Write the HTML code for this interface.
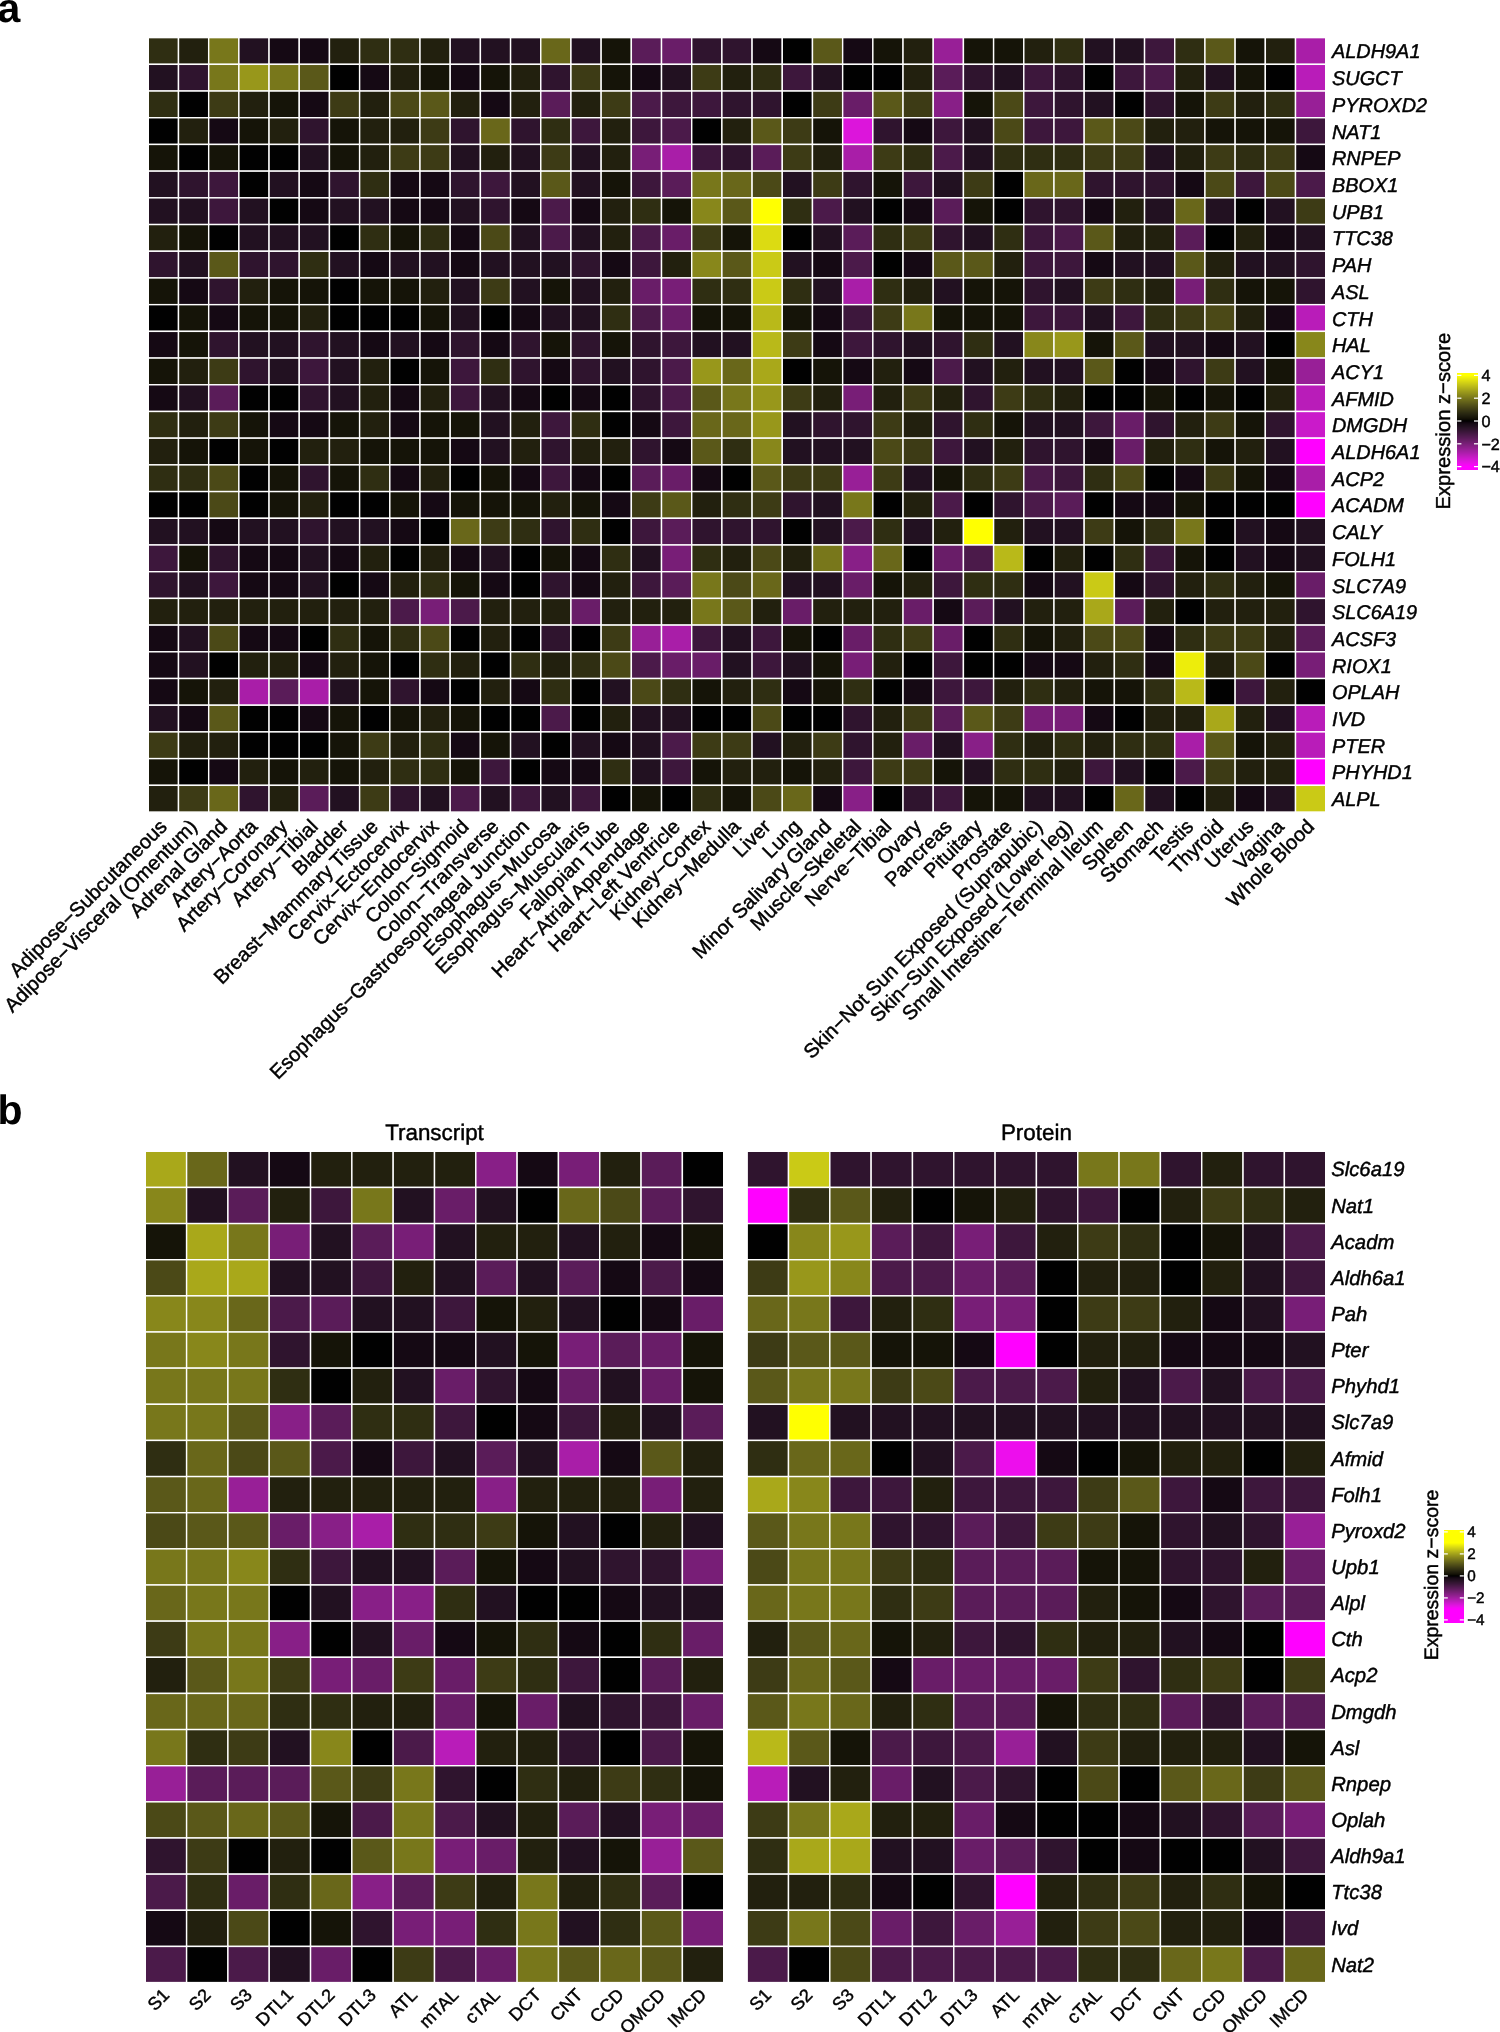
<!DOCTYPE html>
<html><head><meta charset="utf-8"><title>Heatmap</title>
<style>html,body{margin:0;padding:0;background:#fff}body{width:1500px;height:2032px;overflow:hidden;font-family:"Liberation Sans",sans-serif}</style>
</head><body>
<svg width="1500" height="2032" viewBox="0 0 1500 2032" style="display:block">
<rect width="1500" height="2032" fill="#fff"/>
<style>text{text-rendering:geometricPrecision}</style>
<g id="all" opacity="0.999">
<g stroke="#fff" stroke-width="1.4">
<rect x="148.30" y="37.63" width="30.19" height="26.70" fill="#2f2e12"/>
<rect x="178.49" y="37.63" width="30.19" height="26.70" fill="#22200e"/>
<rect x="208.68" y="37.63" width="30.19" height="26.70" fill="#78771b"/>
<rect x="238.87" y="37.63" width="30.19" height="26.70" fill="#221121"/>
<rect x="269.06" y="37.63" width="30.19" height="26.70" fill="#150914"/>
<rect x="299.25" y="37.63" width="30.19" height="26.70" fill="#150914"/>
<rect x="329.44" y="37.63" width="30.19" height="26.70" fill="#22200e"/>
<rect x="359.63" y="37.63" width="30.19" height="26.70" fill="#2f2e12"/>
<rect x="389.82" y="37.63" width="30.19" height="26.70" fill="#2f2e12"/>
<rect x="420.01" y="37.63" width="30.19" height="26.70" fill="#22200e"/>
<rect x="450.20" y="37.63" width="30.19" height="26.70" fill="#221121"/>
<rect x="480.39" y="37.63" width="30.19" height="26.70" fill="#221121"/>
<rect x="510.58" y="37.63" width="30.19" height="26.70" fill="#221121"/>
<rect x="540.77" y="37.63" width="30.19" height="26.70" fill="#69671a"/>
<rect x="570.96" y="37.63" width="30.19" height="26.70" fill="#221121"/>
<rect x="601.15" y="37.63" width="30.19" height="26.70" fill="#151408"/>
<rect x="631.34" y="37.63" width="30.19" height="26.70" fill="#5a1c59"/>
<rect x="661.53" y="37.63" width="30.19" height="26.70" fill="#691d68"/>
<rect x="691.72" y="37.63" width="30.19" height="26.70" fill="#2f142e"/>
<rect x="721.91" y="37.63" width="30.19" height="26.70" fill="#2f142e"/>
<rect x="752.09" y="37.63" width="30.19" height="26.70" fill="#150914"/>
<rect x="782.28" y="37.63" width="30.19" height="26.70" fill="#000000"/>
<rect x="812.47" y="37.63" width="30.19" height="26.70" fill="#5a5819"/>
<rect x="842.66" y="37.63" width="30.19" height="26.70" fill="#150914"/>
<rect x="872.85" y="37.63" width="30.19" height="26.70" fill="#151408"/>
<rect x="903.04" y="37.63" width="30.19" height="26.70" fill="#22200e"/>
<rect x="933.23" y="37.63" width="30.19" height="26.70" fill="#981f97"/>
<rect x="963.42" y="37.63" width="30.19" height="26.70" fill="#151408"/>
<rect x="993.61" y="37.63" width="30.19" height="26.70" fill="#151408"/>
<rect x="1023.80" y="37.63" width="30.19" height="26.70" fill="#22200e"/>
<rect x="1053.99" y="37.63" width="30.19" height="26.70" fill="#2f2e12"/>
<rect x="1084.18" y="37.63" width="30.19" height="26.70" fill="#221121"/>
<rect x="1114.37" y="37.63" width="30.19" height="26.70" fill="#221121"/>
<rect x="1144.56" y="37.63" width="30.19" height="26.70" fill="#3d173c"/>
<rect x="1174.75" y="37.63" width="30.19" height="26.70" fill="#2f2e12"/>
<rect x="1204.94" y="37.63" width="30.19" height="26.70" fill="#5a5819"/>
<rect x="1235.13" y="37.63" width="30.19" height="26.70" fill="#151408"/>
<rect x="1265.32" y="37.63" width="30.19" height="26.70" fill="#22200e"/>
<rect x="1295.51" y="37.63" width="30.19" height="26.70" fill="#a91ea8"/>
<rect x="148.30" y="64.33" width="30.19" height="26.70" fill="#221121"/>
<rect x="178.49" y="64.33" width="30.19" height="26.70" fill="#2f142e"/>
<rect x="208.68" y="64.33" width="30.19" height="26.70" fill="#78771b"/>
<rect x="238.87" y="64.33" width="30.19" height="26.70" fill="#98971b"/>
<rect x="269.06" y="64.33" width="30.19" height="26.70" fill="#78771b"/>
<rect x="299.25" y="64.33" width="30.19" height="26.70" fill="#5a5819"/>
<rect x="329.44" y="64.33" width="30.19" height="26.70" fill="#000000"/>
<rect x="359.63" y="64.33" width="30.19" height="26.70" fill="#150914"/>
<rect x="389.82" y="64.33" width="30.19" height="26.70" fill="#22200e"/>
<rect x="420.01" y="64.33" width="30.19" height="26.70" fill="#151408"/>
<rect x="450.20" y="64.33" width="30.19" height="26.70" fill="#150914"/>
<rect x="480.39" y="64.33" width="30.19" height="26.70" fill="#151408"/>
<rect x="510.58" y="64.33" width="30.19" height="26.70" fill="#22200e"/>
<rect x="540.77" y="64.33" width="30.19" height="26.70" fill="#2f142e"/>
<rect x="570.96" y="64.33" width="30.19" height="26.70" fill="#3d3b15"/>
<rect x="601.15" y="64.33" width="30.19" height="26.70" fill="#151408"/>
<rect x="631.34" y="64.33" width="30.19" height="26.70" fill="#150914"/>
<rect x="661.53" y="64.33" width="30.19" height="26.70" fill="#221121"/>
<rect x="691.72" y="64.33" width="30.19" height="26.70" fill="#3d3b15"/>
<rect x="721.91" y="64.33" width="30.19" height="26.70" fill="#22200e"/>
<rect x="752.09" y="64.33" width="30.19" height="26.70" fill="#2f2e12"/>
<rect x="782.28" y="64.33" width="30.19" height="26.70" fill="#3d173c"/>
<rect x="812.47" y="64.33" width="30.19" height="26.70" fill="#221121"/>
<rect x="842.66" y="64.33" width="30.19" height="26.70" fill="#000000"/>
<rect x="872.85" y="64.33" width="30.19" height="26.70" fill="#000000"/>
<rect x="903.04" y="64.33" width="30.19" height="26.70" fill="#22200e"/>
<rect x="933.23" y="64.33" width="30.19" height="26.70" fill="#5a1c59"/>
<rect x="963.42" y="64.33" width="30.19" height="26.70" fill="#2f142e"/>
<rect x="993.61" y="64.33" width="30.19" height="26.70" fill="#221121"/>
<rect x="1023.80" y="64.33" width="30.19" height="26.70" fill="#3d173c"/>
<rect x="1053.99" y="64.33" width="30.19" height="26.70" fill="#2f142e"/>
<rect x="1084.18" y="64.33" width="30.19" height="26.70" fill="#000000"/>
<rect x="1114.37" y="64.33" width="30.19" height="26.70" fill="#3d173c"/>
<rect x="1144.56" y="64.33" width="30.19" height="26.70" fill="#4b1a4a"/>
<rect x="1174.75" y="64.33" width="30.19" height="26.70" fill="#22200e"/>
<rect x="1204.94" y="64.33" width="30.19" height="26.70" fill="#221121"/>
<rect x="1235.13" y="64.33" width="30.19" height="26.70" fill="#151408"/>
<rect x="1265.32" y="64.33" width="30.19" height="26.70" fill="#000000"/>
<rect x="1295.51" y="64.33" width="30.19" height="26.70" fill="#b91cb9"/>
<rect x="148.30" y="91.04" width="30.19" height="26.70" fill="#2f2e12"/>
<rect x="178.49" y="91.04" width="30.19" height="26.70" fill="#000000"/>
<rect x="208.68" y="91.04" width="30.19" height="26.70" fill="#3d3b15"/>
<rect x="238.87" y="91.04" width="30.19" height="26.70" fill="#22200e"/>
<rect x="269.06" y="91.04" width="30.19" height="26.70" fill="#151408"/>
<rect x="299.25" y="91.04" width="30.19" height="26.70" fill="#150914"/>
<rect x="329.44" y="91.04" width="30.19" height="26.70" fill="#3d3b15"/>
<rect x="359.63" y="91.04" width="30.19" height="26.70" fill="#22200e"/>
<rect x="389.82" y="91.04" width="30.19" height="26.70" fill="#4b4917"/>
<rect x="420.01" y="91.04" width="30.19" height="26.70" fill="#5a5819"/>
<rect x="450.20" y="91.04" width="30.19" height="26.70" fill="#22200e"/>
<rect x="480.39" y="91.04" width="30.19" height="26.70" fill="#150914"/>
<rect x="510.58" y="91.04" width="30.19" height="26.70" fill="#22200e"/>
<rect x="540.77" y="91.04" width="30.19" height="26.70" fill="#5a1c59"/>
<rect x="570.96" y="91.04" width="30.19" height="26.70" fill="#22200e"/>
<rect x="601.15" y="91.04" width="30.19" height="26.70" fill="#3d3b15"/>
<rect x="631.34" y="91.04" width="30.19" height="26.70" fill="#4b1a4a"/>
<rect x="661.53" y="91.04" width="30.19" height="26.70" fill="#3d173c"/>
<rect x="691.72" y="91.04" width="30.19" height="26.70" fill="#3d173c"/>
<rect x="721.91" y="91.04" width="30.19" height="26.70" fill="#2f142e"/>
<rect x="752.09" y="91.04" width="30.19" height="26.70" fill="#2f142e"/>
<rect x="782.28" y="91.04" width="30.19" height="26.70" fill="#000000"/>
<rect x="812.47" y="91.04" width="30.19" height="26.70" fill="#3d3b15"/>
<rect x="842.66" y="91.04" width="30.19" height="26.70" fill="#691d68"/>
<rect x="872.85" y="91.04" width="30.19" height="26.70" fill="#5a5819"/>
<rect x="903.04" y="91.04" width="30.19" height="26.70" fill="#3d3b15"/>
<rect x="933.23" y="91.04" width="30.19" height="26.70" fill="#881f87"/>
<rect x="963.42" y="91.04" width="30.19" height="26.70" fill="#151408"/>
<rect x="993.61" y="91.04" width="30.19" height="26.70" fill="#4b4917"/>
<rect x="1023.80" y="91.04" width="30.19" height="26.70" fill="#3d173c"/>
<rect x="1053.99" y="91.04" width="30.19" height="26.70" fill="#2f142e"/>
<rect x="1084.18" y="91.04" width="30.19" height="26.70" fill="#221121"/>
<rect x="1114.37" y="91.04" width="30.19" height="26.70" fill="#000000"/>
<rect x="1144.56" y="91.04" width="30.19" height="26.70" fill="#2f142e"/>
<rect x="1174.75" y="91.04" width="30.19" height="26.70" fill="#151408"/>
<rect x="1204.94" y="91.04" width="30.19" height="26.70" fill="#3d3b15"/>
<rect x="1235.13" y="91.04" width="30.19" height="26.70" fill="#22200e"/>
<rect x="1265.32" y="91.04" width="30.19" height="26.70" fill="#2f2e12"/>
<rect x="1295.51" y="91.04" width="30.19" height="26.70" fill="#981f97"/>
<rect x="148.30" y="117.74" width="30.19" height="26.70" fill="#000000"/>
<rect x="178.49" y="117.74" width="30.19" height="26.70" fill="#22200e"/>
<rect x="208.68" y="117.74" width="30.19" height="26.70" fill="#150914"/>
<rect x="238.87" y="117.74" width="30.19" height="26.70" fill="#151408"/>
<rect x="269.06" y="117.74" width="30.19" height="26.70" fill="#22200e"/>
<rect x="299.25" y="117.74" width="30.19" height="26.70" fill="#2f142e"/>
<rect x="329.44" y="117.74" width="30.19" height="26.70" fill="#151408"/>
<rect x="359.63" y="117.74" width="30.19" height="26.70" fill="#22200e"/>
<rect x="389.82" y="117.74" width="30.19" height="26.70" fill="#22200e"/>
<rect x="420.01" y="117.74" width="30.19" height="26.70" fill="#3d3b15"/>
<rect x="450.20" y="117.74" width="30.19" height="26.70" fill="#2f142e"/>
<rect x="480.39" y="117.74" width="30.19" height="26.70" fill="#69671a"/>
<rect x="510.58" y="117.74" width="30.19" height="26.70" fill="#2f142e"/>
<rect x="540.77" y="117.74" width="30.19" height="26.70" fill="#2f2e12"/>
<rect x="570.96" y="117.74" width="30.19" height="26.70" fill="#3d173c"/>
<rect x="601.15" y="117.74" width="30.19" height="26.70" fill="#22200e"/>
<rect x="631.34" y="117.74" width="30.19" height="26.70" fill="#3d173c"/>
<rect x="661.53" y="117.74" width="30.19" height="26.70" fill="#4b1a4a"/>
<rect x="691.72" y="117.74" width="30.19" height="26.70" fill="#000000"/>
<rect x="721.91" y="117.74" width="30.19" height="26.70" fill="#22200e"/>
<rect x="752.09" y="117.74" width="30.19" height="26.70" fill="#5a5819"/>
<rect x="782.28" y="117.74" width="30.19" height="26.70" fill="#3d3b15"/>
<rect x="812.47" y="117.74" width="30.19" height="26.70" fill="#151408"/>
<rect x="842.66" y="117.74" width="30.19" height="26.70" fill="#dc15db"/>
<rect x="872.85" y="117.74" width="30.19" height="26.70" fill="#2f142e"/>
<rect x="903.04" y="117.74" width="30.19" height="26.70" fill="#150914"/>
<rect x="933.23" y="117.74" width="30.19" height="26.70" fill="#3d173c"/>
<rect x="963.42" y="117.74" width="30.19" height="26.70" fill="#221121"/>
<rect x="993.61" y="117.74" width="30.19" height="26.70" fill="#4b4917"/>
<rect x="1023.80" y="117.74" width="30.19" height="26.70" fill="#3d173c"/>
<rect x="1053.99" y="117.74" width="30.19" height="26.70" fill="#3d173c"/>
<rect x="1084.18" y="117.74" width="30.19" height="26.70" fill="#5a5819"/>
<rect x="1114.37" y="117.74" width="30.19" height="26.70" fill="#4b4917"/>
<rect x="1144.56" y="117.74" width="30.19" height="26.70" fill="#22200e"/>
<rect x="1174.75" y="117.74" width="30.19" height="26.70" fill="#22200e"/>
<rect x="1204.94" y="117.74" width="30.19" height="26.70" fill="#151408"/>
<rect x="1235.13" y="117.74" width="30.19" height="26.70" fill="#151408"/>
<rect x="1265.32" y="117.74" width="30.19" height="26.70" fill="#151408"/>
<rect x="1295.51" y="117.74" width="30.19" height="26.70" fill="#3d173c"/>
<rect x="148.30" y="144.44" width="30.19" height="26.70" fill="#151408"/>
<rect x="178.49" y="144.44" width="30.19" height="26.70" fill="#000000"/>
<rect x="208.68" y="144.44" width="30.19" height="26.70" fill="#151408"/>
<rect x="238.87" y="144.44" width="30.19" height="26.70" fill="#000000"/>
<rect x="269.06" y="144.44" width="30.19" height="26.70" fill="#000000"/>
<rect x="299.25" y="144.44" width="30.19" height="26.70" fill="#221121"/>
<rect x="329.44" y="144.44" width="30.19" height="26.70" fill="#151408"/>
<rect x="359.63" y="144.44" width="30.19" height="26.70" fill="#22200e"/>
<rect x="389.82" y="144.44" width="30.19" height="26.70" fill="#3d3b15"/>
<rect x="420.01" y="144.44" width="30.19" height="26.70" fill="#3d3b15"/>
<rect x="450.20" y="144.44" width="30.19" height="26.70" fill="#221121"/>
<rect x="480.39" y="144.44" width="30.19" height="26.70" fill="#22200e"/>
<rect x="510.58" y="144.44" width="30.19" height="26.70" fill="#221121"/>
<rect x="540.77" y="144.44" width="30.19" height="26.70" fill="#3d3b15"/>
<rect x="570.96" y="144.44" width="30.19" height="26.70" fill="#221121"/>
<rect x="601.15" y="144.44" width="30.19" height="26.70" fill="#22200e"/>
<rect x="631.34" y="144.44" width="30.19" height="26.70" fill="#781e77"/>
<rect x="661.53" y="144.44" width="30.19" height="26.70" fill="#a91ea8"/>
<rect x="691.72" y="144.44" width="30.19" height="26.70" fill="#3d173c"/>
<rect x="721.91" y="144.44" width="30.19" height="26.70" fill="#2f142e"/>
<rect x="752.09" y="144.44" width="30.19" height="26.70" fill="#5a1c59"/>
<rect x="782.28" y="144.44" width="30.19" height="26.70" fill="#3d3b15"/>
<rect x="812.47" y="144.44" width="30.19" height="26.70" fill="#22200e"/>
<rect x="842.66" y="144.44" width="30.19" height="26.70" fill="#a91ea8"/>
<rect x="872.85" y="144.44" width="30.19" height="26.70" fill="#3d3b15"/>
<rect x="903.04" y="144.44" width="30.19" height="26.70" fill="#2f2e12"/>
<rect x="933.23" y="144.44" width="30.19" height="26.70" fill="#4b1a4a"/>
<rect x="963.42" y="144.44" width="30.19" height="26.70" fill="#221121"/>
<rect x="993.61" y="144.44" width="30.19" height="26.70" fill="#2f2e12"/>
<rect x="1023.80" y="144.44" width="30.19" height="26.70" fill="#2f2e12"/>
<rect x="1053.99" y="144.44" width="30.19" height="26.70" fill="#2f2e12"/>
<rect x="1084.18" y="144.44" width="30.19" height="26.70" fill="#3d3b15"/>
<rect x="1114.37" y="144.44" width="30.19" height="26.70" fill="#3d3b15"/>
<rect x="1144.56" y="144.44" width="30.19" height="26.70" fill="#221121"/>
<rect x="1174.75" y="144.44" width="30.19" height="26.70" fill="#22200e"/>
<rect x="1204.94" y="144.44" width="30.19" height="26.70" fill="#3d3b15"/>
<rect x="1235.13" y="144.44" width="30.19" height="26.70" fill="#2f2e12"/>
<rect x="1265.32" y="144.44" width="30.19" height="26.70" fill="#3d3b15"/>
<rect x="1295.51" y="144.44" width="30.19" height="26.70" fill="#150914"/>
<rect x="148.30" y="171.15" width="30.19" height="26.70" fill="#221121"/>
<rect x="178.49" y="171.15" width="30.19" height="26.70" fill="#2f142e"/>
<rect x="208.68" y="171.15" width="30.19" height="26.70" fill="#3d173c"/>
<rect x="238.87" y="171.15" width="30.19" height="26.70" fill="#000000"/>
<rect x="269.06" y="171.15" width="30.19" height="26.70" fill="#221121"/>
<rect x="299.25" y="171.15" width="30.19" height="26.70" fill="#150914"/>
<rect x="329.44" y="171.15" width="30.19" height="26.70" fill="#2f142e"/>
<rect x="359.63" y="171.15" width="30.19" height="26.70" fill="#2f2e12"/>
<rect x="389.82" y="171.15" width="30.19" height="26.70" fill="#150914"/>
<rect x="420.01" y="171.15" width="30.19" height="26.70" fill="#150914"/>
<rect x="450.20" y="171.15" width="30.19" height="26.70" fill="#2f142e"/>
<rect x="480.39" y="171.15" width="30.19" height="26.70" fill="#3d173c"/>
<rect x="510.58" y="171.15" width="30.19" height="26.70" fill="#221121"/>
<rect x="540.77" y="171.15" width="30.19" height="26.70" fill="#5a5819"/>
<rect x="570.96" y="171.15" width="30.19" height="26.70" fill="#221121"/>
<rect x="601.15" y="171.15" width="30.19" height="26.70" fill="#151408"/>
<rect x="631.34" y="171.15" width="30.19" height="26.70" fill="#3d173c"/>
<rect x="661.53" y="171.15" width="30.19" height="26.70" fill="#5a1c59"/>
<rect x="691.72" y="171.15" width="30.19" height="26.70" fill="#78771b"/>
<rect x="721.91" y="171.15" width="30.19" height="26.70" fill="#69671a"/>
<rect x="752.09" y="171.15" width="30.19" height="26.70" fill="#4b4917"/>
<rect x="782.28" y="171.15" width="30.19" height="26.70" fill="#221121"/>
<rect x="812.47" y="171.15" width="30.19" height="26.70" fill="#3d3b15"/>
<rect x="842.66" y="171.15" width="30.19" height="26.70" fill="#2f142e"/>
<rect x="872.85" y="171.15" width="30.19" height="26.70" fill="#151408"/>
<rect x="903.04" y="171.15" width="30.19" height="26.70" fill="#3d173c"/>
<rect x="933.23" y="171.15" width="30.19" height="26.70" fill="#221121"/>
<rect x="963.42" y="171.15" width="30.19" height="26.70" fill="#3d3b15"/>
<rect x="993.61" y="171.15" width="30.19" height="26.70" fill="#000000"/>
<rect x="1023.80" y="171.15" width="30.19" height="26.70" fill="#69671a"/>
<rect x="1053.99" y="171.15" width="30.19" height="26.70" fill="#69671a"/>
<rect x="1084.18" y="171.15" width="30.19" height="26.70" fill="#2f142e"/>
<rect x="1114.37" y="171.15" width="30.19" height="26.70" fill="#2f142e"/>
<rect x="1144.56" y="171.15" width="30.19" height="26.70" fill="#2f142e"/>
<rect x="1174.75" y="171.15" width="30.19" height="26.70" fill="#150914"/>
<rect x="1204.94" y="171.15" width="30.19" height="26.70" fill="#4b4917"/>
<rect x="1235.13" y="171.15" width="30.19" height="26.70" fill="#3d173c"/>
<rect x="1265.32" y="171.15" width="30.19" height="26.70" fill="#4b4917"/>
<rect x="1295.51" y="171.15" width="30.19" height="26.70" fill="#4b1a4a"/>
<rect x="148.30" y="197.85" width="30.19" height="26.70" fill="#221121"/>
<rect x="178.49" y="197.85" width="30.19" height="26.70" fill="#221121"/>
<rect x="208.68" y="197.85" width="30.19" height="26.70" fill="#3d173c"/>
<rect x="238.87" y="197.85" width="30.19" height="26.70" fill="#221121"/>
<rect x="269.06" y="197.85" width="30.19" height="26.70" fill="#000000"/>
<rect x="299.25" y="197.85" width="30.19" height="26.70" fill="#150914"/>
<rect x="329.44" y="197.85" width="30.19" height="26.70" fill="#221121"/>
<rect x="359.63" y="197.85" width="30.19" height="26.70" fill="#221121"/>
<rect x="389.82" y="197.85" width="30.19" height="26.70" fill="#150914"/>
<rect x="420.01" y="197.85" width="30.19" height="26.70" fill="#150914"/>
<rect x="450.20" y="197.85" width="30.19" height="26.70" fill="#221121"/>
<rect x="480.39" y="197.85" width="30.19" height="26.70" fill="#2f142e"/>
<rect x="510.58" y="197.85" width="30.19" height="26.70" fill="#150914"/>
<rect x="540.77" y="197.85" width="30.19" height="26.70" fill="#4b1a4a"/>
<rect x="570.96" y="197.85" width="30.19" height="26.70" fill="#150914"/>
<rect x="601.15" y="197.85" width="30.19" height="26.70" fill="#22200e"/>
<rect x="631.34" y="197.85" width="30.19" height="26.70" fill="#2f2e12"/>
<rect x="661.53" y="197.85" width="30.19" height="26.70" fill="#151408"/>
<rect x="691.72" y="197.85" width="30.19" height="26.70" fill="#88871b"/>
<rect x="721.91" y="197.85" width="30.19" height="26.70" fill="#5a5819"/>
<rect x="752.09" y="197.85" width="30.19" height="26.70" fill="#ffff00"/>
<rect x="782.28" y="197.85" width="30.19" height="26.70" fill="#2f2e12"/>
<rect x="812.47" y="197.85" width="30.19" height="26.70" fill="#4b1a4a"/>
<rect x="842.66" y="197.85" width="30.19" height="26.70" fill="#221121"/>
<rect x="872.85" y="197.85" width="30.19" height="26.70" fill="#000000"/>
<rect x="903.04" y="197.85" width="30.19" height="26.70" fill="#150914"/>
<rect x="933.23" y="197.85" width="30.19" height="26.70" fill="#5a1c59"/>
<rect x="963.42" y="197.85" width="30.19" height="26.70" fill="#151408"/>
<rect x="993.61" y="197.85" width="30.19" height="26.70" fill="#000000"/>
<rect x="1023.80" y="197.85" width="30.19" height="26.70" fill="#2f142e"/>
<rect x="1053.99" y="197.85" width="30.19" height="26.70" fill="#2f142e"/>
<rect x="1084.18" y="197.85" width="30.19" height="26.70" fill="#150914"/>
<rect x="1114.37" y="197.85" width="30.19" height="26.70" fill="#22200e"/>
<rect x="1144.56" y="197.85" width="30.19" height="26.70" fill="#221121"/>
<rect x="1174.75" y="197.85" width="30.19" height="26.70" fill="#69671a"/>
<rect x="1204.94" y="197.85" width="30.19" height="26.70" fill="#221121"/>
<rect x="1235.13" y="197.85" width="30.19" height="26.70" fill="#000000"/>
<rect x="1265.32" y="197.85" width="30.19" height="26.70" fill="#221121"/>
<rect x="1295.51" y="197.85" width="30.19" height="26.70" fill="#3d3b15"/>
<rect x="148.30" y="224.55" width="30.19" height="26.70" fill="#22200e"/>
<rect x="178.49" y="224.55" width="30.19" height="26.70" fill="#151408"/>
<rect x="208.68" y="224.55" width="30.19" height="26.70" fill="#000000"/>
<rect x="238.87" y="224.55" width="30.19" height="26.70" fill="#221121"/>
<rect x="269.06" y="224.55" width="30.19" height="26.70" fill="#221121"/>
<rect x="299.25" y="224.55" width="30.19" height="26.70" fill="#221121"/>
<rect x="329.44" y="224.55" width="30.19" height="26.70" fill="#000000"/>
<rect x="359.63" y="224.55" width="30.19" height="26.70" fill="#2f2e12"/>
<rect x="389.82" y="224.55" width="30.19" height="26.70" fill="#151408"/>
<rect x="420.01" y="224.55" width="30.19" height="26.70" fill="#2f2e12"/>
<rect x="450.20" y="224.55" width="30.19" height="26.70" fill="#150914"/>
<rect x="480.39" y="224.55" width="30.19" height="26.70" fill="#4b4917"/>
<rect x="510.58" y="224.55" width="30.19" height="26.70" fill="#221121"/>
<rect x="540.77" y="224.55" width="30.19" height="26.70" fill="#4b1a4a"/>
<rect x="570.96" y="224.55" width="30.19" height="26.70" fill="#221121"/>
<rect x="601.15" y="224.55" width="30.19" height="26.70" fill="#22200e"/>
<rect x="631.34" y="224.55" width="30.19" height="26.70" fill="#4b1a4a"/>
<rect x="661.53" y="224.55" width="30.19" height="26.70" fill="#691d68"/>
<rect x="691.72" y="224.55" width="30.19" height="26.70" fill="#3d3b15"/>
<rect x="721.91" y="224.55" width="30.19" height="26.70" fill="#151408"/>
<rect x="752.09" y="224.55" width="30.19" height="26.70" fill="#dcdb12"/>
<rect x="782.28" y="224.55" width="30.19" height="26.70" fill="#000000"/>
<rect x="812.47" y="224.55" width="30.19" height="26.70" fill="#221121"/>
<rect x="842.66" y="224.55" width="30.19" height="26.70" fill="#5a1c59"/>
<rect x="872.85" y="224.55" width="30.19" height="26.70" fill="#2f2e12"/>
<rect x="903.04" y="224.55" width="30.19" height="26.70" fill="#3d3b15"/>
<rect x="933.23" y="224.55" width="30.19" height="26.70" fill="#2f142e"/>
<rect x="963.42" y="224.55" width="30.19" height="26.70" fill="#221121"/>
<rect x="993.61" y="224.55" width="30.19" height="26.70" fill="#2f2e12"/>
<rect x="1023.80" y="224.55" width="30.19" height="26.70" fill="#3d173c"/>
<rect x="1053.99" y="224.55" width="30.19" height="26.70" fill="#4b1a4a"/>
<rect x="1084.18" y="224.55" width="30.19" height="26.70" fill="#5a5819"/>
<rect x="1114.37" y="224.55" width="30.19" height="26.70" fill="#22200e"/>
<rect x="1144.56" y="224.55" width="30.19" height="26.70" fill="#22200e"/>
<rect x="1174.75" y="224.55" width="30.19" height="26.70" fill="#5a1c59"/>
<rect x="1204.94" y="224.55" width="30.19" height="26.70" fill="#000000"/>
<rect x="1235.13" y="224.55" width="30.19" height="26.70" fill="#22200e"/>
<rect x="1265.32" y="224.55" width="30.19" height="26.70" fill="#150914"/>
<rect x="1295.51" y="224.55" width="30.19" height="26.70" fill="#221121"/>
<rect x="148.30" y="251.26" width="30.19" height="26.70" fill="#2f142e"/>
<rect x="178.49" y="251.26" width="30.19" height="26.70" fill="#221121"/>
<rect x="208.68" y="251.26" width="30.19" height="26.70" fill="#5a5819"/>
<rect x="238.87" y="251.26" width="30.19" height="26.70" fill="#2f142e"/>
<rect x="269.06" y="251.26" width="30.19" height="26.70" fill="#2f142e"/>
<rect x="299.25" y="251.26" width="30.19" height="26.70" fill="#2f2e12"/>
<rect x="329.44" y="251.26" width="30.19" height="26.70" fill="#221121"/>
<rect x="359.63" y="251.26" width="30.19" height="26.70" fill="#150914"/>
<rect x="389.82" y="251.26" width="30.19" height="26.70" fill="#221121"/>
<rect x="420.01" y="251.26" width="30.19" height="26.70" fill="#221121"/>
<rect x="450.20" y="251.26" width="30.19" height="26.70" fill="#150914"/>
<rect x="480.39" y="251.26" width="30.19" height="26.70" fill="#221121"/>
<rect x="510.58" y="251.26" width="30.19" height="26.70" fill="#221121"/>
<rect x="540.77" y="251.26" width="30.19" height="26.70" fill="#221121"/>
<rect x="570.96" y="251.26" width="30.19" height="26.70" fill="#2f142e"/>
<rect x="601.15" y="251.26" width="30.19" height="26.70" fill="#150914"/>
<rect x="631.34" y="251.26" width="30.19" height="26.70" fill="#3d173c"/>
<rect x="661.53" y="251.26" width="30.19" height="26.70" fill="#22200e"/>
<rect x="691.72" y="251.26" width="30.19" height="26.70" fill="#88871b"/>
<rect x="721.91" y="251.26" width="30.19" height="26.70" fill="#5a5819"/>
<rect x="752.09" y="251.26" width="30.19" height="26.70" fill="#caca16"/>
<rect x="782.28" y="251.26" width="30.19" height="26.70" fill="#221121"/>
<rect x="812.47" y="251.26" width="30.19" height="26.70" fill="#150914"/>
<rect x="842.66" y="251.26" width="30.19" height="26.70" fill="#4b1a4a"/>
<rect x="872.85" y="251.26" width="30.19" height="26.70" fill="#000000"/>
<rect x="903.04" y="251.26" width="30.19" height="26.70" fill="#150914"/>
<rect x="933.23" y="251.26" width="30.19" height="26.70" fill="#5a5819"/>
<rect x="963.42" y="251.26" width="30.19" height="26.70" fill="#5a5819"/>
<rect x="993.61" y="251.26" width="30.19" height="26.70" fill="#22200e"/>
<rect x="1023.80" y="251.26" width="30.19" height="26.70" fill="#3d173c"/>
<rect x="1053.99" y="251.26" width="30.19" height="26.70" fill="#3d173c"/>
<rect x="1084.18" y="251.26" width="30.19" height="26.70" fill="#150914"/>
<rect x="1114.37" y="251.26" width="30.19" height="26.70" fill="#221121"/>
<rect x="1144.56" y="251.26" width="30.19" height="26.70" fill="#221121"/>
<rect x="1174.75" y="251.26" width="30.19" height="26.70" fill="#5a5819"/>
<rect x="1204.94" y="251.26" width="30.19" height="26.70" fill="#22200e"/>
<rect x="1235.13" y="251.26" width="30.19" height="26.70" fill="#221121"/>
<rect x="1265.32" y="251.26" width="30.19" height="26.70" fill="#221121"/>
<rect x="1295.51" y="251.26" width="30.19" height="26.70" fill="#2f142e"/>
<rect x="148.30" y="277.96" width="30.19" height="26.70" fill="#151408"/>
<rect x="178.49" y="277.96" width="30.19" height="26.70" fill="#150914"/>
<rect x="208.68" y="277.96" width="30.19" height="26.70" fill="#2f142e"/>
<rect x="238.87" y="277.96" width="30.19" height="26.70" fill="#22200e"/>
<rect x="269.06" y="277.96" width="30.19" height="26.70" fill="#151408"/>
<rect x="299.25" y="277.96" width="30.19" height="26.70" fill="#151408"/>
<rect x="329.44" y="277.96" width="30.19" height="26.70" fill="#000000"/>
<rect x="359.63" y="277.96" width="30.19" height="26.70" fill="#151408"/>
<rect x="389.82" y="277.96" width="30.19" height="26.70" fill="#151408"/>
<rect x="420.01" y="277.96" width="30.19" height="26.70" fill="#22200e"/>
<rect x="450.20" y="277.96" width="30.19" height="26.70" fill="#221121"/>
<rect x="480.39" y="277.96" width="30.19" height="26.70" fill="#3d3b15"/>
<rect x="510.58" y="277.96" width="30.19" height="26.70" fill="#221121"/>
<rect x="540.77" y="277.96" width="30.19" height="26.70" fill="#151408"/>
<rect x="570.96" y="277.96" width="30.19" height="26.70" fill="#221121"/>
<rect x="601.15" y="277.96" width="30.19" height="26.70" fill="#22200e"/>
<rect x="631.34" y="277.96" width="30.19" height="26.70" fill="#691d68"/>
<rect x="661.53" y="277.96" width="30.19" height="26.70" fill="#781e77"/>
<rect x="691.72" y="277.96" width="30.19" height="26.70" fill="#2f2e12"/>
<rect x="721.91" y="277.96" width="30.19" height="26.70" fill="#2f2e12"/>
<rect x="752.09" y="277.96" width="30.19" height="26.70" fill="#caca16"/>
<rect x="782.28" y="277.96" width="30.19" height="26.70" fill="#2f2e12"/>
<rect x="812.47" y="277.96" width="30.19" height="26.70" fill="#221121"/>
<rect x="842.66" y="277.96" width="30.19" height="26.70" fill="#a91ea8"/>
<rect x="872.85" y="277.96" width="30.19" height="26.70" fill="#2f2e12"/>
<rect x="903.04" y="277.96" width="30.19" height="26.70" fill="#22200e"/>
<rect x="933.23" y="277.96" width="30.19" height="26.70" fill="#221121"/>
<rect x="963.42" y="277.96" width="30.19" height="26.70" fill="#151408"/>
<rect x="993.61" y="277.96" width="30.19" height="26.70" fill="#151408"/>
<rect x="1023.80" y="277.96" width="30.19" height="26.70" fill="#2f142e"/>
<rect x="1053.99" y="277.96" width="30.19" height="26.70" fill="#221121"/>
<rect x="1084.18" y="277.96" width="30.19" height="26.70" fill="#3d3b15"/>
<rect x="1114.37" y="277.96" width="30.19" height="26.70" fill="#2f2e12"/>
<rect x="1144.56" y="277.96" width="30.19" height="26.70" fill="#22200e"/>
<rect x="1174.75" y="277.96" width="30.19" height="26.70" fill="#781e77"/>
<rect x="1204.94" y="277.96" width="30.19" height="26.70" fill="#2f2e12"/>
<rect x="1235.13" y="277.96" width="30.19" height="26.70" fill="#151408"/>
<rect x="1265.32" y="277.96" width="30.19" height="26.70" fill="#151408"/>
<rect x="1295.51" y="277.96" width="30.19" height="26.70" fill="#2f142e"/>
<rect x="148.30" y="304.66" width="30.19" height="26.70" fill="#000000"/>
<rect x="178.49" y="304.66" width="30.19" height="26.70" fill="#151408"/>
<rect x="208.68" y="304.66" width="30.19" height="26.70" fill="#150914"/>
<rect x="238.87" y="304.66" width="30.19" height="26.70" fill="#151408"/>
<rect x="269.06" y="304.66" width="30.19" height="26.70" fill="#151408"/>
<rect x="299.25" y="304.66" width="30.19" height="26.70" fill="#22200e"/>
<rect x="329.44" y="304.66" width="30.19" height="26.70" fill="#000000"/>
<rect x="359.63" y="304.66" width="30.19" height="26.70" fill="#000000"/>
<rect x="389.82" y="304.66" width="30.19" height="26.70" fill="#000000"/>
<rect x="420.01" y="304.66" width="30.19" height="26.70" fill="#151408"/>
<rect x="450.20" y="304.66" width="30.19" height="26.70" fill="#221121"/>
<rect x="480.39" y="304.66" width="30.19" height="26.70" fill="#000000"/>
<rect x="510.58" y="304.66" width="30.19" height="26.70" fill="#150914"/>
<rect x="540.77" y="304.66" width="30.19" height="26.70" fill="#221121"/>
<rect x="570.96" y="304.66" width="30.19" height="26.70" fill="#221121"/>
<rect x="601.15" y="304.66" width="30.19" height="26.70" fill="#2f2e12"/>
<rect x="631.34" y="304.66" width="30.19" height="26.70" fill="#4b1a4a"/>
<rect x="661.53" y="304.66" width="30.19" height="26.70" fill="#691d68"/>
<rect x="691.72" y="304.66" width="30.19" height="26.70" fill="#151408"/>
<rect x="721.91" y="304.66" width="30.19" height="26.70" fill="#151408"/>
<rect x="752.09" y="304.66" width="30.19" height="26.70" fill="#b9b919"/>
<rect x="782.28" y="304.66" width="30.19" height="26.70" fill="#151408"/>
<rect x="812.47" y="304.66" width="30.19" height="26.70" fill="#150914"/>
<rect x="842.66" y="304.66" width="30.19" height="26.70" fill="#3d173c"/>
<rect x="872.85" y="304.66" width="30.19" height="26.70" fill="#3d3b15"/>
<rect x="903.04" y="304.66" width="30.19" height="26.70" fill="#78771b"/>
<rect x="933.23" y="304.66" width="30.19" height="26.70" fill="#151408"/>
<rect x="963.42" y="304.66" width="30.19" height="26.70" fill="#151408"/>
<rect x="993.61" y="304.66" width="30.19" height="26.70" fill="#151408"/>
<rect x="1023.80" y="304.66" width="30.19" height="26.70" fill="#3d173c"/>
<rect x="1053.99" y="304.66" width="30.19" height="26.70" fill="#3d173c"/>
<rect x="1084.18" y="304.66" width="30.19" height="26.70" fill="#221121"/>
<rect x="1114.37" y="304.66" width="30.19" height="26.70" fill="#3d173c"/>
<rect x="1144.56" y="304.66" width="30.19" height="26.70" fill="#2f2e12"/>
<rect x="1174.75" y="304.66" width="30.19" height="26.70" fill="#3d3b15"/>
<rect x="1204.94" y="304.66" width="30.19" height="26.70" fill="#4b4917"/>
<rect x="1235.13" y="304.66" width="30.19" height="26.70" fill="#22200e"/>
<rect x="1265.32" y="304.66" width="30.19" height="26.70" fill="#150914"/>
<rect x="1295.51" y="304.66" width="30.19" height="26.70" fill="#b91cb9"/>
<rect x="148.30" y="331.37" width="30.19" height="26.70" fill="#150914"/>
<rect x="178.49" y="331.37" width="30.19" height="26.70" fill="#151408"/>
<rect x="208.68" y="331.37" width="30.19" height="26.70" fill="#2f142e"/>
<rect x="238.87" y="331.37" width="30.19" height="26.70" fill="#221121"/>
<rect x="269.06" y="331.37" width="30.19" height="26.70" fill="#221121"/>
<rect x="299.25" y="331.37" width="30.19" height="26.70" fill="#2f142e"/>
<rect x="329.44" y="331.37" width="30.19" height="26.70" fill="#221121"/>
<rect x="359.63" y="331.37" width="30.19" height="26.70" fill="#150914"/>
<rect x="389.82" y="331.37" width="30.19" height="26.70" fill="#221121"/>
<rect x="420.01" y="331.37" width="30.19" height="26.70" fill="#150914"/>
<rect x="450.20" y="331.37" width="30.19" height="26.70" fill="#2f142e"/>
<rect x="480.39" y="331.37" width="30.19" height="26.70" fill="#150914"/>
<rect x="510.58" y="331.37" width="30.19" height="26.70" fill="#2f142e"/>
<rect x="540.77" y="331.37" width="30.19" height="26.70" fill="#151408"/>
<rect x="570.96" y="331.37" width="30.19" height="26.70" fill="#2f142e"/>
<rect x="601.15" y="331.37" width="30.19" height="26.70" fill="#151408"/>
<rect x="631.34" y="331.37" width="30.19" height="26.70" fill="#2f142e"/>
<rect x="661.53" y="331.37" width="30.19" height="26.70" fill="#3d173c"/>
<rect x="691.72" y="331.37" width="30.19" height="26.70" fill="#221121"/>
<rect x="721.91" y="331.37" width="30.19" height="26.70" fill="#221121"/>
<rect x="752.09" y="331.37" width="30.19" height="26.70" fill="#b9b919"/>
<rect x="782.28" y="331.37" width="30.19" height="26.70" fill="#3d3b15"/>
<rect x="812.47" y="331.37" width="30.19" height="26.70" fill="#150914"/>
<rect x="842.66" y="331.37" width="30.19" height="26.70" fill="#3d173c"/>
<rect x="872.85" y="331.37" width="30.19" height="26.70" fill="#2f142e"/>
<rect x="903.04" y="331.37" width="30.19" height="26.70" fill="#221121"/>
<rect x="933.23" y="331.37" width="30.19" height="26.70" fill="#2f142e"/>
<rect x="963.42" y="331.37" width="30.19" height="26.70" fill="#2f2e12"/>
<rect x="993.61" y="331.37" width="30.19" height="26.70" fill="#221121"/>
<rect x="1023.80" y="331.37" width="30.19" height="26.70" fill="#88871b"/>
<rect x="1053.99" y="331.37" width="30.19" height="26.70" fill="#98971b"/>
<rect x="1084.18" y="331.37" width="30.19" height="26.70" fill="#151408"/>
<rect x="1114.37" y="331.37" width="30.19" height="26.70" fill="#5a5819"/>
<rect x="1144.56" y="331.37" width="30.19" height="26.70" fill="#221121"/>
<rect x="1174.75" y="331.37" width="30.19" height="26.70" fill="#221121"/>
<rect x="1204.94" y="331.37" width="30.19" height="26.70" fill="#150914"/>
<rect x="1235.13" y="331.37" width="30.19" height="26.70" fill="#221121"/>
<rect x="1265.32" y="331.37" width="30.19" height="26.70" fill="#000000"/>
<rect x="1295.51" y="331.37" width="30.19" height="26.70" fill="#88871b"/>
<rect x="148.30" y="358.07" width="30.19" height="26.70" fill="#151408"/>
<rect x="178.49" y="358.07" width="30.19" height="26.70" fill="#22200e"/>
<rect x="208.68" y="358.07" width="30.19" height="26.70" fill="#3d3b15"/>
<rect x="238.87" y="358.07" width="30.19" height="26.70" fill="#2f142e"/>
<rect x="269.06" y="358.07" width="30.19" height="26.70" fill="#221121"/>
<rect x="299.25" y="358.07" width="30.19" height="26.70" fill="#3d173c"/>
<rect x="329.44" y="358.07" width="30.19" height="26.70" fill="#221121"/>
<rect x="359.63" y="358.07" width="30.19" height="26.70" fill="#22200e"/>
<rect x="389.82" y="358.07" width="30.19" height="26.70" fill="#000000"/>
<rect x="420.01" y="358.07" width="30.19" height="26.70" fill="#151408"/>
<rect x="450.20" y="358.07" width="30.19" height="26.70" fill="#3d173c"/>
<rect x="480.39" y="358.07" width="30.19" height="26.70" fill="#2f2e12"/>
<rect x="510.58" y="358.07" width="30.19" height="26.70" fill="#2f142e"/>
<rect x="540.77" y="358.07" width="30.19" height="26.70" fill="#150914"/>
<rect x="570.96" y="358.07" width="30.19" height="26.70" fill="#2f142e"/>
<rect x="601.15" y="358.07" width="30.19" height="26.70" fill="#221121"/>
<rect x="631.34" y="358.07" width="30.19" height="26.70" fill="#2f142e"/>
<rect x="661.53" y="358.07" width="30.19" height="26.70" fill="#4b1a4a"/>
<rect x="691.72" y="358.07" width="30.19" height="26.70" fill="#98971b"/>
<rect x="721.91" y="358.07" width="30.19" height="26.70" fill="#69671a"/>
<rect x="752.09" y="358.07" width="30.19" height="26.70" fill="#a9a81a"/>
<rect x="782.28" y="358.07" width="30.19" height="26.70" fill="#000000"/>
<rect x="812.47" y="358.07" width="30.19" height="26.70" fill="#151408"/>
<rect x="842.66" y="358.07" width="30.19" height="26.70" fill="#150914"/>
<rect x="872.85" y="358.07" width="30.19" height="26.70" fill="#22200e"/>
<rect x="903.04" y="358.07" width="30.19" height="26.70" fill="#150914"/>
<rect x="933.23" y="358.07" width="30.19" height="26.70" fill="#4b1a4a"/>
<rect x="963.42" y="358.07" width="30.19" height="26.70" fill="#221121"/>
<rect x="993.61" y="358.07" width="30.19" height="26.70" fill="#22200e"/>
<rect x="1023.80" y="358.07" width="30.19" height="26.70" fill="#221121"/>
<rect x="1053.99" y="358.07" width="30.19" height="26.70" fill="#221121"/>
<rect x="1084.18" y="358.07" width="30.19" height="26.70" fill="#5a5819"/>
<rect x="1114.37" y="358.07" width="30.19" height="26.70" fill="#000000"/>
<rect x="1144.56" y="358.07" width="30.19" height="26.70" fill="#150914"/>
<rect x="1174.75" y="358.07" width="30.19" height="26.70" fill="#2f142e"/>
<rect x="1204.94" y="358.07" width="30.19" height="26.70" fill="#3d3b15"/>
<rect x="1235.13" y="358.07" width="30.19" height="26.70" fill="#221121"/>
<rect x="1265.32" y="358.07" width="30.19" height="26.70" fill="#151408"/>
<rect x="1295.51" y="358.07" width="30.19" height="26.70" fill="#981f97"/>
<rect x="148.30" y="384.77" width="30.19" height="26.70" fill="#150914"/>
<rect x="178.49" y="384.77" width="30.19" height="26.70" fill="#221121"/>
<rect x="208.68" y="384.77" width="30.19" height="26.70" fill="#5a1c59"/>
<rect x="238.87" y="384.77" width="30.19" height="26.70" fill="#000000"/>
<rect x="269.06" y="384.77" width="30.19" height="26.70" fill="#000000"/>
<rect x="299.25" y="384.77" width="30.19" height="26.70" fill="#2f142e"/>
<rect x="329.44" y="384.77" width="30.19" height="26.70" fill="#221121"/>
<rect x="359.63" y="384.77" width="30.19" height="26.70" fill="#22200e"/>
<rect x="389.82" y="384.77" width="30.19" height="26.70" fill="#150914"/>
<rect x="420.01" y="384.77" width="30.19" height="26.70" fill="#22200e"/>
<rect x="450.20" y="384.77" width="30.19" height="26.70" fill="#3d173c"/>
<rect x="480.39" y="384.77" width="30.19" height="26.70" fill="#221121"/>
<rect x="510.58" y="384.77" width="30.19" height="26.70" fill="#150914"/>
<rect x="540.77" y="384.77" width="30.19" height="26.70" fill="#000000"/>
<rect x="570.96" y="384.77" width="30.19" height="26.70" fill="#150914"/>
<rect x="601.15" y="384.77" width="30.19" height="26.70" fill="#000000"/>
<rect x="631.34" y="384.77" width="30.19" height="26.70" fill="#2f142e"/>
<rect x="661.53" y="384.77" width="30.19" height="26.70" fill="#4b1a4a"/>
<rect x="691.72" y="384.77" width="30.19" height="26.70" fill="#5a5819"/>
<rect x="721.91" y="384.77" width="30.19" height="26.70" fill="#78771b"/>
<rect x="752.09" y="384.77" width="30.19" height="26.70" fill="#98971b"/>
<rect x="782.28" y="384.77" width="30.19" height="26.70" fill="#3d3b15"/>
<rect x="812.47" y="384.77" width="30.19" height="26.70" fill="#22200e"/>
<rect x="842.66" y="384.77" width="30.19" height="26.70" fill="#781e77"/>
<rect x="872.85" y="384.77" width="30.19" height="26.70" fill="#22200e"/>
<rect x="903.04" y="384.77" width="30.19" height="26.70" fill="#3d3b15"/>
<rect x="933.23" y="384.77" width="30.19" height="26.70" fill="#22200e"/>
<rect x="963.42" y="384.77" width="30.19" height="26.70" fill="#2f142e"/>
<rect x="993.61" y="384.77" width="30.19" height="26.70" fill="#3d3b15"/>
<rect x="1023.80" y="384.77" width="30.19" height="26.70" fill="#2f2e12"/>
<rect x="1053.99" y="384.77" width="30.19" height="26.70" fill="#22200e"/>
<rect x="1084.18" y="384.77" width="30.19" height="26.70" fill="#000000"/>
<rect x="1114.37" y="384.77" width="30.19" height="26.70" fill="#000000"/>
<rect x="1144.56" y="384.77" width="30.19" height="26.70" fill="#151408"/>
<rect x="1174.75" y="384.77" width="30.19" height="26.70" fill="#000000"/>
<rect x="1204.94" y="384.77" width="30.19" height="26.70" fill="#151408"/>
<rect x="1235.13" y="384.77" width="30.19" height="26.70" fill="#000000"/>
<rect x="1265.32" y="384.77" width="30.19" height="26.70" fill="#22200e"/>
<rect x="1295.51" y="384.77" width="30.19" height="26.70" fill="#b91cb9"/>
<rect x="148.30" y="411.48" width="30.19" height="26.70" fill="#2f2e12"/>
<rect x="178.49" y="411.48" width="30.19" height="26.70" fill="#22200e"/>
<rect x="208.68" y="411.48" width="30.19" height="26.70" fill="#3d3b15"/>
<rect x="238.87" y="411.48" width="30.19" height="26.70" fill="#151408"/>
<rect x="269.06" y="411.48" width="30.19" height="26.70" fill="#150914"/>
<rect x="299.25" y="411.48" width="30.19" height="26.70" fill="#150914"/>
<rect x="329.44" y="411.48" width="30.19" height="26.70" fill="#151408"/>
<rect x="359.63" y="411.48" width="30.19" height="26.70" fill="#22200e"/>
<rect x="389.82" y="411.48" width="30.19" height="26.70" fill="#150914"/>
<rect x="420.01" y="411.48" width="30.19" height="26.70" fill="#151408"/>
<rect x="450.20" y="411.48" width="30.19" height="26.70" fill="#151408"/>
<rect x="480.39" y="411.48" width="30.19" height="26.70" fill="#221121"/>
<rect x="510.58" y="411.48" width="30.19" height="26.70" fill="#22200e"/>
<rect x="540.77" y="411.48" width="30.19" height="26.70" fill="#3d173c"/>
<rect x="570.96" y="411.48" width="30.19" height="26.70" fill="#2f2e12"/>
<rect x="601.15" y="411.48" width="30.19" height="26.70" fill="#000000"/>
<rect x="631.34" y="411.48" width="30.19" height="26.70" fill="#150914"/>
<rect x="661.53" y="411.48" width="30.19" height="26.70" fill="#3d173c"/>
<rect x="691.72" y="411.48" width="30.19" height="26.70" fill="#69671a"/>
<rect x="721.91" y="411.48" width="30.19" height="26.70" fill="#69671a"/>
<rect x="752.09" y="411.48" width="30.19" height="26.70" fill="#98971b"/>
<rect x="782.28" y="411.48" width="30.19" height="26.70" fill="#221121"/>
<rect x="812.47" y="411.48" width="30.19" height="26.70" fill="#2f142e"/>
<rect x="842.66" y="411.48" width="30.19" height="26.70" fill="#2f142e"/>
<rect x="872.85" y="411.48" width="30.19" height="26.70" fill="#3d3b15"/>
<rect x="903.04" y="411.48" width="30.19" height="26.70" fill="#22200e"/>
<rect x="933.23" y="411.48" width="30.19" height="26.70" fill="#2f142e"/>
<rect x="963.42" y="411.48" width="30.19" height="26.70" fill="#2f2e12"/>
<rect x="993.61" y="411.48" width="30.19" height="26.70" fill="#151408"/>
<rect x="1023.80" y="411.48" width="30.19" height="26.70" fill="#221121"/>
<rect x="1053.99" y="411.48" width="30.19" height="26.70" fill="#221121"/>
<rect x="1084.18" y="411.48" width="30.19" height="26.70" fill="#3d173c"/>
<rect x="1114.37" y="411.48" width="30.19" height="26.70" fill="#691d68"/>
<rect x="1144.56" y="411.48" width="30.19" height="26.70" fill="#2f142e"/>
<rect x="1174.75" y="411.48" width="30.19" height="26.70" fill="#22200e"/>
<rect x="1204.94" y="411.48" width="30.19" height="26.70" fill="#3d3b15"/>
<rect x="1235.13" y="411.48" width="30.19" height="26.70" fill="#151408"/>
<rect x="1265.32" y="411.48" width="30.19" height="26.70" fill="#2f142e"/>
<rect x="1295.51" y="411.48" width="30.19" height="26.70" fill="#ca1aca"/>
<rect x="148.30" y="438.18" width="30.19" height="26.70" fill="#22200e"/>
<rect x="178.49" y="438.18" width="30.19" height="26.70" fill="#151408"/>
<rect x="208.68" y="438.18" width="30.19" height="26.70" fill="#000000"/>
<rect x="238.87" y="438.18" width="30.19" height="26.70" fill="#151408"/>
<rect x="269.06" y="438.18" width="30.19" height="26.70" fill="#000000"/>
<rect x="299.25" y="438.18" width="30.19" height="26.70" fill="#22200e"/>
<rect x="329.44" y="438.18" width="30.19" height="26.70" fill="#22200e"/>
<rect x="359.63" y="438.18" width="30.19" height="26.70" fill="#151408"/>
<rect x="389.82" y="438.18" width="30.19" height="26.70" fill="#151408"/>
<rect x="420.01" y="438.18" width="30.19" height="26.70" fill="#151408"/>
<rect x="450.20" y="438.18" width="30.19" height="26.70" fill="#150914"/>
<rect x="480.39" y="438.18" width="30.19" height="26.70" fill="#221121"/>
<rect x="510.58" y="438.18" width="30.19" height="26.70" fill="#22200e"/>
<rect x="540.77" y="438.18" width="30.19" height="26.70" fill="#2f142e"/>
<rect x="570.96" y="438.18" width="30.19" height="26.70" fill="#22200e"/>
<rect x="601.15" y="438.18" width="30.19" height="26.70" fill="#22200e"/>
<rect x="631.34" y="438.18" width="30.19" height="26.70" fill="#2f142e"/>
<rect x="661.53" y="438.18" width="30.19" height="26.70" fill="#150914"/>
<rect x="691.72" y="438.18" width="30.19" height="26.70" fill="#5a5819"/>
<rect x="721.91" y="438.18" width="30.19" height="26.70" fill="#2f2e12"/>
<rect x="752.09" y="438.18" width="30.19" height="26.70" fill="#88871b"/>
<rect x="782.28" y="438.18" width="30.19" height="26.70" fill="#221121"/>
<rect x="812.47" y="438.18" width="30.19" height="26.70" fill="#221121"/>
<rect x="842.66" y="438.18" width="30.19" height="26.70" fill="#221121"/>
<rect x="872.85" y="438.18" width="30.19" height="26.70" fill="#4b4917"/>
<rect x="903.04" y="438.18" width="30.19" height="26.70" fill="#3d3b15"/>
<rect x="933.23" y="438.18" width="30.19" height="26.70" fill="#3d173c"/>
<rect x="963.42" y="438.18" width="30.19" height="26.70" fill="#221121"/>
<rect x="993.61" y="438.18" width="30.19" height="26.70" fill="#22200e"/>
<rect x="1023.80" y="438.18" width="30.19" height="26.70" fill="#2f142e"/>
<rect x="1053.99" y="438.18" width="30.19" height="26.70" fill="#2f142e"/>
<rect x="1084.18" y="438.18" width="30.19" height="26.70" fill="#150914"/>
<rect x="1114.37" y="438.18" width="30.19" height="26.70" fill="#691d68"/>
<rect x="1144.56" y="438.18" width="30.19" height="26.70" fill="#22200e"/>
<rect x="1174.75" y="438.18" width="30.19" height="26.70" fill="#2f2e12"/>
<rect x="1204.94" y="438.18" width="30.19" height="26.70" fill="#151408"/>
<rect x="1235.13" y="438.18" width="30.19" height="26.70" fill="#22200e"/>
<rect x="1265.32" y="438.18" width="30.19" height="26.70" fill="#221121"/>
<rect x="1295.51" y="438.18" width="30.19" height="26.70" fill="#ff00ff"/>
<rect x="148.30" y="464.89" width="30.19" height="26.70" fill="#2f2e12"/>
<rect x="178.49" y="464.89" width="30.19" height="26.70" fill="#2f2e12"/>
<rect x="208.68" y="464.89" width="30.19" height="26.70" fill="#4b4917"/>
<rect x="238.87" y="464.89" width="30.19" height="26.70" fill="#000000"/>
<rect x="269.06" y="464.89" width="30.19" height="26.70" fill="#151408"/>
<rect x="299.25" y="464.89" width="30.19" height="26.70" fill="#2f142e"/>
<rect x="329.44" y="464.89" width="30.19" height="26.70" fill="#151408"/>
<rect x="359.63" y="464.89" width="30.19" height="26.70" fill="#2f2e12"/>
<rect x="389.82" y="464.89" width="30.19" height="26.70" fill="#150914"/>
<rect x="420.01" y="464.89" width="30.19" height="26.70" fill="#22200e"/>
<rect x="450.20" y="464.89" width="30.19" height="26.70" fill="#000000"/>
<rect x="480.39" y="464.89" width="30.19" height="26.70" fill="#151408"/>
<rect x="510.58" y="464.89" width="30.19" height="26.70" fill="#150914"/>
<rect x="540.77" y="464.89" width="30.19" height="26.70" fill="#3d173c"/>
<rect x="570.96" y="464.89" width="30.19" height="26.70" fill="#150914"/>
<rect x="601.15" y="464.89" width="30.19" height="26.70" fill="#000000"/>
<rect x="631.34" y="464.89" width="30.19" height="26.70" fill="#5a1c59"/>
<rect x="661.53" y="464.89" width="30.19" height="26.70" fill="#691d68"/>
<rect x="691.72" y="464.89" width="30.19" height="26.70" fill="#150914"/>
<rect x="721.91" y="464.89" width="30.19" height="26.70" fill="#000000"/>
<rect x="752.09" y="464.89" width="30.19" height="26.70" fill="#5a5819"/>
<rect x="782.28" y="464.89" width="30.19" height="26.70" fill="#3d3b15"/>
<rect x="812.47" y="464.89" width="30.19" height="26.70" fill="#3d3b15"/>
<rect x="842.66" y="464.89" width="30.19" height="26.70" fill="#981f97"/>
<rect x="872.85" y="464.89" width="30.19" height="26.70" fill="#3d3b15"/>
<rect x="903.04" y="464.89" width="30.19" height="26.70" fill="#221121"/>
<rect x="933.23" y="464.89" width="30.19" height="26.70" fill="#151408"/>
<rect x="963.42" y="464.89" width="30.19" height="26.70" fill="#2f2e12"/>
<rect x="993.61" y="464.89" width="30.19" height="26.70" fill="#3d3b15"/>
<rect x="1023.80" y="464.89" width="30.19" height="26.70" fill="#4b1a4a"/>
<rect x="1053.99" y="464.89" width="30.19" height="26.70" fill="#3d173c"/>
<rect x="1084.18" y="464.89" width="30.19" height="26.70" fill="#2f2e12"/>
<rect x="1114.37" y="464.89" width="30.19" height="26.70" fill="#4b4917"/>
<rect x="1144.56" y="464.89" width="30.19" height="26.70" fill="#000000"/>
<rect x="1174.75" y="464.89" width="30.19" height="26.70" fill="#150914"/>
<rect x="1204.94" y="464.89" width="30.19" height="26.70" fill="#3d3b15"/>
<rect x="1235.13" y="464.89" width="30.19" height="26.70" fill="#151408"/>
<rect x="1265.32" y="464.89" width="30.19" height="26.70" fill="#150914"/>
<rect x="1295.51" y="464.89" width="30.19" height="26.70" fill="#a91ea8"/>
<rect x="148.30" y="491.59" width="30.19" height="26.70" fill="#000000"/>
<rect x="178.49" y="491.59" width="30.19" height="26.70" fill="#000000"/>
<rect x="208.68" y="491.59" width="30.19" height="26.70" fill="#4b4917"/>
<rect x="238.87" y="491.59" width="30.19" height="26.70" fill="#000000"/>
<rect x="269.06" y="491.59" width="30.19" height="26.70" fill="#151408"/>
<rect x="299.25" y="491.59" width="30.19" height="26.70" fill="#22200e"/>
<rect x="329.44" y="491.59" width="30.19" height="26.70" fill="#000000"/>
<rect x="359.63" y="491.59" width="30.19" height="26.70" fill="#000000"/>
<rect x="389.82" y="491.59" width="30.19" height="26.70" fill="#151408"/>
<rect x="420.01" y="491.59" width="30.19" height="26.70" fill="#150914"/>
<rect x="450.20" y="491.59" width="30.19" height="26.70" fill="#151408"/>
<rect x="480.39" y="491.59" width="30.19" height="26.70" fill="#151408"/>
<rect x="510.58" y="491.59" width="30.19" height="26.70" fill="#151408"/>
<rect x="540.77" y="491.59" width="30.19" height="26.70" fill="#22200e"/>
<rect x="570.96" y="491.59" width="30.19" height="26.70" fill="#151408"/>
<rect x="601.15" y="491.59" width="30.19" height="26.70" fill="#150914"/>
<rect x="631.34" y="491.59" width="30.19" height="26.70" fill="#3d3b15"/>
<rect x="661.53" y="491.59" width="30.19" height="26.70" fill="#5a5819"/>
<rect x="691.72" y="491.59" width="30.19" height="26.70" fill="#22200e"/>
<rect x="721.91" y="491.59" width="30.19" height="26.70" fill="#2f2e12"/>
<rect x="752.09" y="491.59" width="30.19" height="26.70" fill="#3d3b15"/>
<rect x="782.28" y="491.59" width="30.19" height="26.70" fill="#2f142e"/>
<rect x="812.47" y="491.59" width="30.19" height="26.70" fill="#221121"/>
<rect x="842.66" y="491.59" width="30.19" height="26.70" fill="#78771b"/>
<rect x="872.85" y="491.59" width="30.19" height="26.70" fill="#000000"/>
<rect x="903.04" y="491.59" width="30.19" height="26.70" fill="#22200e"/>
<rect x="933.23" y="491.59" width="30.19" height="26.70" fill="#4b1a4a"/>
<rect x="963.42" y="491.59" width="30.19" height="26.70" fill="#000000"/>
<rect x="993.61" y="491.59" width="30.19" height="26.70" fill="#2f142e"/>
<rect x="1023.80" y="491.59" width="30.19" height="26.70" fill="#4b1a4a"/>
<rect x="1053.99" y="491.59" width="30.19" height="26.70" fill="#5a1c59"/>
<rect x="1084.18" y="491.59" width="30.19" height="26.70" fill="#000000"/>
<rect x="1114.37" y="491.59" width="30.19" height="26.70" fill="#150914"/>
<rect x="1144.56" y="491.59" width="30.19" height="26.70" fill="#150914"/>
<rect x="1174.75" y="491.59" width="30.19" height="26.70" fill="#151408"/>
<rect x="1204.94" y="491.59" width="30.19" height="26.70" fill="#000000"/>
<rect x="1235.13" y="491.59" width="30.19" height="26.70" fill="#000000"/>
<rect x="1265.32" y="491.59" width="30.19" height="26.70" fill="#000000"/>
<rect x="1295.51" y="491.59" width="30.19" height="26.70" fill="#ff00ff"/>
<rect x="148.30" y="518.29" width="30.19" height="26.70" fill="#221121"/>
<rect x="178.49" y="518.29" width="30.19" height="26.70" fill="#221121"/>
<rect x="208.68" y="518.29" width="30.19" height="26.70" fill="#150914"/>
<rect x="238.87" y="518.29" width="30.19" height="26.70" fill="#221121"/>
<rect x="269.06" y="518.29" width="30.19" height="26.70" fill="#221121"/>
<rect x="299.25" y="518.29" width="30.19" height="26.70" fill="#2f142e"/>
<rect x="329.44" y="518.29" width="30.19" height="26.70" fill="#221121"/>
<rect x="359.63" y="518.29" width="30.19" height="26.70" fill="#221121"/>
<rect x="389.82" y="518.29" width="30.19" height="26.70" fill="#150914"/>
<rect x="420.01" y="518.29" width="30.19" height="26.70" fill="#000000"/>
<rect x="450.20" y="518.29" width="30.19" height="26.70" fill="#69671a"/>
<rect x="480.39" y="518.29" width="30.19" height="26.70" fill="#3d3b15"/>
<rect x="510.58" y="518.29" width="30.19" height="26.70" fill="#2f2e12"/>
<rect x="540.77" y="518.29" width="30.19" height="26.70" fill="#2f142e"/>
<rect x="570.96" y="518.29" width="30.19" height="26.70" fill="#2f2e12"/>
<rect x="601.15" y="518.29" width="30.19" height="26.70" fill="#000000"/>
<rect x="631.34" y="518.29" width="30.19" height="26.70" fill="#3d173c"/>
<rect x="661.53" y="518.29" width="30.19" height="26.70" fill="#5a1c59"/>
<rect x="691.72" y="518.29" width="30.19" height="26.70" fill="#2f142e"/>
<rect x="721.91" y="518.29" width="30.19" height="26.70" fill="#2f142e"/>
<rect x="752.09" y="518.29" width="30.19" height="26.70" fill="#2f142e"/>
<rect x="782.28" y="518.29" width="30.19" height="26.70" fill="#000000"/>
<rect x="812.47" y="518.29" width="30.19" height="26.70" fill="#221121"/>
<rect x="842.66" y="518.29" width="30.19" height="26.70" fill="#4b1a4a"/>
<rect x="872.85" y="518.29" width="30.19" height="26.70" fill="#2f2e12"/>
<rect x="903.04" y="518.29" width="30.19" height="26.70" fill="#221121"/>
<rect x="933.23" y="518.29" width="30.19" height="26.70" fill="#22200e"/>
<rect x="963.42" y="518.29" width="30.19" height="26.70" fill="#ffff00"/>
<rect x="993.61" y="518.29" width="30.19" height="26.70" fill="#22200e"/>
<rect x="1023.80" y="518.29" width="30.19" height="26.70" fill="#221121"/>
<rect x="1053.99" y="518.29" width="30.19" height="26.70" fill="#221121"/>
<rect x="1084.18" y="518.29" width="30.19" height="26.70" fill="#3d3b15"/>
<rect x="1114.37" y="518.29" width="30.19" height="26.70" fill="#151408"/>
<rect x="1144.56" y="518.29" width="30.19" height="26.70" fill="#2f2e12"/>
<rect x="1174.75" y="518.29" width="30.19" height="26.70" fill="#78771b"/>
<rect x="1204.94" y="518.29" width="30.19" height="26.70" fill="#000000"/>
<rect x="1235.13" y="518.29" width="30.19" height="26.70" fill="#221121"/>
<rect x="1265.32" y="518.29" width="30.19" height="26.70" fill="#150914"/>
<rect x="1295.51" y="518.29" width="30.19" height="26.70" fill="#221121"/>
<rect x="148.30" y="545.00" width="30.19" height="26.70" fill="#3d173c"/>
<rect x="178.49" y="545.00" width="30.19" height="26.70" fill="#151408"/>
<rect x="208.68" y="545.00" width="30.19" height="26.70" fill="#2f142e"/>
<rect x="238.87" y="545.00" width="30.19" height="26.70" fill="#150914"/>
<rect x="269.06" y="545.00" width="30.19" height="26.70" fill="#150914"/>
<rect x="299.25" y="545.00" width="30.19" height="26.70" fill="#221121"/>
<rect x="329.44" y="545.00" width="30.19" height="26.70" fill="#150914"/>
<rect x="359.63" y="545.00" width="30.19" height="26.70" fill="#22200e"/>
<rect x="389.82" y="545.00" width="30.19" height="26.70" fill="#000000"/>
<rect x="420.01" y="545.00" width="30.19" height="26.70" fill="#22200e"/>
<rect x="450.20" y="545.00" width="30.19" height="26.70" fill="#150914"/>
<rect x="480.39" y="545.00" width="30.19" height="26.70" fill="#221121"/>
<rect x="510.58" y="545.00" width="30.19" height="26.70" fill="#000000"/>
<rect x="540.77" y="545.00" width="30.19" height="26.70" fill="#151408"/>
<rect x="570.96" y="545.00" width="30.19" height="26.70" fill="#150914"/>
<rect x="601.15" y="545.00" width="30.19" height="26.70" fill="#2f2e12"/>
<rect x="631.34" y="545.00" width="30.19" height="26.70" fill="#221121"/>
<rect x="661.53" y="545.00" width="30.19" height="26.70" fill="#781e77"/>
<rect x="691.72" y="545.00" width="30.19" height="26.70" fill="#2f2e12"/>
<rect x="721.91" y="545.00" width="30.19" height="26.70" fill="#22200e"/>
<rect x="752.09" y="545.00" width="30.19" height="26.70" fill="#4b4917"/>
<rect x="782.28" y="545.00" width="30.19" height="26.70" fill="#22200e"/>
<rect x="812.47" y="545.00" width="30.19" height="26.70" fill="#78771b"/>
<rect x="842.66" y="545.00" width="30.19" height="26.70" fill="#881f87"/>
<rect x="872.85" y="545.00" width="30.19" height="26.70" fill="#69671a"/>
<rect x="903.04" y="545.00" width="30.19" height="26.70" fill="#000000"/>
<rect x="933.23" y="545.00" width="30.19" height="26.70" fill="#691d68"/>
<rect x="963.42" y="545.00" width="30.19" height="26.70" fill="#4b1a4a"/>
<rect x="993.61" y="545.00" width="30.19" height="26.70" fill="#b9b919"/>
<rect x="1023.80" y="545.00" width="30.19" height="26.70" fill="#000000"/>
<rect x="1053.99" y="545.00" width="30.19" height="26.70" fill="#22200e"/>
<rect x="1084.18" y="545.00" width="30.19" height="26.70" fill="#000000"/>
<rect x="1114.37" y="545.00" width="30.19" height="26.70" fill="#2f2e12"/>
<rect x="1144.56" y="545.00" width="30.19" height="26.70" fill="#3d173c"/>
<rect x="1174.75" y="545.00" width="30.19" height="26.70" fill="#151408"/>
<rect x="1204.94" y="545.00" width="30.19" height="26.70" fill="#000000"/>
<rect x="1235.13" y="545.00" width="30.19" height="26.70" fill="#221121"/>
<rect x="1265.32" y="545.00" width="30.19" height="26.70" fill="#150914"/>
<rect x="1295.51" y="545.00" width="30.19" height="26.70" fill="#221121"/>
<rect x="148.30" y="571.70" width="30.19" height="26.70" fill="#2f142e"/>
<rect x="178.49" y="571.70" width="30.19" height="26.70" fill="#221121"/>
<rect x="208.68" y="571.70" width="30.19" height="26.70" fill="#3d173c"/>
<rect x="238.87" y="571.70" width="30.19" height="26.70" fill="#150914"/>
<rect x="269.06" y="571.70" width="30.19" height="26.70" fill="#150914"/>
<rect x="299.25" y="571.70" width="30.19" height="26.70" fill="#221121"/>
<rect x="329.44" y="571.70" width="30.19" height="26.70" fill="#000000"/>
<rect x="359.63" y="571.70" width="30.19" height="26.70" fill="#150914"/>
<rect x="389.82" y="571.70" width="30.19" height="26.70" fill="#22200e"/>
<rect x="420.01" y="571.70" width="30.19" height="26.70" fill="#2f2e12"/>
<rect x="450.20" y="571.70" width="30.19" height="26.70" fill="#151408"/>
<rect x="480.39" y="571.70" width="30.19" height="26.70" fill="#150914"/>
<rect x="510.58" y="571.70" width="30.19" height="26.70" fill="#000000"/>
<rect x="540.77" y="571.70" width="30.19" height="26.70" fill="#2f142e"/>
<rect x="570.96" y="571.70" width="30.19" height="26.70" fill="#150914"/>
<rect x="601.15" y="571.70" width="30.19" height="26.70" fill="#22200e"/>
<rect x="631.34" y="571.70" width="30.19" height="26.70" fill="#3d173c"/>
<rect x="661.53" y="571.70" width="30.19" height="26.70" fill="#5a1c59"/>
<rect x="691.72" y="571.70" width="30.19" height="26.70" fill="#78771b"/>
<rect x="721.91" y="571.70" width="30.19" height="26.70" fill="#4b4917"/>
<rect x="752.09" y="571.70" width="30.19" height="26.70" fill="#69671a"/>
<rect x="782.28" y="571.70" width="30.19" height="26.70" fill="#221121"/>
<rect x="812.47" y="571.70" width="30.19" height="26.70" fill="#221121"/>
<rect x="842.66" y="571.70" width="30.19" height="26.70" fill="#691d68"/>
<rect x="872.85" y="571.70" width="30.19" height="26.70" fill="#151408"/>
<rect x="903.04" y="571.70" width="30.19" height="26.70" fill="#22200e"/>
<rect x="933.23" y="571.70" width="30.19" height="26.70" fill="#3d173c"/>
<rect x="963.42" y="571.70" width="30.19" height="26.70" fill="#2f2e12"/>
<rect x="993.61" y="571.70" width="30.19" height="26.70" fill="#2f2e12"/>
<rect x="1023.80" y="571.70" width="30.19" height="26.70" fill="#150914"/>
<rect x="1053.99" y="571.70" width="30.19" height="26.70" fill="#221121"/>
<rect x="1084.18" y="571.70" width="30.19" height="26.70" fill="#caca16"/>
<rect x="1114.37" y="571.70" width="30.19" height="26.70" fill="#150914"/>
<rect x="1144.56" y="571.70" width="30.19" height="26.70" fill="#2f142e"/>
<rect x="1174.75" y="571.70" width="30.19" height="26.70" fill="#22200e"/>
<rect x="1204.94" y="571.70" width="30.19" height="26.70" fill="#2f2e12"/>
<rect x="1235.13" y="571.70" width="30.19" height="26.70" fill="#22200e"/>
<rect x="1265.32" y="571.70" width="30.19" height="26.70" fill="#151408"/>
<rect x="1295.51" y="571.70" width="30.19" height="26.70" fill="#691d68"/>
<rect x="148.30" y="598.40" width="30.19" height="26.70" fill="#22200e"/>
<rect x="178.49" y="598.40" width="30.19" height="26.70" fill="#22200e"/>
<rect x="208.68" y="598.40" width="30.19" height="26.70" fill="#22200e"/>
<rect x="238.87" y="598.40" width="30.19" height="26.70" fill="#22200e"/>
<rect x="269.06" y="598.40" width="30.19" height="26.70" fill="#22200e"/>
<rect x="299.25" y="598.40" width="30.19" height="26.70" fill="#22200e"/>
<rect x="329.44" y="598.40" width="30.19" height="26.70" fill="#22200e"/>
<rect x="359.63" y="598.40" width="30.19" height="26.70" fill="#22200e"/>
<rect x="389.82" y="598.40" width="30.19" height="26.70" fill="#4b1a4a"/>
<rect x="420.01" y="598.40" width="30.19" height="26.70" fill="#781e77"/>
<rect x="450.20" y="598.40" width="30.19" height="26.70" fill="#4b1a4a"/>
<rect x="480.39" y="598.40" width="30.19" height="26.70" fill="#22200e"/>
<rect x="510.58" y="598.40" width="30.19" height="26.70" fill="#22200e"/>
<rect x="540.77" y="598.40" width="30.19" height="26.70" fill="#22200e"/>
<rect x="570.96" y="598.40" width="30.19" height="26.70" fill="#691d68"/>
<rect x="601.15" y="598.40" width="30.19" height="26.70" fill="#22200e"/>
<rect x="631.34" y="598.40" width="30.19" height="26.70" fill="#22200e"/>
<rect x="661.53" y="598.40" width="30.19" height="26.70" fill="#22200e"/>
<rect x="691.72" y="598.40" width="30.19" height="26.70" fill="#78771b"/>
<rect x="721.91" y="598.40" width="30.19" height="26.70" fill="#5a5819"/>
<rect x="752.09" y="598.40" width="30.19" height="26.70" fill="#22200e"/>
<rect x="782.28" y="598.40" width="30.19" height="26.70" fill="#691d68"/>
<rect x="812.47" y="598.40" width="30.19" height="26.70" fill="#22200e"/>
<rect x="842.66" y="598.40" width="30.19" height="26.70" fill="#22200e"/>
<rect x="872.85" y="598.40" width="30.19" height="26.70" fill="#22200e"/>
<rect x="903.04" y="598.40" width="30.19" height="26.70" fill="#691d68"/>
<rect x="933.23" y="598.40" width="30.19" height="26.70" fill="#150914"/>
<rect x="963.42" y="598.40" width="30.19" height="26.70" fill="#5a1c59"/>
<rect x="993.61" y="598.40" width="30.19" height="26.70" fill="#221121"/>
<rect x="1023.80" y="598.40" width="30.19" height="26.70" fill="#22200e"/>
<rect x="1053.99" y="598.40" width="30.19" height="26.70" fill="#22200e"/>
<rect x="1084.18" y="598.40" width="30.19" height="26.70" fill="#a9a81a"/>
<rect x="1114.37" y="598.40" width="30.19" height="26.70" fill="#5a1c59"/>
<rect x="1144.56" y="598.40" width="30.19" height="26.70" fill="#22200e"/>
<rect x="1174.75" y="598.40" width="30.19" height="26.70" fill="#000000"/>
<rect x="1204.94" y="598.40" width="30.19" height="26.70" fill="#22200e"/>
<rect x="1235.13" y="598.40" width="30.19" height="26.70" fill="#22200e"/>
<rect x="1265.32" y="598.40" width="30.19" height="26.70" fill="#22200e"/>
<rect x="1295.51" y="598.40" width="30.19" height="26.70" fill="#2f142e"/>
<rect x="148.30" y="625.11" width="30.19" height="26.70" fill="#150914"/>
<rect x="178.49" y="625.11" width="30.19" height="26.70" fill="#221121"/>
<rect x="208.68" y="625.11" width="30.19" height="26.70" fill="#4b4917"/>
<rect x="238.87" y="625.11" width="30.19" height="26.70" fill="#150914"/>
<rect x="269.06" y="625.11" width="30.19" height="26.70" fill="#150914"/>
<rect x="299.25" y="625.11" width="30.19" height="26.70" fill="#000000"/>
<rect x="329.44" y="625.11" width="30.19" height="26.70" fill="#2f2e12"/>
<rect x="359.63" y="625.11" width="30.19" height="26.70" fill="#151408"/>
<rect x="389.82" y="625.11" width="30.19" height="26.70" fill="#2f2e12"/>
<rect x="420.01" y="625.11" width="30.19" height="26.70" fill="#4b4917"/>
<rect x="450.20" y="625.11" width="30.19" height="26.70" fill="#000000"/>
<rect x="480.39" y="625.11" width="30.19" height="26.70" fill="#22200e"/>
<rect x="510.58" y="625.11" width="30.19" height="26.70" fill="#000000"/>
<rect x="540.77" y="625.11" width="30.19" height="26.70" fill="#2f142e"/>
<rect x="570.96" y="625.11" width="30.19" height="26.70" fill="#000000"/>
<rect x="601.15" y="625.11" width="30.19" height="26.70" fill="#3d3b15"/>
<rect x="631.34" y="625.11" width="30.19" height="26.70" fill="#981f97"/>
<rect x="661.53" y="625.11" width="30.19" height="26.70" fill="#a91ea8"/>
<rect x="691.72" y="625.11" width="30.19" height="26.70" fill="#3d173c"/>
<rect x="721.91" y="625.11" width="30.19" height="26.70" fill="#221121"/>
<rect x="752.09" y="625.11" width="30.19" height="26.70" fill="#3d173c"/>
<rect x="782.28" y="625.11" width="30.19" height="26.70" fill="#151408"/>
<rect x="812.47" y="625.11" width="30.19" height="26.70" fill="#000000"/>
<rect x="842.66" y="625.11" width="30.19" height="26.70" fill="#691d68"/>
<rect x="872.85" y="625.11" width="30.19" height="26.70" fill="#2f2e12"/>
<rect x="903.04" y="625.11" width="30.19" height="26.70" fill="#3d3b15"/>
<rect x="933.23" y="625.11" width="30.19" height="26.70" fill="#691d68"/>
<rect x="963.42" y="625.11" width="30.19" height="26.70" fill="#000000"/>
<rect x="993.61" y="625.11" width="30.19" height="26.70" fill="#2f2e12"/>
<rect x="1023.80" y="625.11" width="30.19" height="26.70" fill="#151408"/>
<rect x="1053.99" y="625.11" width="30.19" height="26.70" fill="#22200e"/>
<rect x="1084.18" y="625.11" width="30.19" height="26.70" fill="#4b4917"/>
<rect x="1114.37" y="625.11" width="30.19" height="26.70" fill="#4b4917"/>
<rect x="1144.56" y="625.11" width="30.19" height="26.70" fill="#150914"/>
<rect x="1174.75" y="625.11" width="30.19" height="26.70" fill="#2f2e12"/>
<rect x="1204.94" y="625.11" width="30.19" height="26.70" fill="#3d3b15"/>
<rect x="1235.13" y="625.11" width="30.19" height="26.70" fill="#3d3b15"/>
<rect x="1265.32" y="625.11" width="30.19" height="26.70" fill="#22200e"/>
<rect x="1295.51" y="625.11" width="30.19" height="26.70" fill="#5a1c59"/>
<rect x="148.30" y="651.81" width="30.19" height="26.70" fill="#150914"/>
<rect x="178.49" y="651.81" width="30.19" height="26.70" fill="#221121"/>
<rect x="208.68" y="651.81" width="30.19" height="26.70" fill="#000000"/>
<rect x="238.87" y="651.81" width="30.19" height="26.70" fill="#22200e"/>
<rect x="269.06" y="651.81" width="30.19" height="26.70" fill="#22200e"/>
<rect x="299.25" y="651.81" width="30.19" height="26.70" fill="#150914"/>
<rect x="329.44" y="651.81" width="30.19" height="26.70" fill="#22200e"/>
<rect x="359.63" y="651.81" width="30.19" height="26.70" fill="#151408"/>
<rect x="389.82" y="651.81" width="30.19" height="26.70" fill="#000000"/>
<rect x="420.01" y="651.81" width="30.19" height="26.70" fill="#2f2e12"/>
<rect x="450.20" y="651.81" width="30.19" height="26.70" fill="#22200e"/>
<rect x="480.39" y="651.81" width="30.19" height="26.70" fill="#000000"/>
<rect x="510.58" y="651.81" width="30.19" height="26.70" fill="#2f2e12"/>
<rect x="540.77" y="651.81" width="30.19" height="26.70" fill="#22200e"/>
<rect x="570.96" y="651.81" width="30.19" height="26.70" fill="#2f2e12"/>
<rect x="601.15" y="651.81" width="30.19" height="26.70" fill="#4b4917"/>
<rect x="631.34" y="651.81" width="30.19" height="26.70" fill="#4b1a4a"/>
<rect x="661.53" y="651.81" width="30.19" height="26.70" fill="#691d68"/>
<rect x="691.72" y="651.81" width="30.19" height="26.70" fill="#691d68"/>
<rect x="721.91" y="651.81" width="30.19" height="26.70" fill="#221121"/>
<rect x="752.09" y="651.81" width="30.19" height="26.70" fill="#3d173c"/>
<rect x="782.28" y="651.81" width="30.19" height="26.70" fill="#221121"/>
<rect x="812.47" y="651.81" width="30.19" height="26.70" fill="#151408"/>
<rect x="842.66" y="651.81" width="30.19" height="26.70" fill="#781e77"/>
<rect x="872.85" y="651.81" width="30.19" height="26.70" fill="#22200e"/>
<rect x="903.04" y="651.81" width="30.19" height="26.70" fill="#000000"/>
<rect x="933.23" y="651.81" width="30.19" height="26.70" fill="#3d173c"/>
<rect x="963.42" y="651.81" width="30.19" height="26.70" fill="#000000"/>
<rect x="993.61" y="651.81" width="30.19" height="26.70" fill="#000000"/>
<rect x="1023.80" y="651.81" width="30.19" height="26.70" fill="#150914"/>
<rect x="1053.99" y="651.81" width="30.19" height="26.70" fill="#150914"/>
<rect x="1084.18" y="651.81" width="30.19" height="26.70" fill="#22200e"/>
<rect x="1114.37" y="651.81" width="30.19" height="26.70" fill="#2f2e12"/>
<rect x="1144.56" y="651.81" width="30.19" height="26.70" fill="#150914"/>
<rect x="1174.75" y="651.81" width="30.19" height="26.70" fill="#eded0b"/>
<rect x="1204.94" y="651.81" width="30.19" height="26.70" fill="#22200e"/>
<rect x="1235.13" y="651.81" width="30.19" height="26.70" fill="#4b4917"/>
<rect x="1265.32" y="651.81" width="30.19" height="26.70" fill="#000000"/>
<rect x="1295.51" y="651.81" width="30.19" height="26.70" fill="#781e77"/>
<rect x="148.30" y="678.51" width="30.19" height="26.70" fill="#150914"/>
<rect x="178.49" y="678.51" width="30.19" height="26.70" fill="#151408"/>
<rect x="208.68" y="678.51" width="30.19" height="26.70" fill="#22200e"/>
<rect x="238.87" y="678.51" width="30.19" height="26.70" fill="#a91ea8"/>
<rect x="269.06" y="678.51" width="30.19" height="26.70" fill="#5a1c59"/>
<rect x="299.25" y="678.51" width="30.19" height="26.70" fill="#a91ea8"/>
<rect x="329.44" y="678.51" width="30.19" height="26.70" fill="#221121"/>
<rect x="359.63" y="678.51" width="30.19" height="26.70" fill="#151408"/>
<rect x="389.82" y="678.51" width="30.19" height="26.70" fill="#2f142e"/>
<rect x="420.01" y="678.51" width="30.19" height="26.70" fill="#150914"/>
<rect x="450.20" y="678.51" width="30.19" height="26.70" fill="#000000"/>
<rect x="480.39" y="678.51" width="30.19" height="26.70" fill="#22200e"/>
<rect x="510.58" y="678.51" width="30.19" height="26.70" fill="#150914"/>
<rect x="540.77" y="678.51" width="30.19" height="26.70" fill="#2f2e12"/>
<rect x="570.96" y="678.51" width="30.19" height="26.70" fill="#000000"/>
<rect x="601.15" y="678.51" width="30.19" height="26.70" fill="#221121"/>
<rect x="631.34" y="678.51" width="30.19" height="26.70" fill="#4b4917"/>
<rect x="661.53" y="678.51" width="30.19" height="26.70" fill="#2f2e12"/>
<rect x="691.72" y="678.51" width="30.19" height="26.70" fill="#151408"/>
<rect x="721.91" y="678.51" width="30.19" height="26.70" fill="#22200e"/>
<rect x="752.09" y="678.51" width="30.19" height="26.70" fill="#2f2e12"/>
<rect x="782.28" y="678.51" width="30.19" height="26.70" fill="#150914"/>
<rect x="812.47" y="678.51" width="30.19" height="26.70" fill="#151408"/>
<rect x="842.66" y="678.51" width="30.19" height="26.70" fill="#2f2e12"/>
<rect x="872.85" y="678.51" width="30.19" height="26.70" fill="#000000"/>
<rect x="903.04" y="678.51" width="30.19" height="26.70" fill="#150914"/>
<rect x="933.23" y="678.51" width="30.19" height="26.70" fill="#3d173c"/>
<rect x="963.42" y="678.51" width="30.19" height="26.70" fill="#3d173c"/>
<rect x="993.61" y="678.51" width="30.19" height="26.70" fill="#22200e"/>
<rect x="1023.80" y="678.51" width="30.19" height="26.70" fill="#2f2e12"/>
<rect x="1053.99" y="678.51" width="30.19" height="26.70" fill="#22200e"/>
<rect x="1084.18" y="678.51" width="30.19" height="26.70" fill="#151408"/>
<rect x="1114.37" y="678.51" width="30.19" height="26.70" fill="#151408"/>
<rect x="1144.56" y="678.51" width="30.19" height="26.70" fill="#2f2e12"/>
<rect x="1174.75" y="678.51" width="30.19" height="26.70" fill="#b9b919"/>
<rect x="1204.94" y="678.51" width="30.19" height="26.70" fill="#000000"/>
<rect x="1235.13" y="678.51" width="30.19" height="26.70" fill="#3d173c"/>
<rect x="1265.32" y="678.51" width="30.19" height="26.70" fill="#22200e"/>
<rect x="1295.51" y="678.51" width="30.19" height="26.70" fill="#000000"/>
<rect x="148.30" y="705.22" width="30.19" height="26.70" fill="#221121"/>
<rect x="178.49" y="705.22" width="30.19" height="26.70" fill="#150914"/>
<rect x="208.68" y="705.22" width="30.19" height="26.70" fill="#5a5819"/>
<rect x="238.87" y="705.22" width="30.19" height="26.70" fill="#000000"/>
<rect x="269.06" y="705.22" width="30.19" height="26.70" fill="#000000"/>
<rect x="299.25" y="705.22" width="30.19" height="26.70" fill="#150914"/>
<rect x="329.44" y="705.22" width="30.19" height="26.70" fill="#151408"/>
<rect x="359.63" y="705.22" width="30.19" height="26.70" fill="#000000"/>
<rect x="389.82" y="705.22" width="30.19" height="26.70" fill="#151408"/>
<rect x="420.01" y="705.22" width="30.19" height="26.70" fill="#22200e"/>
<rect x="450.20" y="705.22" width="30.19" height="26.70" fill="#151408"/>
<rect x="480.39" y="705.22" width="30.19" height="26.70" fill="#000000"/>
<rect x="510.58" y="705.22" width="30.19" height="26.70" fill="#000000"/>
<rect x="540.77" y="705.22" width="30.19" height="26.70" fill="#4b1a4a"/>
<rect x="570.96" y="705.22" width="30.19" height="26.70" fill="#000000"/>
<rect x="601.15" y="705.22" width="30.19" height="26.70" fill="#22200e"/>
<rect x="631.34" y="705.22" width="30.19" height="26.70" fill="#221121"/>
<rect x="661.53" y="705.22" width="30.19" height="26.70" fill="#221121"/>
<rect x="691.72" y="705.22" width="30.19" height="26.70" fill="#000000"/>
<rect x="721.91" y="705.22" width="30.19" height="26.70" fill="#000000"/>
<rect x="752.09" y="705.22" width="30.19" height="26.70" fill="#4b4917"/>
<rect x="782.28" y="705.22" width="30.19" height="26.70" fill="#000000"/>
<rect x="812.47" y="705.22" width="30.19" height="26.70" fill="#000000"/>
<rect x="842.66" y="705.22" width="30.19" height="26.70" fill="#2f142e"/>
<rect x="872.85" y="705.22" width="30.19" height="26.70" fill="#22200e"/>
<rect x="903.04" y="705.22" width="30.19" height="26.70" fill="#3d3b15"/>
<rect x="933.23" y="705.22" width="30.19" height="26.70" fill="#5a1c59"/>
<rect x="963.42" y="705.22" width="30.19" height="26.70" fill="#5a5819"/>
<rect x="993.61" y="705.22" width="30.19" height="26.70" fill="#3d3b15"/>
<rect x="1023.80" y="705.22" width="30.19" height="26.70" fill="#781e77"/>
<rect x="1053.99" y="705.22" width="30.19" height="26.70" fill="#781e77"/>
<rect x="1084.18" y="705.22" width="30.19" height="26.70" fill="#150914"/>
<rect x="1114.37" y="705.22" width="30.19" height="26.70" fill="#000000"/>
<rect x="1144.56" y="705.22" width="30.19" height="26.70" fill="#22200e"/>
<rect x="1174.75" y="705.22" width="30.19" height="26.70" fill="#22200e"/>
<rect x="1204.94" y="705.22" width="30.19" height="26.70" fill="#a9a81a"/>
<rect x="1235.13" y="705.22" width="30.19" height="26.70" fill="#22200e"/>
<rect x="1265.32" y="705.22" width="30.19" height="26.70" fill="#221121"/>
<rect x="1295.51" y="705.22" width="30.19" height="26.70" fill="#b91cb9"/>
<rect x="148.30" y="731.92" width="30.19" height="26.70" fill="#3d3b15"/>
<rect x="178.49" y="731.92" width="30.19" height="26.70" fill="#22200e"/>
<rect x="208.68" y="731.92" width="30.19" height="26.70" fill="#22200e"/>
<rect x="238.87" y="731.92" width="30.19" height="26.70" fill="#000000"/>
<rect x="269.06" y="731.92" width="30.19" height="26.70" fill="#000000"/>
<rect x="299.25" y="731.92" width="30.19" height="26.70" fill="#000000"/>
<rect x="329.44" y="731.92" width="30.19" height="26.70" fill="#151408"/>
<rect x="359.63" y="731.92" width="30.19" height="26.70" fill="#3d3b15"/>
<rect x="389.82" y="731.92" width="30.19" height="26.70" fill="#22200e"/>
<rect x="420.01" y="731.92" width="30.19" height="26.70" fill="#2f2e12"/>
<rect x="450.20" y="731.92" width="30.19" height="26.70" fill="#150914"/>
<rect x="480.39" y="731.92" width="30.19" height="26.70" fill="#151408"/>
<rect x="510.58" y="731.92" width="30.19" height="26.70" fill="#221121"/>
<rect x="540.77" y="731.92" width="30.19" height="26.70" fill="#000000"/>
<rect x="570.96" y="731.92" width="30.19" height="26.70" fill="#221121"/>
<rect x="601.15" y="731.92" width="30.19" height="26.70" fill="#150914"/>
<rect x="631.34" y="731.92" width="30.19" height="26.70" fill="#221121"/>
<rect x="661.53" y="731.92" width="30.19" height="26.70" fill="#4b1a4a"/>
<rect x="691.72" y="731.92" width="30.19" height="26.70" fill="#3d3b15"/>
<rect x="721.91" y="731.92" width="30.19" height="26.70" fill="#3d3b15"/>
<rect x="752.09" y="731.92" width="30.19" height="26.70" fill="#221121"/>
<rect x="782.28" y="731.92" width="30.19" height="26.70" fill="#22200e"/>
<rect x="812.47" y="731.92" width="30.19" height="26.70" fill="#3d3b15"/>
<rect x="842.66" y="731.92" width="30.19" height="26.70" fill="#2f142e"/>
<rect x="872.85" y="731.92" width="30.19" height="26.70" fill="#22200e"/>
<rect x="903.04" y="731.92" width="30.19" height="26.70" fill="#691d68"/>
<rect x="933.23" y="731.92" width="30.19" height="26.70" fill="#221121"/>
<rect x="963.42" y="731.92" width="30.19" height="26.70" fill="#881f87"/>
<rect x="993.61" y="731.92" width="30.19" height="26.70" fill="#2f2e12"/>
<rect x="1023.80" y="731.92" width="30.19" height="26.70" fill="#22200e"/>
<rect x="1053.99" y="731.92" width="30.19" height="26.70" fill="#2f2e12"/>
<rect x="1084.18" y="731.92" width="30.19" height="26.70" fill="#22200e"/>
<rect x="1114.37" y="731.92" width="30.19" height="26.70" fill="#2f2e12"/>
<rect x="1144.56" y="731.92" width="30.19" height="26.70" fill="#2f2e12"/>
<rect x="1174.75" y="731.92" width="30.19" height="26.70" fill="#a91ea8"/>
<rect x="1204.94" y="731.92" width="30.19" height="26.70" fill="#5a5819"/>
<rect x="1235.13" y="731.92" width="30.19" height="26.70" fill="#151408"/>
<rect x="1265.32" y="731.92" width="30.19" height="26.70" fill="#22200e"/>
<rect x="1295.51" y="731.92" width="30.19" height="26.70" fill="#b91cb9"/>
<rect x="148.30" y="758.62" width="30.19" height="26.70" fill="#151408"/>
<rect x="178.49" y="758.62" width="30.19" height="26.70" fill="#000000"/>
<rect x="208.68" y="758.62" width="30.19" height="26.70" fill="#150914"/>
<rect x="238.87" y="758.62" width="30.19" height="26.70" fill="#22200e"/>
<rect x="269.06" y="758.62" width="30.19" height="26.70" fill="#151408"/>
<rect x="299.25" y="758.62" width="30.19" height="26.70" fill="#22200e"/>
<rect x="329.44" y="758.62" width="30.19" height="26.70" fill="#151408"/>
<rect x="359.63" y="758.62" width="30.19" height="26.70" fill="#22200e"/>
<rect x="389.82" y="758.62" width="30.19" height="26.70" fill="#2f2e12"/>
<rect x="420.01" y="758.62" width="30.19" height="26.70" fill="#2f2e12"/>
<rect x="450.20" y="758.62" width="30.19" height="26.70" fill="#151408"/>
<rect x="480.39" y="758.62" width="30.19" height="26.70" fill="#3d173c"/>
<rect x="510.58" y="758.62" width="30.19" height="26.70" fill="#000000"/>
<rect x="540.77" y="758.62" width="30.19" height="26.70" fill="#150914"/>
<rect x="570.96" y="758.62" width="30.19" height="26.70" fill="#150914"/>
<rect x="601.15" y="758.62" width="30.19" height="26.70" fill="#2f2e12"/>
<rect x="631.34" y="758.62" width="30.19" height="26.70" fill="#221121"/>
<rect x="661.53" y="758.62" width="30.19" height="26.70" fill="#3d173c"/>
<rect x="691.72" y="758.62" width="30.19" height="26.70" fill="#151408"/>
<rect x="721.91" y="758.62" width="30.19" height="26.70" fill="#22200e"/>
<rect x="752.09" y="758.62" width="30.19" height="26.70" fill="#22200e"/>
<rect x="782.28" y="758.62" width="30.19" height="26.70" fill="#151408"/>
<rect x="812.47" y="758.62" width="30.19" height="26.70" fill="#22200e"/>
<rect x="842.66" y="758.62" width="30.19" height="26.70" fill="#3d173c"/>
<rect x="872.85" y="758.62" width="30.19" height="26.70" fill="#3d3b15"/>
<rect x="903.04" y="758.62" width="30.19" height="26.70" fill="#3d3b15"/>
<rect x="933.23" y="758.62" width="30.19" height="26.70" fill="#151408"/>
<rect x="963.42" y="758.62" width="30.19" height="26.70" fill="#221121"/>
<rect x="993.61" y="758.62" width="30.19" height="26.70" fill="#2f2e12"/>
<rect x="1023.80" y="758.62" width="30.19" height="26.70" fill="#2f2e12"/>
<rect x="1053.99" y="758.62" width="30.19" height="26.70" fill="#22200e"/>
<rect x="1084.18" y="758.62" width="30.19" height="26.70" fill="#3d173c"/>
<rect x="1114.37" y="758.62" width="30.19" height="26.70" fill="#221121"/>
<rect x="1144.56" y="758.62" width="30.19" height="26.70" fill="#000000"/>
<rect x="1174.75" y="758.62" width="30.19" height="26.70" fill="#4b1a4a"/>
<rect x="1204.94" y="758.62" width="30.19" height="26.70" fill="#3d3b15"/>
<rect x="1235.13" y="758.62" width="30.19" height="26.70" fill="#22200e"/>
<rect x="1265.32" y="758.62" width="30.19" height="26.70" fill="#22200e"/>
<rect x="1295.51" y="758.62" width="30.19" height="26.70" fill="#ff00ff"/>
<rect x="148.30" y="785.33" width="30.19" height="26.70" fill="#22200e"/>
<rect x="178.49" y="785.33" width="30.19" height="26.70" fill="#3d3b15"/>
<rect x="208.68" y="785.33" width="30.19" height="26.70" fill="#69671a"/>
<rect x="238.87" y="785.33" width="30.19" height="26.70" fill="#2f142e"/>
<rect x="269.06" y="785.33" width="30.19" height="26.70" fill="#22200e"/>
<rect x="299.25" y="785.33" width="30.19" height="26.70" fill="#5a1c59"/>
<rect x="329.44" y="785.33" width="30.19" height="26.70" fill="#221121"/>
<rect x="359.63" y="785.33" width="30.19" height="26.70" fill="#3d3b15"/>
<rect x="389.82" y="785.33" width="30.19" height="26.70" fill="#2f142e"/>
<rect x="420.01" y="785.33" width="30.19" height="26.70" fill="#221121"/>
<rect x="450.20" y="785.33" width="30.19" height="26.70" fill="#4b1a4a"/>
<rect x="480.39" y="785.33" width="30.19" height="26.70" fill="#221121"/>
<rect x="510.58" y="785.33" width="30.19" height="26.70" fill="#3d173c"/>
<rect x="540.77" y="785.33" width="30.19" height="26.70" fill="#221121"/>
<rect x="570.96" y="785.33" width="30.19" height="26.70" fill="#3d173c"/>
<rect x="601.15" y="785.33" width="30.19" height="26.70" fill="#000000"/>
<rect x="631.34" y="785.33" width="30.19" height="26.70" fill="#151408"/>
<rect x="661.53" y="785.33" width="30.19" height="26.70" fill="#000000"/>
<rect x="691.72" y="785.33" width="30.19" height="26.70" fill="#2f2e12"/>
<rect x="721.91" y="785.33" width="30.19" height="26.70" fill="#151408"/>
<rect x="752.09" y="785.33" width="30.19" height="26.70" fill="#4b4917"/>
<rect x="782.28" y="785.33" width="30.19" height="26.70" fill="#69671a"/>
<rect x="812.47" y="785.33" width="30.19" height="26.70" fill="#150914"/>
<rect x="842.66" y="785.33" width="30.19" height="26.70" fill="#881f87"/>
<rect x="872.85" y="785.33" width="30.19" height="26.70" fill="#000000"/>
<rect x="903.04" y="785.33" width="30.19" height="26.70" fill="#2f142e"/>
<rect x="933.23" y="785.33" width="30.19" height="26.70" fill="#3d173c"/>
<rect x="963.42" y="785.33" width="30.19" height="26.70" fill="#151408"/>
<rect x="993.61" y="785.33" width="30.19" height="26.70" fill="#151408"/>
<rect x="1023.80" y="785.33" width="30.19" height="26.70" fill="#221121"/>
<rect x="1053.99" y="785.33" width="30.19" height="26.70" fill="#221121"/>
<rect x="1084.18" y="785.33" width="30.19" height="26.70" fill="#000000"/>
<rect x="1114.37" y="785.33" width="30.19" height="26.70" fill="#69671a"/>
<rect x="1144.56" y="785.33" width="30.19" height="26.70" fill="#221121"/>
<rect x="1174.75" y="785.33" width="30.19" height="26.70" fill="#000000"/>
<rect x="1204.94" y="785.33" width="30.19" height="26.70" fill="#22200e"/>
<rect x="1235.13" y="785.33" width="30.19" height="26.70" fill="#150914"/>
<rect x="1265.32" y="785.33" width="30.19" height="26.70" fill="#221121"/>
<rect x="1295.51" y="785.33" width="30.19" height="26.70" fill="#caca16"/>
</g>
<g font-family="Liberation Sans, sans-serif" font-style="italic" font-size="19.9" fill="#000" stroke="#000" stroke-width="0.45">
<text x="1332" y="58.48">ALDH9A1</text>
<text x="1332" y="85.19">SUGCT</text>
<text x="1332" y="111.89">PYROXD2</text>
<text x="1332" y="138.59">NAT1</text>
<text x="1332" y="165.30">RNPEP</text>
<text x="1332" y="192.00">BBOX1</text>
<text x="1332" y="218.70">UPB1</text>
<text x="1332" y="245.41">TTC38</text>
<text x="1332" y="272.11">PAH</text>
<text x="1332" y="298.81">ASL</text>
<text x="1332" y="325.52">CTH</text>
<text x="1332" y="352.22">HAL</text>
<text x="1332" y="378.92">ACY1</text>
<text x="1332" y="405.63">AFMID</text>
<text x="1332" y="432.33">DMGDH</text>
<text x="1332" y="459.03">ALDH6A1</text>
<text x="1332" y="485.74">ACP2</text>
<text x="1332" y="512.44">ACADM</text>
<text x="1332" y="539.14">CALY</text>
<text x="1332" y="565.85">FOLH1</text>
<text x="1332" y="592.55">SLC7A9</text>
<text x="1332" y="619.25">SLC6A19</text>
<text x="1332" y="645.96">ACSF3</text>
<text x="1332" y="672.66">RIOX1</text>
<text x="1332" y="699.36">OPLAH</text>
<text x="1332" y="726.07">IVD</text>
<text x="1332" y="752.77">PTER</text>
<text x="1332" y="779.47">PHYHD1</text>
<text x="1332" y="806.18">ALPL</text>
</g>
<g font-family="Liberation Sans, sans-serif" font-size="20.1" fill="#000" stroke="#000" stroke-width="0.45" text-anchor="end">
<text transform="translate(168.11,827.81) rotate(-45)">Adipose−Subcutaneous</text>
<text transform="translate(198.30,827.81) rotate(-45)">Adipose−Visceral (Omentum)</text>
<text transform="translate(228.49,827.81) rotate(-45)">Adrenal Gland</text>
<text transform="translate(258.68,827.81) rotate(-45)">Artery−Aorta</text>
<text transform="translate(288.87,827.81) rotate(-45)">Artery−Coronary</text>
<text transform="translate(319.06,827.81) rotate(-45)">Artery−Tibial</text>
<text transform="translate(349.25,827.81) rotate(-45)">Bladder</text>
<text transform="translate(379.44,827.81) rotate(-45)">Breast−Mammary Tissue</text>
<text transform="translate(409.63,827.81) rotate(-45)">Cervix−Ectocervix</text>
<text transform="translate(439.82,827.81) rotate(-45)">Cervix−Endocervix</text>
<text transform="translate(470.01,827.81) rotate(-45)">Colon−Sigmoid</text>
<text transform="translate(500.20,827.81) rotate(-45)">Colon−Transverse</text>
<text transform="translate(530.39,827.81) rotate(-45)">Esophagus−Gastroesophageal Junction</text>
<text transform="translate(560.58,827.81) rotate(-45)">Esophagus−Mucosa</text>
<text transform="translate(590.77,827.81) rotate(-45)">Esophagus−Muscularis</text>
<text transform="translate(620.96,827.81) rotate(-45)">Fallopian Tube</text>
<text transform="translate(651.15,827.81) rotate(-45)">Heart−Atrial Appendage</text>
<text transform="translate(681.34,827.81) rotate(-45)">Heart−Left Ventricle</text>
<text transform="translate(711.53,827.81) rotate(-45)">Kidney−Cortex</text>
<text transform="translate(741.72,827.81) rotate(-45)">Kidney−Medulla</text>
<text transform="translate(771.91,827.81) rotate(-45)">Liver</text>
<text transform="translate(802.10,827.81) rotate(-45)">Lung</text>
<text transform="translate(832.29,827.81) rotate(-45)">Minor Salivary Gland</text>
<text transform="translate(862.48,827.81) rotate(-45)">Muscle−Skeletal</text>
<text transform="translate(892.67,827.81) rotate(-45)">Nerve−Tibial</text>
<text transform="translate(922.86,827.81) rotate(-45)">Ovary</text>
<text transform="translate(953.05,827.81) rotate(-45)">Pancreas</text>
<text transform="translate(983.24,827.81) rotate(-45)">Pituitary</text>
<text transform="translate(1013.43,827.81) rotate(-45)">Prostate</text>
<text transform="translate(1043.62,827.81) rotate(-45)">Skin−Not Sun Exposed (Suprapubic)</text>
<text transform="translate(1073.81,827.81) rotate(-45)">Skin−Sun Exposed (Lower leg)</text>
<text transform="translate(1104.00,827.81) rotate(-45)">Small Intestine−Terminal Ileum</text>
<text transform="translate(1134.19,827.81) rotate(-45)">Spleen</text>
<text transform="translate(1164.38,827.81) rotate(-45)">Stomach</text>
<text transform="translate(1194.57,827.81) rotate(-45)">Testis</text>
<text transform="translate(1224.76,827.81) rotate(-45)">Thyroid</text>
<text transform="translate(1254.95,827.81) rotate(-45)">Uterus</text>
<text transform="translate(1285.14,827.81) rotate(-45)">Vagina</text>
<text transform="translate(1315.33,827.81) rotate(-45)">Whole Blood</text>
</g>
<g stroke="#fff" stroke-width="1.4">
<rect x="145.30" y="1151.30" width="41.31" height="36.14" fill="#a9a81a"/>
<rect x="186.61" y="1151.30" width="41.31" height="36.14" fill="#69671a"/>
<rect x="227.93" y="1151.30" width="41.31" height="36.14" fill="#221121"/>
<rect x="269.24" y="1151.30" width="41.31" height="36.14" fill="#150914"/>
<rect x="310.56" y="1151.30" width="41.31" height="36.14" fill="#22200e"/>
<rect x="351.87" y="1151.30" width="41.31" height="36.14" fill="#22200e"/>
<rect x="393.19" y="1151.30" width="41.31" height="36.14" fill="#22200e"/>
<rect x="434.50" y="1151.30" width="41.31" height="36.14" fill="#22200e"/>
<rect x="475.81" y="1151.30" width="41.31" height="36.14" fill="#881f87"/>
<rect x="517.13" y="1151.30" width="41.31" height="36.14" fill="#150914"/>
<rect x="558.44" y="1151.30" width="41.31" height="36.14" fill="#781e77"/>
<rect x="599.76" y="1151.30" width="41.31" height="36.14" fill="#22200e"/>
<rect x="641.07" y="1151.30" width="41.31" height="36.14" fill="#5a1c59"/>
<rect x="682.39" y="1151.30" width="41.31" height="36.14" fill="#000000"/>
<rect x="145.30" y="1187.44" width="41.31" height="36.14" fill="#88871b"/>
<rect x="186.61" y="1187.44" width="41.31" height="36.14" fill="#221121"/>
<rect x="227.93" y="1187.44" width="41.31" height="36.14" fill="#5a1c59"/>
<rect x="269.24" y="1187.44" width="41.31" height="36.14" fill="#22200e"/>
<rect x="310.56" y="1187.44" width="41.31" height="36.14" fill="#3d173c"/>
<rect x="351.87" y="1187.44" width="41.31" height="36.14" fill="#78771b"/>
<rect x="393.19" y="1187.44" width="41.31" height="36.14" fill="#221121"/>
<rect x="434.50" y="1187.44" width="41.31" height="36.14" fill="#691d68"/>
<rect x="475.81" y="1187.44" width="41.31" height="36.14" fill="#221121"/>
<rect x="517.13" y="1187.44" width="41.31" height="36.14" fill="#000000"/>
<rect x="558.44" y="1187.44" width="41.31" height="36.14" fill="#69671a"/>
<rect x="599.76" y="1187.44" width="41.31" height="36.14" fill="#4b4917"/>
<rect x="641.07" y="1187.44" width="41.31" height="36.14" fill="#5a1c59"/>
<rect x="682.39" y="1187.44" width="41.31" height="36.14" fill="#2f142e"/>
<rect x="145.30" y="1223.58" width="41.31" height="36.14" fill="#151408"/>
<rect x="186.61" y="1223.58" width="41.31" height="36.14" fill="#a9a81a"/>
<rect x="227.93" y="1223.58" width="41.31" height="36.14" fill="#78771b"/>
<rect x="269.24" y="1223.58" width="41.31" height="36.14" fill="#781e77"/>
<rect x="310.56" y="1223.58" width="41.31" height="36.14" fill="#221121"/>
<rect x="351.87" y="1223.58" width="41.31" height="36.14" fill="#5a1c59"/>
<rect x="393.19" y="1223.58" width="41.31" height="36.14" fill="#781e77"/>
<rect x="434.50" y="1223.58" width="41.31" height="36.14" fill="#221121"/>
<rect x="475.81" y="1223.58" width="41.31" height="36.14" fill="#22200e"/>
<rect x="517.13" y="1223.58" width="41.31" height="36.14" fill="#22200e"/>
<rect x="558.44" y="1223.58" width="41.31" height="36.14" fill="#221121"/>
<rect x="599.76" y="1223.58" width="41.31" height="36.14" fill="#22200e"/>
<rect x="641.07" y="1223.58" width="41.31" height="36.14" fill="#150914"/>
<rect x="682.39" y="1223.58" width="41.31" height="36.14" fill="#151408"/>
<rect x="145.30" y="1259.73" width="41.31" height="36.14" fill="#4b4917"/>
<rect x="186.61" y="1259.73" width="41.31" height="36.14" fill="#a9a81a"/>
<rect x="227.93" y="1259.73" width="41.31" height="36.14" fill="#a9a81a"/>
<rect x="269.24" y="1259.73" width="41.31" height="36.14" fill="#221121"/>
<rect x="310.56" y="1259.73" width="41.31" height="36.14" fill="#221121"/>
<rect x="351.87" y="1259.73" width="41.31" height="36.14" fill="#3d173c"/>
<rect x="393.19" y="1259.73" width="41.31" height="36.14" fill="#22200e"/>
<rect x="434.50" y="1259.73" width="41.31" height="36.14" fill="#221121"/>
<rect x="475.81" y="1259.73" width="41.31" height="36.14" fill="#5a1c59"/>
<rect x="517.13" y="1259.73" width="41.31" height="36.14" fill="#221121"/>
<rect x="558.44" y="1259.73" width="41.31" height="36.14" fill="#5a1c59"/>
<rect x="599.76" y="1259.73" width="41.31" height="36.14" fill="#150914"/>
<rect x="641.07" y="1259.73" width="41.31" height="36.14" fill="#4b1a4a"/>
<rect x="682.39" y="1259.73" width="41.31" height="36.14" fill="#150914"/>
<rect x="145.30" y="1295.87" width="41.31" height="36.14" fill="#88871b"/>
<rect x="186.61" y="1295.87" width="41.31" height="36.14" fill="#88871b"/>
<rect x="227.93" y="1295.87" width="41.31" height="36.14" fill="#69671a"/>
<rect x="269.24" y="1295.87" width="41.31" height="36.14" fill="#4b1a4a"/>
<rect x="310.56" y="1295.87" width="41.31" height="36.14" fill="#5a1c59"/>
<rect x="351.87" y="1295.87" width="41.31" height="36.14" fill="#221121"/>
<rect x="393.19" y="1295.87" width="41.31" height="36.14" fill="#221121"/>
<rect x="434.50" y="1295.87" width="41.31" height="36.14" fill="#3d173c"/>
<rect x="475.81" y="1295.87" width="41.31" height="36.14" fill="#151408"/>
<rect x="517.13" y="1295.87" width="41.31" height="36.14" fill="#22200e"/>
<rect x="558.44" y="1295.87" width="41.31" height="36.14" fill="#221121"/>
<rect x="599.76" y="1295.87" width="41.31" height="36.14" fill="#000000"/>
<rect x="641.07" y="1295.87" width="41.31" height="36.14" fill="#150914"/>
<rect x="682.39" y="1295.87" width="41.31" height="36.14" fill="#691d68"/>
<rect x="145.30" y="1332.01" width="41.31" height="36.14" fill="#78771b"/>
<rect x="186.61" y="1332.01" width="41.31" height="36.14" fill="#88871b"/>
<rect x="227.93" y="1332.01" width="41.31" height="36.14" fill="#78771b"/>
<rect x="269.24" y="1332.01" width="41.31" height="36.14" fill="#2f142e"/>
<rect x="310.56" y="1332.01" width="41.31" height="36.14" fill="#151408"/>
<rect x="351.87" y="1332.01" width="41.31" height="36.14" fill="#000000"/>
<rect x="393.19" y="1332.01" width="41.31" height="36.14" fill="#150914"/>
<rect x="434.50" y="1332.01" width="41.31" height="36.14" fill="#150914"/>
<rect x="475.81" y="1332.01" width="41.31" height="36.14" fill="#221121"/>
<rect x="517.13" y="1332.01" width="41.31" height="36.14" fill="#151408"/>
<rect x="558.44" y="1332.01" width="41.31" height="36.14" fill="#781e77"/>
<rect x="599.76" y="1332.01" width="41.31" height="36.14" fill="#5a1c59"/>
<rect x="641.07" y="1332.01" width="41.31" height="36.14" fill="#691d68"/>
<rect x="682.39" y="1332.01" width="41.31" height="36.14" fill="#151408"/>
<rect x="145.30" y="1368.15" width="41.31" height="36.14" fill="#78771b"/>
<rect x="186.61" y="1368.15" width="41.31" height="36.14" fill="#78771b"/>
<rect x="227.93" y="1368.15" width="41.31" height="36.14" fill="#78771b"/>
<rect x="269.24" y="1368.15" width="41.31" height="36.14" fill="#2f2e12"/>
<rect x="310.56" y="1368.15" width="41.31" height="36.14" fill="#000000"/>
<rect x="351.87" y="1368.15" width="41.31" height="36.14" fill="#22200e"/>
<rect x="393.19" y="1368.15" width="41.31" height="36.14" fill="#221121"/>
<rect x="434.50" y="1368.15" width="41.31" height="36.14" fill="#691d68"/>
<rect x="475.81" y="1368.15" width="41.31" height="36.14" fill="#2f142e"/>
<rect x="517.13" y="1368.15" width="41.31" height="36.14" fill="#150914"/>
<rect x="558.44" y="1368.15" width="41.31" height="36.14" fill="#691d68"/>
<rect x="599.76" y="1368.15" width="41.31" height="36.14" fill="#221121"/>
<rect x="641.07" y="1368.15" width="41.31" height="36.14" fill="#691d68"/>
<rect x="682.39" y="1368.15" width="41.31" height="36.14" fill="#151408"/>
<rect x="145.30" y="1404.30" width="41.31" height="36.14" fill="#78771b"/>
<rect x="186.61" y="1404.30" width="41.31" height="36.14" fill="#78771b"/>
<rect x="227.93" y="1404.30" width="41.31" height="36.14" fill="#5a5819"/>
<rect x="269.24" y="1404.30" width="41.31" height="36.14" fill="#881f87"/>
<rect x="310.56" y="1404.30" width="41.31" height="36.14" fill="#5a1c59"/>
<rect x="351.87" y="1404.30" width="41.31" height="36.14" fill="#2f2e12"/>
<rect x="393.19" y="1404.30" width="41.31" height="36.14" fill="#2f2e12"/>
<rect x="434.50" y="1404.30" width="41.31" height="36.14" fill="#3d173c"/>
<rect x="475.81" y="1404.30" width="41.31" height="36.14" fill="#000000"/>
<rect x="517.13" y="1404.30" width="41.31" height="36.14" fill="#150914"/>
<rect x="558.44" y="1404.30" width="41.31" height="36.14" fill="#3d173c"/>
<rect x="599.76" y="1404.30" width="41.31" height="36.14" fill="#22200e"/>
<rect x="641.07" y="1404.30" width="41.31" height="36.14" fill="#221121"/>
<rect x="682.39" y="1404.30" width="41.31" height="36.14" fill="#5a1c59"/>
<rect x="145.30" y="1440.44" width="41.31" height="36.14" fill="#2f2e12"/>
<rect x="186.61" y="1440.44" width="41.31" height="36.14" fill="#69671a"/>
<rect x="227.93" y="1440.44" width="41.31" height="36.14" fill="#4b4917"/>
<rect x="269.24" y="1440.44" width="41.31" height="36.14" fill="#5a5819"/>
<rect x="310.56" y="1440.44" width="41.31" height="36.14" fill="#4b1a4a"/>
<rect x="351.87" y="1440.44" width="41.31" height="36.14" fill="#150914"/>
<rect x="393.19" y="1440.44" width="41.31" height="36.14" fill="#3d173c"/>
<rect x="434.50" y="1440.44" width="41.31" height="36.14" fill="#221121"/>
<rect x="475.81" y="1440.44" width="41.31" height="36.14" fill="#5a1c59"/>
<rect x="517.13" y="1440.44" width="41.31" height="36.14" fill="#221121"/>
<rect x="558.44" y="1440.44" width="41.31" height="36.14" fill="#a91ea8"/>
<rect x="599.76" y="1440.44" width="41.31" height="36.14" fill="#150914"/>
<rect x="641.07" y="1440.44" width="41.31" height="36.14" fill="#5a5819"/>
<rect x="682.39" y="1440.44" width="41.31" height="36.14" fill="#22200e"/>
<rect x="145.30" y="1476.58" width="41.31" height="36.14" fill="#5a5819"/>
<rect x="186.61" y="1476.58" width="41.31" height="36.14" fill="#69671a"/>
<rect x="227.93" y="1476.58" width="41.31" height="36.14" fill="#981f97"/>
<rect x="269.24" y="1476.58" width="41.31" height="36.14" fill="#22200e"/>
<rect x="310.56" y="1476.58" width="41.31" height="36.14" fill="#22200e"/>
<rect x="351.87" y="1476.58" width="41.31" height="36.14" fill="#22200e"/>
<rect x="393.19" y="1476.58" width="41.31" height="36.14" fill="#22200e"/>
<rect x="434.50" y="1476.58" width="41.31" height="36.14" fill="#22200e"/>
<rect x="475.81" y="1476.58" width="41.31" height="36.14" fill="#881f87"/>
<rect x="517.13" y="1476.58" width="41.31" height="36.14" fill="#22200e"/>
<rect x="558.44" y="1476.58" width="41.31" height="36.14" fill="#22200e"/>
<rect x="599.76" y="1476.58" width="41.31" height="36.14" fill="#22200e"/>
<rect x="641.07" y="1476.58" width="41.31" height="36.14" fill="#781e77"/>
<rect x="682.39" y="1476.58" width="41.31" height="36.14" fill="#22200e"/>
<rect x="145.30" y="1512.72" width="41.31" height="36.14" fill="#4b4917"/>
<rect x="186.61" y="1512.72" width="41.31" height="36.14" fill="#5a5819"/>
<rect x="227.93" y="1512.72" width="41.31" height="36.14" fill="#5a5819"/>
<rect x="269.24" y="1512.72" width="41.31" height="36.14" fill="#691d68"/>
<rect x="310.56" y="1512.72" width="41.31" height="36.14" fill="#881f87"/>
<rect x="351.87" y="1512.72" width="41.31" height="36.14" fill="#a91ea8"/>
<rect x="393.19" y="1512.72" width="41.31" height="36.14" fill="#2f2e12"/>
<rect x="434.50" y="1512.72" width="41.31" height="36.14" fill="#2f2e12"/>
<rect x="475.81" y="1512.72" width="41.31" height="36.14" fill="#3d3b15"/>
<rect x="517.13" y="1512.72" width="41.31" height="36.14" fill="#151408"/>
<rect x="558.44" y="1512.72" width="41.31" height="36.14" fill="#221121"/>
<rect x="599.76" y="1512.72" width="41.31" height="36.14" fill="#000000"/>
<rect x="641.07" y="1512.72" width="41.31" height="36.14" fill="#22200e"/>
<rect x="682.39" y="1512.72" width="41.31" height="36.14" fill="#221121"/>
<rect x="145.30" y="1548.86" width="41.31" height="36.14" fill="#78771b"/>
<rect x="186.61" y="1548.86" width="41.31" height="36.14" fill="#78771b"/>
<rect x="227.93" y="1548.86" width="41.31" height="36.14" fill="#88871b"/>
<rect x="269.24" y="1548.86" width="41.31" height="36.14" fill="#2f2e12"/>
<rect x="310.56" y="1548.86" width="41.31" height="36.14" fill="#3d173c"/>
<rect x="351.87" y="1548.86" width="41.31" height="36.14" fill="#221121"/>
<rect x="393.19" y="1548.86" width="41.31" height="36.14" fill="#221121"/>
<rect x="434.50" y="1548.86" width="41.31" height="36.14" fill="#5a1c59"/>
<rect x="475.81" y="1548.86" width="41.31" height="36.14" fill="#151408"/>
<rect x="517.13" y="1548.86" width="41.31" height="36.14" fill="#150914"/>
<rect x="558.44" y="1548.86" width="41.31" height="36.14" fill="#221121"/>
<rect x="599.76" y="1548.86" width="41.31" height="36.14" fill="#2f142e"/>
<rect x="641.07" y="1548.86" width="41.31" height="36.14" fill="#2f142e"/>
<rect x="682.39" y="1548.86" width="41.31" height="36.14" fill="#781e77"/>
<rect x="145.30" y="1585.01" width="41.31" height="36.14" fill="#69671a"/>
<rect x="186.61" y="1585.01" width="41.31" height="36.14" fill="#78771b"/>
<rect x="227.93" y="1585.01" width="41.31" height="36.14" fill="#78771b"/>
<rect x="269.24" y="1585.01" width="41.31" height="36.14" fill="#000000"/>
<rect x="310.56" y="1585.01" width="41.31" height="36.14" fill="#221121"/>
<rect x="351.87" y="1585.01" width="41.31" height="36.14" fill="#881f87"/>
<rect x="393.19" y="1585.01" width="41.31" height="36.14" fill="#881f87"/>
<rect x="434.50" y="1585.01" width="41.31" height="36.14" fill="#2f2e12"/>
<rect x="475.81" y="1585.01" width="41.31" height="36.14" fill="#221121"/>
<rect x="517.13" y="1585.01" width="41.31" height="36.14" fill="#000000"/>
<rect x="558.44" y="1585.01" width="41.31" height="36.14" fill="#000000"/>
<rect x="599.76" y="1585.01" width="41.31" height="36.14" fill="#150914"/>
<rect x="641.07" y="1585.01" width="41.31" height="36.14" fill="#221121"/>
<rect x="682.39" y="1585.01" width="41.31" height="36.14" fill="#221121"/>
<rect x="145.30" y="1621.15" width="41.31" height="36.14" fill="#3d3b15"/>
<rect x="186.61" y="1621.15" width="41.31" height="36.14" fill="#78771b"/>
<rect x="227.93" y="1621.15" width="41.31" height="36.14" fill="#78771b"/>
<rect x="269.24" y="1621.15" width="41.31" height="36.14" fill="#881f87"/>
<rect x="310.56" y="1621.15" width="41.31" height="36.14" fill="#000000"/>
<rect x="351.87" y="1621.15" width="41.31" height="36.14" fill="#221121"/>
<rect x="393.19" y="1621.15" width="41.31" height="36.14" fill="#691d68"/>
<rect x="434.50" y="1621.15" width="41.31" height="36.14" fill="#150914"/>
<rect x="475.81" y="1621.15" width="41.31" height="36.14" fill="#151408"/>
<rect x="517.13" y="1621.15" width="41.31" height="36.14" fill="#2f2e12"/>
<rect x="558.44" y="1621.15" width="41.31" height="36.14" fill="#150914"/>
<rect x="599.76" y="1621.15" width="41.31" height="36.14" fill="#000000"/>
<rect x="641.07" y="1621.15" width="41.31" height="36.14" fill="#2f2e12"/>
<rect x="682.39" y="1621.15" width="41.31" height="36.14" fill="#691d68"/>
<rect x="145.30" y="1657.29" width="41.31" height="36.14" fill="#22200e"/>
<rect x="186.61" y="1657.29" width="41.31" height="36.14" fill="#5a5819"/>
<rect x="227.93" y="1657.29" width="41.31" height="36.14" fill="#78771b"/>
<rect x="269.24" y="1657.29" width="41.31" height="36.14" fill="#3d3b15"/>
<rect x="310.56" y="1657.29" width="41.31" height="36.14" fill="#781e77"/>
<rect x="351.87" y="1657.29" width="41.31" height="36.14" fill="#691d68"/>
<rect x="393.19" y="1657.29" width="41.31" height="36.14" fill="#3d3b15"/>
<rect x="434.50" y="1657.29" width="41.31" height="36.14" fill="#691d68"/>
<rect x="475.81" y="1657.29" width="41.31" height="36.14" fill="#3d3b15"/>
<rect x="517.13" y="1657.29" width="41.31" height="36.14" fill="#2f2e12"/>
<rect x="558.44" y="1657.29" width="41.31" height="36.14" fill="#3d173c"/>
<rect x="599.76" y="1657.29" width="41.31" height="36.14" fill="#000000"/>
<rect x="641.07" y="1657.29" width="41.31" height="36.14" fill="#5a1c59"/>
<rect x="682.39" y="1657.29" width="41.31" height="36.14" fill="#22200e"/>
<rect x="145.30" y="1693.43" width="41.31" height="36.14" fill="#69671a"/>
<rect x="186.61" y="1693.43" width="41.31" height="36.14" fill="#69671a"/>
<rect x="227.93" y="1693.43" width="41.31" height="36.14" fill="#69671a"/>
<rect x="269.24" y="1693.43" width="41.31" height="36.14" fill="#2f2e12"/>
<rect x="310.56" y="1693.43" width="41.31" height="36.14" fill="#2f2e12"/>
<rect x="351.87" y="1693.43" width="41.31" height="36.14" fill="#22200e"/>
<rect x="393.19" y="1693.43" width="41.31" height="36.14" fill="#22200e"/>
<rect x="434.50" y="1693.43" width="41.31" height="36.14" fill="#691d68"/>
<rect x="475.81" y="1693.43" width="41.31" height="36.14" fill="#151408"/>
<rect x="517.13" y="1693.43" width="41.31" height="36.14" fill="#691d68"/>
<rect x="558.44" y="1693.43" width="41.31" height="36.14" fill="#221121"/>
<rect x="599.76" y="1693.43" width="41.31" height="36.14" fill="#2f142e"/>
<rect x="641.07" y="1693.43" width="41.31" height="36.14" fill="#3d173c"/>
<rect x="682.39" y="1693.43" width="41.31" height="36.14" fill="#691d68"/>
<rect x="145.30" y="1729.57" width="41.31" height="36.14" fill="#78771b"/>
<rect x="186.61" y="1729.57" width="41.31" height="36.14" fill="#2f2e12"/>
<rect x="227.93" y="1729.57" width="41.31" height="36.14" fill="#3d3b15"/>
<rect x="269.24" y="1729.57" width="41.31" height="36.14" fill="#221121"/>
<rect x="310.56" y="1729.57" width="41.31" height="36.14" fill="#88871b"/>
<rect x="351.87" y="1729.57" width="41.31" height="36.14" fill="#000000"/>
<rect x="393.19" y="1729.57" width="41.31" height="36.14" fill="#4b1a4a"/>
<rect x="434.50" y="1729.57" width="41.31" height="36.14" fill="#b91cb9"/>
<rect x="475.81" y="1729.57" width="41.31" height="36.14" fill="#22200e"/>
<rect x="517.13" y="1729.57" width="41.31" height="36.14" fill="#22200e"/>
<rect x="558.44" y="1729.57" width="41.31" height="36.14" fill="#2f142e"/>
<rect x="599.76" y="1729.57" width="41.31" height="36.14" fill="#000000"/>
<rect x="641.07" y="1729.57" width="41.31" height="36.14" fill="#4b1a4a"/>
<rect x="682.39" y="1729.57" width="41.31" height="36.14" fill="#151408"/>
<rect x="145.30" y="1765.72" width="41.31" height="36.14" fill="#981f97"/>
<rect x="186.61" y="1765.72" width="41.31" height="36.14" fill="#5a1c59"/>
<rect x="227.93" y="1765.72" width="41.31" height="36.14" fill="#5a1c59"/>
<rect x="269.24" y="1765.72" width="41.31" height="36.14" fill="#5a1c59"/>
<rect x="310.56" y="1765.72" width="41.31" height="36.14" fill="#5a5819"/>
<rect x="351.87" y="1765.72" width="41.31" height="36.14" fill="#3d3b15"/>
<rect x="393.19" y="1765.72" width="41.31" height="36.14" fill="#78771b"/>
<rect x="434.50" y="1765.72" width="41.31" height="36.14" fill="#2f142e"/>
<rect x="475.81" y="1765.72" width="41.31" height="36.14" fill="#000000"/>
<rect x="517.13" y="1765.72" width="41.31" height="36.14" fill="#2f2e12"/>
<rect x="558.44" y="1765.72" width="41.31" height="36.14" fill="#22200e"/>
<rect x="599.76" y="1765.72" width="41.31" height="36.14" fill="#3d3b15"/>
<rect x="641.07" y="1765.72" width="41.31" height="36.14" fill="#2f2e12"/>
<rect x="682.39" y="1765.72" width="41.31" height="36.14" fill="#151408"/>
<rect x="145.30" y="1801.86" width="41.31" height="36.14" fill="#4b4917"/>
<rect x="186.61" y="1801.86" width="41.31" height="36.14" fill="#5a5819"/>
<rect x="227.93" y="1801.86" width="41.31" height="36.14" fill="#69671a"/>
<rect x="269.24" y="1801.86" width="41.31" height="36.14" fill="#5a5819"/>
<rect x="310.56" y="1801.86" width="41.31" height="36.14" fill="#151408"/>
<rect x="351.87" y="1801.86" width="41.31" height="36.14" fill="#4b1a4a"/>
<rect x="393.19" y="1801.86" width="41.31" height="36.14" fill="#78771b"/>
<rect x="434.50" y="1801.86" width="41.31" height="36.14" fill="#4b1a4a"/>
<rect x="475.81" y="1801.86" width="41.31" height="36.14" fill="#221121"/>
<rect x="517.13" y="1801.86" width="41.31" height="36.14" fill="#22200e"/>
<rect x="558.44" y="1801.86" width="41.31" height="36.14" fill="#5a1c59"/>
<rect x="599.76" y="1801.86" width="41.31" height="36.14" fill="#221121"/>
<rect x="641.07" y="1801.86" width="41.31" height="36.14" fill="#781e77"/>
<rect x="682.39" y="1801.86" width="41.31" height="36.14" fill="#691d68"/>
<rect x="145.30" y="1838.00" width="41.31" height="36.14" fill="#2f142e"/>
<rect x="186.61" y="1838.00" width="41.31" height="36.14" fill="#3d3b15"/>
<rect x="227.93" y="1838.00" width="41.31" height="36.14" fill="#000000"/>
<rect x="269.24" y="1838.00" width="41.31" height="36.14" fill="#22200e"/>
<rect x="310.56" y="1838.00" width="41.31" height="36.14" fill="#000000"/>
<rect x="351.87" y="1838.00" width="41.31" height="36.14" fill="#5a5819"/>
<rect x="393.19" y="1838.00" width="41.31" height="36.14" fill="#78771b"/>
<rect x="434.50" y="1838.00" width="41.31" height="36.14" fill="#781e77"/>
<rect x="475.81" y="1838.00" width="41.31" height="36.14" fill="#691d68"/>
<rect x="517.13" y="1838.00" width="41.31" height="36.14" fill="#22200e"/>
<rect x="558.44" y="1838.00" width="41.31" height="36.14" fill="#221121"/>
<rect x="599.76" y="1838.00" width="41.31" height="36.14" fill="#151408"/>
<rect x="641.07" y="1838.00" width="41.31" height="36.14" fill="#981f97"/>
<rect x="682.39" y="1838.00" width="41.31" height="36.14" fill="#5a5819"/>
<rect x="145.30" y="1874.14" width="41.31" height="36.14" fill="#4b1a4a"/>
<rect x="186.61" y="1874.14" width="41.31" height="36.14" fill="#2f2e12"/>
<rect x="227.93" y="1874.14" width="41.31" height="36.14" fill="#691d68"/>
<rect x="269.24" y="1874.14" width="41.31" height="36.14" fill="#2f2e12"/>
<rect x="310.56" y="1874.14" width="41.31" height="36.14" fill="#69671a"/>
<rect x="351.87" y="1874.14" width="41.31" height="36.14" fill="#881f87"/>
<rect x="393.19" y="1874.14" width="41.31" height="36.14" fill="#5a1c59"/>
<rect x="434.50" y="1874.14" width="41.31" height="36.14" fill="#3d3b15"/>
<rect x="475.81" y="1874.14" width="41.31" height="36.14" fill="#22200e"/>
<rect x="517.13" y="1874.14" width="41.31" height="36.14" fill="#78771b"/>
<rect x="558.44" y="1874.14" width="41.31" height="36.14" fill="#22200e"/>
<rect x="599.76" y="1874.14" width="41.31" height="36.14" fill="#2f2e12"/>
<rect x="641.07" y="1874.14" width="41.31" height="36.14" fill="#5a1c59"/>
<rect x="682.39" y="1874.14" width="41.31" height="36.14" fill="#000000"/>
<rect x="145.30" y="1910.29" width="41.31" height="36.14" fill="#150914"/>
<rect x="186.61" y="1910.29" width="41.31" height="36.14" fill="#22200e"/>
<rect x="227.93" y="1910.29" width="41.31" height="36.14" fill="#4b4917"/>
<rect x="269.24" y="1910.29" width="41.31" height="36.14" fill="#000000"/>
<rect x="310.56" y="1910.29" width="41.31" height="36.14" fill="#151408"/>
<rect x="351.87" y="1910.29" width="41.31" height="36.14" fill="#2f142e"/>
<rect x="393.19" y="1910.29" width="41.31" height="36.14" fill="#781e77"/>
<rect x="434.50" y="1910.29" width="41.31" height="36.14" fill="#781e77"/>
<rect x="475.81" y="1910.29" width="41.31" height="36.14" fill="#2f2e12"/>
<rect x="517.13" y="1910.29" width="41.31" height="36.14" fill="#78771b"/>
<rect x="558.44" y="1910.29" width="41.31" height="36.14" fill="#221121"/>
<rect x="599.76" y="1910.29" width="41.31" height="36.14" fill="#2f2e12"/>
<rect x="641.07" y="1910.29" width="41.31" height="36.14" fill="#5a5819"/>
<rect x="682.39" y="1910.29" width="41.31" height="36.14" fill="#781e77"/>
<rect x="145.30" y="1946.43" width="41.31" height="36.14" fill="#4b1a4a"/>
<rect x="186.61" y="1946.43" width="41.31" height="36.14" fill="#000000"/>
<rect x="227.93" y="1946.43" width="41.31" height="36.14" fill="#4b1a4a"/>
<rect x="269.24" y="1946.43" width="41.31" height="36.14" fill="#221121"/>
<rect x="310.56" y="1946.43" width="41.31" height="36.14" fill="#691d68"/>
<rect x="351.87" y="1946.43" width="41.31" height="36.14" fill="#000000"/>
<rect x="393.19" y="1946.43" width="41.31" height="36.14" fill="#3d3b15"/>
<rect x="434.50" y="1946.43" width="41.31" height="36.14" fill="#4b1a4a"/>
<rect x="475.81" y="1946.43" width="41.31" height="36.14" fill="#691d68"/>
<rect x="517.13" y="1946.43" width="41.31" height="36.14" fill="#78771b"/>
<rect x="558.44" y="1946.43" width="41.31" height="36.14" fill="#5a5819"/>
<rect x="599.76" y="1946.43" width="41.31" height="36.14" fill="#69671a"/>
<rect x="641.07" y="1946.43" width="41.31" height="36.14" fill="#5a5819"/>
<rect x="682.39" y="1946.43" width="41.31" height="36.14" fill="#22200e"/>
</g>
<g stroke="#fff" stroke-width="1.4">
<rect x="747.17" y="1151.30" width="41.32" height="36.14" fill="#2f142e"/>
<rect x="788.49" y="1151.30" width="41.32" height="36.14" fill="#caca16"/>
<rect x="829.82" y="1151.30" width="41.32" height="36.14" fill="#2f142e"/>
<rect x="871.14" y="1151.30" width="41.32" height="36.14" fill="#2f142e"/>
<rect x="912.46" y="1151.30" width="41.32" height="36.14" fill="#2f142e"/>
<rect x="953.79" y="1151.30" width="41.32" height="36.14" fill="#2f142e"/>
<rect x="995.11" y="1151.30" width="41.32" height="36.14" fill="#2f142e"/>
<rect x="1036.43" y="1151.30" width="41.32" height="36.14" fill="#2f142e"/>
<rect x="1077.76" y="1151.30" width="41.32" height="36.14" fill="#78771b"/>
<rect x="1119.08" y="1151.30" width="41.32" height="36.14" fill="#78771b"/>
<rect x="1160.41" y="1151.30" width="41.32" height="36.14" fill="#2f142e"/>
<rect x="1201.73" y="1151.30" width="41.32" height="36.14" fill="#22200e"/>
<rect x="1243.05" y="1151.30" width="41.32" height="36.14" fill="#2f142e"/>
<rect x="1284.38" y="1151.30" width="41.32" height="36.14" fill="#2f142e"/>
<rect x="747.17" y="1187.44" width="41.32" height="36.14" fill="#ff00ff"/>
<rect x="788.49" y="1187.44" width="41.32" height="36.14" fill="#2f2e12"/>
<rect x="829.82" y="1187.44" width="41.32" height="36.14" fill="#5a5819"/>
<rect x="871.14" y="1187.44" width="41.32" height="36.14" fill="#22200e"/>
<rect x="912.46" y="1187.44" width="41.32" height="36.14" fill="#000000"/>
<rect x="953.79" y="1187.44" width="41.32" height="36.14" fill="#151408"/>
<rect x="995.11" y="1187.44" width="41.32" height="36.14" fill="#22200e"/>
<rect x="1036.43" y="1187.44" width="41.32" height="36.14" fill="#2f142e"/>
<rect x="1077.76" y="1187.44" width="41.32" height="36.14" fill="#3d173c"/>
<rect x="1119.08" y="1187.44" width="41.32" height="36.14" fill="#000000"/>
<rect x="1160.41" y="1187.44" width="41.32" height="36.14" fill="#22200e"/>
<rect x="1201.73" y="1187.44" width="41.32" height="36.14" fill="#3d3b15"/>
<rect x="1243.05" y="1187.44" width="41.32" height="36.14" fill="#2f2e12"/>
<rect x="1284.38" y="1187.44" width="41.32" height="36.14" fill="#22200e"/>
<rect x="747.17" y="1223.58" width="41.32" height="36.14" fill="#000000"/>
<rect x="788.49" y="1223.58" width="41.32" height="36.14" fill="#88871b"/>
<rect x="829.82" y="1223.58" width="41.32" height="36.14" fill="#98971b"/>
<rect x="871.14" y="1223.58" width="41.32" height="36.14" fill="#5a1c59"/>
<rect x="912.46" y="1223.58" width="41.32" height="36.14" fill="#3d173c"/>
<rect x="953.79" y="1223.58" width="41.32" height="36.14" fill="#781e77"/>
<rect x="995.11" y="1223.58" width="41.32" height="36.14" fill="#3d173c"/>
<rect x="1036.43" y="1223.58" width="41.32" height="36.14" fill="#22200e"/>
<rect x="1077.76" y="1223.58" width="41.32" height="36.14" fill="#3d3b15"/>
<rect x="1119.08" y="1223.58" width="41.32" height="36.14" fill="#2f2e12"/>
<rect x="1160.41" y="1223.58" width="41.32" height="36.14" fill="#000000"/>
<rect x="1201.73" y="1223.58" width="41.32" height="36.14" fill="#151408"/>
<rect x="1243.05" y="1223.58" width="41.32" height="36.14" fill="#221121"/>
<rect x="1284.38" y="1223.58" width="41.32" height="36.14" fill="#4b1a4a"/>
<rect x="747.17" y="1259.73" width="41.32" height="36.14" fill="#3d3b15"/>
<rect x="788.49" y="1259.73" width="41.32" height="36.14" fill="#98971b"/>
<rect x="829.82" y="1259.73" width="41.32" height="36.14" fill="#88871b"/>
<rect x="871.14" y="1259.73" width="41.32" height="36.14" fill="#4b1a4a"/>
<rect x="912.46" y="1259.73" width="41.32" height="36.14" fill="#4b1a4a"/>
<rect x="953.79" y="1259.73" width="41.32" height="36.14" fill="#691d68"/>
<rect x="995.11" y="1259.73" width="41.32" height="36.14" fill="#5a1c59"/>
<rect x="1036.43" y="1259.73" width="41.32" height="36.14" fill="#000000"/>
<rect x="1077.76" y="1259.73" width="41.32" height="36.14" fill="#22200e"/>
<rect x="1119.08" y="1259.73" width="41.32" height="36.14" fill="#22200e"/>
<rect x="1160.41" y="1259.73" width="41.32" height="36.14" fill="#000000"/>
<rect x="1201.73" y="1259.73" width="41.32" height="36.14" fill="#22200e"/>
<rect x="1243.05" y="1259.73" width="41.32" height="36.14" fill="#221121"/>
<rect x="1284.38" y="1259.73" width="41.32" height="36.14" fill="#3d173c"/>
<rect x="747.17" y="1295.87" width="41.32" height="36.14" fill="#69671a"/>
<rect x="788.49" y="1295.87" width="41.32" height="36.14" fill="#78771b"/>
<rect x="829.82" y="1295.87" width="41.32" height="36.14" fill="#3d173c"/>
<rect x="871.14" y="1295.87" width="41.32" height="36.14" fill="#22200e"/>
<rect x="912.46" y="1295.87" width="41.32" height="36.14" fill="#2f2e12"/>
<rect x="953.79" y="1295.87" width="41.32" height="36.14" fill="#781e77"/>
<rect x="995.11" y="1295.87" width="41.32" height="36.14" fill="#781e77"/>
<rect x="1036.43" y="1295.87" width="41.32" height="36.14" fill="#000000"/>
<rect x="1077.76" y="1295.87" width="41.32" height="36.14" fill="#3d3b15"/>
<rect x="1119.08" y="1295.87" width="41.32" height="36.14" fill="#3d3b15"/>
<rect x="1160.41" y="1295.87" width="41.32" height="36.14" fill="#22200e"/>
<rect x="1201.73" y="1295.87" width="41.32" height="36.14" fill="#150914"/>
<rect x="1243.05" y="1295.87" width="41.32" height="36.14" fill="#221121"/>
<rect x="1284.38" y="1295.87" width="41.32" height="36.14" fill="#781e77"/>
<rect x="747.17" y="1332.01" width="41.32" height="36.14" fill="#3d3b15"/>
<rect x="788.49" y="1332.01" width="41.32" height="36.14" fill="#5a5819"/>
<rect x="829.82" y="1332.01" width="41.32" height="36.14" fill="#5a5819"/>
<rect x="871.14" y="1332.01" width="41.32" height="36.14" fill="#151408"/>
<rect x="912.46" y="1332.01" width="41.32" height="36.14" fill="#151408"/>
<rect x="953.79" y="1332.01" width="41.32" height="36.14" fill="#150914"/>
<rect x="995.11" y="1332.01" width="41.32" height="36.14" fill="#ff00ff"/>
<rect x="1036.43" y="1332.01" width="41.32" height="36.14" fill="#000000"/>
<rect x="1077.76" y="1332.01" width="41.32" height="36.14" fill="#22200e"/>
<rect x="1119.08" y="1332.01" width="41.32" height="36.14" fill="#22200e"/>
<rect x="1160.41" y="1332.01" width="41.32" height="36.14" fill="#150914"/>
<rect x="1201.73" y="1332.01" width="41.32" height="36.14" fill="#150914"/>
<rect x="1243.05" y="1332.01" width="41.32" height="36.14" fill="#150914"/>
<rect x="1284.38" y="1332.01" width="41.32" height="36.14" fill="#221121"/>
<rect x="747.17" y="1368.15" width="41.32" height="36.14" fill="#5a5819"/>
<rect x="788.49" y="1368.15" width="41.32" height="36.14" fill="#78771b"/>
<rect x="829.82" y="1368.15" width="41.32" height="36.14" fill="#78771b"/>
<rect x="871.14" y="1368.15" width="41.32" height="36.14" fill="#3d3b15"/>
<rect x="912.46" y="1368.15" width="41.32" height="36.14" fill="#4b4917"/>
<rect x="953.79" y="1368.15" width="41.32" height="36.14" fill="#4b1a4a"/>
<rect x="995.11" y="1368.15" width="41.32" height="36.14" fill="#4b1a4a"/>
<rect x="1036.43" y="1368.15" width="41.32" height="36.14" fill="#4b1a4a"/>
<rect x="1077.76" y="1368.15" width="41.32" height="36.14" fill="#22200e"/>
<rect x="1119.08" y="1368.15" width="41.32" height="36.14" fill="#221121"/>
<rect x="1160.41" y="1368.15" width="41.32" height="36.14" fill="#4b1a4a"/>
<rect x="1201.73" y="1368.15" width="41.32" height="36.14" fill="#221121"/>
<rect x="1243.05" y="1368.15" width="41.32" height="36.14" fill="#4b1a4a"/>
<rect x="1284.38" y="1368.15" width="41.32" height="36.14" fill="#4b1a4a"/>
<rect x="747.17" y="1404.30" width="41.32" height="36.14" fill="#221121"/>
<rect x="788.49" y="1404.30" width="41.32" height="36.14" fill="#ffff00"/>
<rect x="829.82" y="1404.30" width="41.32" height="36.14" fill="#221121"/>
<rect x="871.14" y="1404.30" width="41.32" height="36.14" fill="#221121"/>
<rect x="912.46" y="1404.30" width="41.32" height="36.14" fill="#221121"/>
<rect x="953.79" y="1404.30" width="41.32" height="36.14" fill="#221121"/>
<rect x="995.11" y="1404.30" width="41.32" height="36.14" fill="#221121"/>
<rect x="1036.43" y="1404.30" width="41.32" height="36.14" fill="#221121"/>
<rect x="1077.76" y="1404.30" width="41.32" height="36.14" fill="#221121"/>
<rect x="1119.08" y="1404.30" width="41.32" height="36.14" fill="#221121"/>
<rect x="1160.41" y="1404.30" width="41.32" height="36.14" fill="#221121"/>
<rect x="1201.73" y="1404.30" width="41.32" height="36.14" fill="#221121"/>
<rect x="1243.05" y="1404.30" width="41.32" height="36.14" fill="#221121"/>
<rect x="1284.38" y="1404.30" width="41.32" height="36.14" fill="#221121"/>
<rect x="747.17" y="1440.44" width="41.32" height="36.14" fill="#2f2e12"/>
<rect x="788.49" y="1440.44" width="41.32" height="36.14" fill="#69671a"/>
<rect x="829.82" y="1440.44" width="41.32" height="36.14" fill="#69671a"/>
<rect x="871.14" y="1440.44" width="41.32" height="36.14" fill="#000000"/>
<rect x="912.46" y="1440.44" width="41.32" height="36.14" fill="#221121"/>
<rect x="953.79" y="1440.44" width="41.32" height="36.14" fill="#4b1a4a"/>
<rect x="995.11" y="1440.44" width="41.32" height="36.14" fill="#ed0eed"/>
<rect x="1036.43" y="1440.44" width="41.32" height="36.14" fill="#150914"/>
<rect x="1077.76" y="1440.44" width="41.32" height="36.14" fill="#000000"/>
<rect x="1119.08" y="1440.44" width="41.32" height="36.14" fill="#151408"/>
<rect x="1160.41" y="1440.44" width="41.32" height="36.14" fill="#22200e"/>
<rect x="1201.73" y="1440.44" width="41.32" height="36.14" fill="#22200e"/>
<rect x="1243.05" y="1440.44" width="41.32" height="36.14" fill="#000000"/>
<rect x="1284.38" y="1440.44" width="41.32" height="36.14" fill="#22200e"/>
<rect x="747.17" y="1476.58" width="41.32" height="36.14" fill="#a9a81a"/>
<rect x="788.49" y="1476.58" width="41.32" height="36.14" fill="#88871b"/>
<rect x="829.82" y="1476.58" width="41.32" height="36.14" fill="#3d173c"/>
<rect x="871.14" y="1476.58" width="41.32" height="36.14" fill="#3d173c"/>
<rect x="912.46" y="1476.58" width="41.32" height="36.14" fill="#22200e"/>
<rect x="953.79" y="1476.58" width="41.32" height="36.14" fill="#3d173c"/>
<rect x="995.11" y="1476.58" width="41.32" height="36.14" fill="#3d173c"/>
<rect x="1036.43" y="1476.58" width="41.32" height="36.14" fill="#3d173c"/>
<rect x="1077.76" y="1476.58" width="41.32" height="36.14" fill="#3d3b15"/>
<rect x="1119.08" y="1476.58" width="41.32" height="36.14" fill="#5a5819"/>
<rect x="1160.41" y="1476.58" width="41.32" height="36.14" fill="#3d173c"/>
<rect x="1201.73" y="1476.58" width="41.32" height="36.14" fill="#150914"/>
<rect x="1243.05" y="1476.58" width="41.32" height="36.14" fill="#3d173c"/>
<rect x="1284.38" y="1476.58" width="41.32" height="36.14" fill="#3d173c"/>
<rect x="747.17" y="1512.72" width="41.32" height="36.14" fill="#5a5819"/>
<rect x="788.49" y="1512.72" width="41.32" height="36.14" fill="#78771b"/>
<rect x="829.82" y="1512.72" width="41.32" height="36.14" fill="#78771b"/>
<rect x="871.14" y="1512.72" width="41.32" height="36.14" fill="#2f142e"/>
<rect x="912.46" y="1512.72" width="41.32" height="36.14" fill="#2f142e"/>
<rect x="953.79" y="1512.72" width="41.32" height="36.14" fill="#5a1c59"/>
<rect x="995.11" y="1512.72" width="41.32" height="36.14" fill="#3d173c"/>
<rect x="1036.43" y="1512.72" width="41.32" height="36.14" fill="#3d3b15"/>
<rect x="1077.76" y="1512.72" width="41.32" height="36.14" fill="#3d3b15"/>
<rect x="1119.08" y="1512.72" width="41.32" height="36.14" fill="#151408"/>
<rect x="1160.41" y="1512.72" width="41.32" height="36.14" fill="#2f142e"/>
<rect x="1201.73" y="1512.72" width="41.32" height="36.14" fill="#221121"/>
<rect x="1243.05" y="1512.72" width="41.32" height="36.14" fill="#2f142e"/>
<rect x="1284.38" y="1512.72" width="41.32" height="36.14" fill="#981f97"/>
<rect x="747.17" y="1548.86" width="41.32" height="36.14" fill="#4b4917"/>
<rect x="788.49" y="1548.86" width="41.32" height="36.14" fill="#78771b"/>
<rect x="829.82" y="1548.86" width="41.32" height="36.14" fill="#78771b"/>
<rect x="871.14" y="1548.86" width="41.32" height="36.14" fill="#3d3b15"/>
<rect x="912.46" y="1548.86" width="41.32" height="36.14" fill="#2f2e12"/>
<rect x="953.79" y="1548.86" width="41.32" height="36.14" fill="#5a1c59"/>
<rect x="995.11" y="1548.86" width="41.32" height="36.14" fill="#5a1c59"/>
<rect x="1036.43" y="1548.86" width="41.32" height="36.14" fill="#5a1c59"/>
<rect x="1077.76" y="1548.86" width="41.32" height="36.14" fill="#151408"/>
<rect x="1119.08" y="1548.86" width="41.32" height="36.14" fill="#151408"/>
<rect x="1160.41" y="1548.86" width="41.32" height="36.14" fill="#2f142e"/>
<rect x="1201.73" y="1548.86" width="41.32" height="36.14" fill="#2f142e"/>
<rect x="1243.05" y="1548.86" width="41.32" height="36.14" fill="#22200e"/>
<rect x="1284.38" y="1548.86" width="41.32" height="36.14" fill="#691d68"/>
<rect x="747.17" y="1585.01" width="41.32" height="36.14" fill="#69671a"/>
<rect x="788.49" y="1585.01" width="41.32" height="36.14" fill="#78771b"/>
<rect x="829.82" y="1585.01" width="41.32" height="36.14" fill="#78771b"/>
<rect x="871.14" y="1585.01" width="41.32" height="36.14" fill="#2f2e12"/>
<rect x="912.46" y="1585.01" width="41.32" height="36.14" fill="#3d3b15"/>
<rect x="953.79" y="1585.01" width="41.32" height="36.14" fill="#5a1c59"/>
<rect x="995.11" y="1585.01" width="41.32" height="36.14" fill="#5a1c59"/>
<rect x="1036.43" y="1585.01" width="41.32" height="36.14" fill="#5a1c59"/>
<rect x="1077.76" y="1585.01" width="41.32" height="36.14" fill="#22200e"/>
<rect x="1119.08" y="1585.01" width="41.32" height="36.14" fill="#151408"/>
<rect x="1160.41" y="1585.01" width="41.32" height="36.14" fill="#150914"/>
<rect x="1201.73" y="1585.01" width="41.32" height="36.14" fill="#2f142e"/>
<rect x="1243.05" y="1585.01" width="41.32" height="36.14" fill="#5a1c59"/>
<rect x="1284.38" y="1585.01" width="41.32" height="36.14" fill="#5a1c59"/>
<rect x="747.17" y="1621.15" width="41.32" height="36.14" fill="#22200e"/>
<rect x="788.49" y="1621.15" width="41.32" height="36.14" fill="#5a5819"/>
<rect x="829.82" y="1621.15" width="41.32" height="36.14" fill="#69671a"/>
<rect x="871.14" y="1621.15" width="41.32" height="36.14" fill="#151408"/>
<rect x="912.46" y="1621.15" width="41.32" height="36.14" fill="#22200e"/>
<rect x="953.79" y="1621.15" width="41.32" height="36.14" fill="#3d173c"/>
<rect x="995.11" y="1621.15" width="41.32" height="36.14" fill="#2f142e"/>
<rect x="1036.43" y="1621.15" width="41.32" height="36.14" fill="#2f2e12"/>
<rect x="1077.76" y="1621.15" width="41.32" height="36.14" fill="#22200e"/>
<rect x="1119.08" y="1621.15" width="41.32" height="36.14" fill="#22200e"/>
<rect x="1160.41" y="1621.15" width="41.32" height="36.14" fill="#221121"/>
<rect x="1201.73" y="1621.15" width="41.32" height="36.14" fill="#150914"/>
<rect x="1243.05" y="1621.15" width="41.32" height="36.14" fill="#000000"/>
<rect x="1284.38" y="1621.15" width="41.32" height="36.14" fill="#ff00ff"/>
<rect x="747.17" y="1657.29" width="41.32" height="36.14" fill="#3d3b15"/>
<rect x="788.49" y="1657.29" width="41.32" height="36.14" fill="#69671a"/>
<rect x="829.82" y="1657.29" width="41.32" height="36.14" fill="#5a5819"/>
<rect x="871.14" y="1657.29" width="41.32" height="36.14" fill="#150914"/>
<rect x="912.46" y="1657.29" width="41.32" height="36.14" fill="#691d68"/>
<rect x="953.79" y="1657.29" width="41.32" height="36.14" fill="#691d68"/>
<rect x="995.11" y="1657.29" width="41.32" height="36.14" fill="#691d68"/>
<rect x="1036.43" y="1657.29" width="41.32" height="36.14" fill="#691d68"/>
<rect x="1077.76" y="1657.29" width="41.32" height="36.14" fill="#3d3b15"/>
<rect x="1119.08" y="1657.29" width="41.32" height="36.14" fill="#2f142e"/>
<rect x="1160.41" y="1657.29" width="41.32" height="36.14" fill="#2f2e12"/>
<rect x="1201.73" y="1657.29" width="41.32" height="36.14" fill="#3d3b15"/>
<rect x="1243.05" y="1657.29" width="41.32" height="36.14" fill="#000000"/>
<rect x="1284.38" y="1657.29" width="41.32" height="36.14" fill="#3d3b15"/>
<rect x="747.17" y="1693.43" width="41.32" height="36.14" fill="#5a5819"/>
<rect x="788.49" y="1693.43" width="41.32" height="36.14" fill="#78771b"/>
<rect x="829.82" y="1693.43" width="41.32" height="36.14" fill="#69671a"/>
<rect x="871.14" y="1693.43" width="41.32" height="36.14" fill="#22200e"/>
<rect x="912.46" y="1693.43" width="41.32" height="36.14" fill="#2f2e12"/>
<rect x="953.79" y="1693.43" width="41.32" height="36.14" fill="#5a1c59"/>
<rect x="995.11" y="1693.43" width="41.32" height="36.14" fill="#5a1c59"/>
<rect x="1036.43" y="1693.43" width="41.32" height="36.14" fill="#151408"/>
<rect x="1077.76" y="1693.43" width="41.32" height="36.14" fill="#2f2e12"/>
<rect x="1119.08" y="1693.43" width="41.32" height="36.14" fill="#2f2e12"/>
<rect x="1160.41" y="1693.43" width="41.32" height="36.14" fill="#5a1c59"/>
<rect x="1201.73" y="1693.43" width="41.32" height="36.14" fill="#2f142e"/>
<rect x="1243.05" y="1693.43" width="41.32" height="36.14" fill="#5a1c59"/>
<rect x="1284.38" y="1693.43" width="41.32" height="36.14" fill="#5a1c59"/>
<rect x="747.17" y="1729.57" width="41.32" height="36.14" fill="#b9b919"/>
<rect x="788.49" y="1729.57" width="41.32" height="36.14" fill="#5a5819"/>
<rect x="829.82" y="1729.57" width="41.32" height="36.14" fill="#151408"/>
<rect x="871.14" y="1729.57" width="41.32" height="36.14" fill="#4b1a4a"/>
<rect x="912.46" y="1729.57" width="41.32" height="36.14" fill="#3d173c"/>
<rect x="953.79" y="1729.57" width="41.32" height="36.14" fill="#4b1a4a"/>
<rect x="995.11" y="1729.57" width="41.32" height="36.14" fill="#981f97"/>
<rect x="1036.43" y="1729.57" width="41.32" height="36.14" fill="#221121"/>
<rect x="1077.76" y="1729.57" width="41.32" height="36.14" fill="#3d3b15"/>
<rect x="1119.08" y="1729.57" width="41.32" height="36.14" fill="#22200e"/>
<rect x="1160.41" y="1729.57" width="41.32" height="36.14" fill="#22200e"/>
<rect x="1201.73" y="1729.57" width="41.32" height="36.14" fill="#22200e"/>
<rect x="1243.05" y="1729.57" width="41.32" height="36.14" fill="#221121"/>
<rect x="1284.38" y="1729.57" width="41.32" height="36.14" fill="#151408"/>
<rect x="747.17" y="1765.72" width="41.32" height="36.14" fill="#b91cb9"/>
<rect x="788.49" y="1765.72" width="41.32" height="36.14" fill="#221121"/>
<rect x="829.82" y="1765.72" width="41.32" height="36.14" fill="#22200e"/>
<rect x="871.14" y="1765.72" width="41.32" height="36.14" fill="#691d68"/>
<rect x="912.46" y="1765.72" width="41.32" height="36.14" fill="#221121"/>
<rect x="953.79" y="1765.72" width="41.32" height="36.14" fill="#4b1a4a"/>
<rect x="995.11" y="1765.72" width="41.32" height="36.14" fill="#2f142e"/>
<rect x="1036.43" y="1765.72" width="41.32" height="36.14" fill="#000000"/>
<rect x="1077.76" y="1765.72" width="41.32" height="36.14" fill="#4b4917"/>
<rect x="1119.08" y="1765.72" width="41.32" height="36.14" fill="#000000"/>
<rect x="1160.41" y="1765.72" width="41.32" height="36.14" fill="#5a5819"/>
<rect x="1201.73" y="1765.72" width="41.32" height="36.14" fill="#69671a"/>
<rect x="1243.05" y="1765.72" width="41.32" height="36.14" fill="#3d3b15"/>
<rect x="1284.38" y="1765.72" width="41.32" height="36.14" fill="#5a5819"/>
<rect x="747.17" y="1801.86" width="41.32" height="36.14" fill="#3d3b15"/>
<rect x="788.49" y="1801.86" width="41.32" height="36.14" fill="#78771b"/>
<rect x="829.82" y="1801.86" width="41.32" height="36.14" fill="#a9a81a"/>
<rect x="871.14" y="1801.86" width="41.32" height="36.14" fill="#22200e"/>
<rect x="912.46" y="1801.86" width="41.32" height="36.14" fill="#22200e"/>
<rect x="953.79" y="1801.86" width="41.32" height="36.14" fill="#691d68"/>
<rect x="995.11" y="1801.86" width="41.32" height="36.14" fill="#150914"/>
<rect x="1036.43" y="1801.86" width="41.32" height="36.14" fill="#000000"/>
<rect x="1077.76" y="1801.86" width="41.32" height="36.14" fill="#000000"/>
<rect x="1119.08" y="1801.86" width="41.32" height="36.14" fill="#150914"/>
<rect x="1160.41" y="1801.86" width="41.32" height="36.14" fill="#221121"/>
<rect x="1201.73" y="1801.86" width="41.32" height="36.14" fill="#2f142e"/>
<rect x="1243.05" y="1801.86" width="41.32" height="36.14" fill="#5a1c59"/>
<rect x="1284.38" y="1801.86" width="41.32" height="36.14" fill="#781e77"/>
<rect x="747.17" y="1838.00" width="41.32" height="36.14" fill="#2f2e12"/>
<rect x="788.49" y="1838.00" width="41.32" height="36.14" fill="#a9a81a"/>
<rect x="829.82" y="1838.00" width="41.32" height="36.14" fill="#a9a81a"/>
<rect x="871.14" y="1838.00" width="41.32" height="36.14" fill="#221121"/>
<rect x="912.46" y="1838.00" width="41.32" height="36.14" fill="#221121"/>
<rect x="953.79" y="1838.00" width="41.32" height="36.14" fill="#691d68"/>
<rect x="995.11" y="1838.00" width="41.32" height="36.14" fill="#5a1c59"/>
<rect x="1036.43" y="1838.00" width="41.32" height="36.14" fill="#2f142e"/>
<rect x="1077.76" y="1838.00" width="41.32" height="36.14" fill="#000000"/>
<rect x="1119.08" y="1838.00" width="41.32" height="36.14" fill="#150914"/>
<rect x="1160.41" y="1838.00" width="41.32" height="36.14" fill="#000000"/>
<rect x="1201.73" y="1838.00" width="41.32" height="36.14" fill="#000000"/>
<rect x="1243.05" y="1838.00" width="41.32" height="36.14" fill="#221121"/>
<rect x="1284.38" y="1838.00" width="41.32" height="36.14" fill="#3d173c"/>
<rect x="747.17" y="1874.14" width="41.32" height="36.14" fill="#22200e"/>
<rect x="788.49" y="1874.14" width="41.32" height="36.14" fill="#22200e"/>
<rect x="829.82" y="1874.14" width="41.32" height="36.14" fill="#2f2e12"/>
<rect x="871.14" y="1874.14" width="41.32" height="36.14" fill="#150914"/>
<rect x="912.46" y="1874.14" width="41.32" height="36.14" fill="#000000"/>
<rect x="953.79" y="1874.14" width="41.32" height="36.14" fill="#2f142e"/>
<rect x="995.11" y="1874.14" width="41.32" height="36.14" fill="#ff00ff"/>
<rect x="1036.43" y="1874.14" width="41.32" height="36.14" fill="#22200e"/>
<rect x="1077.76" y="1874.14" width="41.32" height="36.14" fill="#2f2e12"/>
<rect x="1119.08" y="1874.14" width="41.32" height="36.14" fill="#3d3b15"/>
<rect x="1160.41" y="1874.14" width="41.32" height="36.14" fill="#22200e"/>
<rect x="1201.73" y="1874.14" width="41.32" height="36.14" fill="#2f2e12"/>
<rect x="1243.05" y="1874.14" width="41.32" height="36.14" fill="#151408"/>
<rect x="1284.38" y="1874.14" width="41.32" height="36.14" fill="#000000"/>
<rect x="747.17" y="1910.29" width="41.32" height="36.14" fill="#3d3b15"/>
<rect x="788.49" y="1910.29" width="41.32" height="36.14" fill="#78771b"/>
<rect x="829.82" y="1910.29" width="41.32" height="36.14" fill="#4b4917"/>
<rect x="871.14" y="1910.29" width="41.32" height="36.14" fill="#691d68"/>
<rect x="912.46" y="1910.29" width="41.32" height="36.14" fill="#3d173c"/>
<rect x="953.79" y="1910.29" width="41.32" height="36.14" fill="#691d68"/>
<rect x="995.11" y="1910.29" width="41.32" height="36.14" fill="#981f97"/>
<rect x="1036.43" y="1910.29" width="41.32" height="36.14" fill="#22200e"/>
<rect x="1077.76" y="1910.29" width="41.32" height="36.14" fill="#3d3b15"/>
<rect x="1119.08" y="1910.29" width="41.32" height="36.14" fill="#4b4917"/>
<rect x="1160.41" y="1910.29" width="41.32" height="36.14" fill="#22200e"/>
<rect x="1201.73" y="1910.29" width="41.32" height="36.14" fill="#22200e"/>
<rect x="1243.05" y="1910.29" width="41.32" height="36.14" fill="#150914"/>
<rect x="1284.38" y="1910.29" width="41.32" height="36.14" fill="#3d173c"/>
<rect x="747.17" y="1946.43" width="41.32" height="36.14" fill="#4b1a4a"/>
<rect x="788.49" y="1946.43" width="41.32" height="36.14" fill="#000000"/>
<rect x="829.82" y="1946.43" width="41.32" height="36.14" fill="#4b4917"/>
<rect x="871.14" y="1946.43" width="41.32" height="36.14" fill="#4b1a4a"/>
<rect x="912.46" y="1946.43" width="41.32" height="36.14" fill="#4b1a4a"/>
<rect x="953.79" y="1946.43" width="41.32" height="36.14" fill="#4b1a4a"/>
<rect x="995.11" y="1946.43" width="41.32" height="36.14" fill="#4b1a4a"/>
<rect x="1036.43" y="1946.43" width="41.32" height="36.14" fill="#4b1a4a"/>
<rect x="1077.76" y="1946.43" width="41.32" height="36.14" fill="#2f2e12"/>
<rect x="1119.08" y="1946.43" width="41.32" height="36.14" fill="#2f2e12"/>
<rect x="1160.41" y="1946.43" width="41.32" height="36.14" fill="#69671a"/>
<rect x="1201.73" y="1946.43" width="41.32" height="36.14" fill="#78771b"/>
<rect x="1243.05" y="1946.43" width="41.32" height="36.14" fill="#4b1a4a"/>
<rect x="1284.38" y="1946.43" width="41.32" height="36.14" fill="#69671a"/>
</g>
<g font-family="Liberation Sans, sans-serif" font-style="italic" font-size="20.3" fill="#000" stroke="#000" stroke-width="0.45">
<text x="1331.2" y="1176.47">Slc6a19</text>
<text x="1331.2" y="1212.61">Nat1</text>
<text x="1331.2" y="1248.76">Acadm</text>
<text x="1331.2" y="1284.90">Aldh6a1</text>
<text x="1331.2" y="1321.04">Pah</text>
<text x="1331.2" y="1357.18">Pter</text>
<text x="1331.2" y="1393.32">Phyhd1</text>
<text x="1331.2" y="1429.47">Slc7a9</text>
<text x="1331.2" y="1465.61">Afmid</text>
<text x="1331.2" y="1501.75">Folh1</text>
<text x="1331.2" y="1537.89">Pyroxd2</text>
<text x="1331.2" y="1574.03">Upb1</text>
<text x="1331.2" y="1610.18">Alpl</text>
<text x="1331.2" y="1646.32">Cth</text>
<text x="1331.2" y="1682.46">Acp2</text>
<text x="1331.2" y="1718.60">Dmgdh</text>
<text x="1331.2" y="1754.75">Asl</text>
<text x="1331.2" y="1790.89">Rnpep</text>
<text x="1331.2" y="1827.03">Oplah</text>
<text x="1331.2" y="1863.17">Aldh9a1</text>
<text x="1331.2" y="1899.31">Ttc38</text>
<text x="1331.2" y="1935.46">Ivd</text>
<text x="1331.2" y="1971.60">Nat2</text>
</g>
<g font-family="Liberation Sans, sans-serif" font-size="18.0" fill="#000" stroke="#000" stroke-width="0.45" text-anchor="end">
<text transform="translate(170.46,1996.07) rotate(-45)">S1</text>
<text transform="translate(211.77,1996.07) rotate(-45)">S2</text>
<text transform="translate(253.09,1996.07) rotate(-45)">S3</text>
<text transform="translate(294.40,1996.07) rotate(-45)">DTL1</text>
<text transform="translate(335.71,1996.07) rotate(-45)">DTL2</text>
<text transform="translate(377.03,1996.07) rotate(-45)">DTL3</text>
<text transform="translate(418.34,1996.07) rotate(-45)">ATL</text>
<text transform="translate(459.66,1996.07) rotate(-45)">mTAL</text>
<text transform="translate(500.97,1996.07) rotate(-45)">cTAL</text>
<text transform="translate(542.29,1996.07) rotate(-45)">DCT</text>
<text transform="translate(583.60,1996.07) rotate(-45)">CNT</text>
<text transform="translate(624.91,1996.07) rotate(-45)">CCD</text>
<text transform="translate(666.23,1996.07) rotate(-45)">OMCD</text>
<text transform="translate(707.54,1996.07) rotate(-45)">IMCD</text>
<text transform="translate(772.33,1996.07) rotate(-45)">S1</text>
<text transform="translate(813.66,1996.07) rotate(-45)">S2</text>
<text transform="translate(854.98,1996.07) rotate(-45)">S3</text>
<text transform="translate(896.30,1996.07) rotate(-45)">DTL1</text>
<text transform="translate(937.63,1996.07) rotate(-45)">DTL2</text>
<text transform="translate(978.95,1996.07) rotate(-45)">DTL3</text>
<text transform="translate(1020.27,1996.07) rotate(-45)">ATL</text>
<text transform="translate(1061.60,1996.07) rotate(-45)">mTAL</text>
<text transform="translate(1102.92,1996.07) rotate(-45)">cTAL</text>
<text transform="translate(1144.24,1996.07) rotate(-45)">DCT</text>
<text transform="translate(1185.57,1996.07) rotate(-45)">CNT</text>
<text transform="translate(1226.89,1996.07) rotate(-45)">CCD</text>
<text transform="translate(1268.21,1996.07) rotate(-45)">OMCD</text>
<text transform="translate(1309.54,1996.07) rotate(-45)">IMCD</text>
</g>
<g font-family="Liberation Sans, sans-serif" font-size="22.4" fill="#000" stroke="#000" stroke-width="0.45" text-anchor="middle">
<text x="434.5" y="1139.8">Transcript</text>
<text x="1036.4" y="1139.8">Protein</text>
</g>
<g font-family="Liberation Sans, sans-serif" font-weight="bold" font-size="41" fill="#000">
<text x="-2.6" y="21.8">a</text>
<text x="-2.6" y="1124">b</text>
</g>
<g shape-rendering="crispEdges">
<rect x="1457.2" y="373.10" width="21.00" height="1.00" fill="#ffff00"/>
<rect x="1457.2" y="374.10" width="21.00" height="1.00" fill="#ffff00"/>
<rect x="1457.2" y="375.10" width="21.00" height="1.00" fill="#fefe01"/>
<rect x="1457.2" y="376.10" width="21.00" height="1.00" fill="#f7f705"/>
<rect x="1457.2" y="377.10" width="21.00" height="1.00" fill="#f1f109"/>
<rect x="1457.2" y="378.10" width="21.00" height="1.00" fill="#ebeb0c"/>
<rect x="1457.2" y="379.10" width="21.00" height="1.00" fill="#e5e50f"/>
<rect x="1457.2" y="380.10" width="21.00" height="1.00" fill="#dfde11"/>
<rect x="1457.2" y="381.10" width="21.00" height="1.00" fill="#d9d813"/>
<rect x="1457.2" y="382.10" width="21.00" height="1.00" fill="#d3d214"/>
<rect x="1457.2" y="383.10" width="21.00" height="1.00" fill="#cdcc16"/>
<rect x="1457.2" y="384.10" width="21.00" height="1.00" fill="#c7c617"/>
<rect x="1457.2" y="385.10" width="21.00" height="1.00" fill="#c1c018"/>
<rect x="1457.2" y="386.10" width="21.00" height="1.00" fill="#bbba19"/>
<rect x="1457.2" y="387.10" width="21.00" height="1.00" fill="#b5b419"/>
<rect x="1457.2" y="388.10" width="21.00" height="1.00" fill="#afae1a"/>
<rect x="1457.2" y="389.10" width="21.00" height="1.00" fill="#a9a81a"/>
<rect x="1457.2" y="390.10" width="21.00" height="1.00" fill="#a3a21b"/>
<rect x="1457.2" y="391.10" width="21.00" height="1.00" fill="#9d9c1b"/>
<rect x="1457.2" y="392.10" width="21.00" height="1.00" fill="#98961b"/>
<rect x="1457.2" y="393.10" width="21.00" height="1.00" fill="#92911b"/>
<rect x="1457.2" y="394.10" width="21.00" height="1.00" fill="#8c8b1b"/>
<rect x="1457.2" y="395.10" width="21.00" height="1.00" fill="#87851b"/>
<rect x="1457.2" y="396.10" width="21.00" height="1.00" fill="#81801b"/>
<rect x="1457.2" y="397.10" width="21.00" height="1.00" fill="#7c7a1b"/>
<rect x="1457.2" y="398.10" width="21.00" height="1.00" fill="#76751b"/>
<rect x="1457.2" y="399.10" width="21.00" height="1.00" fill="#716f1a"/>
<rect x="1457.2" y="400.10" width="21.00" height="1.00" fill="#6b6a1a"/>
<rect x="1457.2" y="401.10" width="21.00" height="1.00" fill="#66641a"/>
<rect x="1457.2" y="402.10" width="21.00" height="1.00" fill="#615f19"/>
<rect x="1457.2" y="403.10" width="21.00" height="1.00" fill="#5b5a19"/>
<rect x="1457.2" y="404.10" width="21.00" height="1.00" fill="#565418"/>
<rect x="1457.2" y="405.10" width="21.00" height="1.00" fill="#514f18"/>
<rect x="1457.2" y="406.10" width="21.00" height="1.00" fill="#4c4a17"/>
<rect x="1457.2" y="407.10" width="21.00" height="1.00" fill="#474516"/>
<rect x="1457.2" y="408.10" width="21.00" height="1.00" fill="#424015"/>
<rect x="1457.2" y="409.10" width="21.00" height="1.00" fill="#3d3b15"/>
<rect x="1457.2" y="410.10" width="21.00" height="1.00" fill="#383614"/>
<rect x="1457.2" y="411.10" width="21.00" height="1.00" fill="#333213"/>
<rect x="1457.2" y="412.10" width="21.00" height="1.00" fill="#2e2d12"/>
<rect x="1457.2" y="413.10" width="21.00" height="1.00" fill="#2a2811"/>
<rect x="1457.2" y="414.10" width="21.00" height="1.00" fill="#252410"/>
<rect x="1457.2" y="415.10" width="21.00" height="1.00" fill="#211f0e"/>
<rect x="1457.2" y="416.10" width="21.00" height="1.00" fill="#1c1b0c"/>
<rect x="1457.2" y="417.10" width="21.00" height="1.00" fill="#181609"/>
<rect x="1457.2" y="418.10" width="21.00" height="1.00" fill="#131106"/>
<rect x="1457.2" y="419.10" width="21.00" height="1.00" fill="#0c0b04"/>
<rect x="1457.2" y="420.10" width="21.00" height="1.00" fill="#040301"/>
<rect x="1457.2" y="421.10" width="21.00" height="1.00" fill="#050205"/>
<rect x="1457.2" y="422.10" width="21.00" height="1.00" fill="#0e050d"/>
<rect x="1457.2" y="423.10" width="21.00" height="1.00" fill="#140913"/>
<rect x="1457.2" y="424.10" width="21.00" height="1.00" fill="#190c18"/>
<rect x="1457.2" y="425.10" width="21.00" height="1.00" fill="#1d0e1c"/>
<rect x="1457.2" y="426.10" width="21.00" height="1.00" fill="#211020"/>
<rect x="1457.2" y="427.10" width="21.00" height="1.00" fill="#261225"/>
<rect x="1457.2" y="428.10" width="21.00" height="1.00" fill="#2b1329"/>
<rect x="1457.2" y="429.10" width="21.00" height="1.00" fill="#2f142e"/>
<rect x="1457.2" y="430.10" width="21.00" height="1.00" fill="#341533"/>
<rect x="1457.2" y="431.10" width="21.00" height="1.00" fill="#391638"/>
<rect x="1457.2" y="432.10" width="21.00" height="1.00" fill="#3e173d"/>
<rect x="1457.2" y="433.10" width="21.00" height="1.00" fill="#431842"/>
<rect x="1457.2" y="434.10" width="21.00" height="1.00" fill="#481947"/>
<rect x="1457.2" y="435.10" width="21.00" height="1.00" fill="#4d1a4c"/>
<rect x="1457.2" y="436.10" width="21.00" height="1.00" fill="#521b51"/>
<rect x="1457.2" y="437.10" width="21.00" height="1.00" fill="#571b56"/>
<rect x="1457.2" y="438.10" width="21.00" height="1.00" fill="#5c1c5b"/>
<rect x="1457.2" y="439.10" width="21.00" height="1.00" fill="#621d60"/>
<rect x="1457.2" y="440.10" width="21.00" height="1.00" fill="#671d66"/>
<rect x="1457.2" y="441.10" width="21.00" height="1.00" fill="#6c1e6b"/>
<rect x="1457.2" y="442.10" width="21.00" height="1.00" fill="#721e71"/>
<rect x="1457.2" y="443.10" width="21.00" height="1.00" fill="#771e76"/>
<rect x="1457.2" y="444.10" width="21.00" height="1.00" fill="#7d1f7c"/>
<rect x="1457.2" y="445.10" width="21.00" height="1.00" fill="#821f81"/>
<rect x="1457.2" y="446.10" width="21.00" height="1.00" fill="#881f87"/>
<rect x="1457.2" y="447.10" width="21.00" height="1.00" fill="#8e1f8c"/>
<rect x="1457.2" y="448.10" width="21.00" height="1.00" fill="#931f92"/>
<rect x="1457.2" y="449.10" width="21.00" height="1.00" fill="#991f98"/>
<rect x="1457.2" y="450.10" width="21.00" height="1.00" fill="#9f1f9e"/>
<rect x="1457.2" y="451.10" width="21.00" height="1.00" fill="#a41ea4"/>
<rect x="1457.2" y="452.10" width="21.00" height="1.00" fill="#aa1ea9"/>
<rect x="1457.2" y="453.10" width="21.00" height="1.00" fill="#b01daf"/>
<rect x="1457.2" y="454.10" width="21.00" height="1.00" fill="#b61db5"/>
<rect x="1457.2" y="455.10" width="21.00" height="1.00" fill="#bc1cbb"/>
<rect x="1457.2" y="456.10" width="21.00" height="1.00" fill="#c21bc1"/>
<rect x="1457.2" y="457.10" width="21.00" height="1.00" fill="#c81ac7"/>
<rect x="1457.2" y="458.10" width="21.00" height="1.00" fill="#ce19cd"/>
<rect x="1457.2" y="459.10" width="21.00" height="1.00" fill="#d417d3"/>
<rect x="1457.2" y="460.10" width="21.00" height="1.00" fill="#da16da"/>
<rect x="1457.2" y="461.10" width="21.00" height="1.00" fill="#e014e0"/>
<rect x="1457.2" y="462.10" width="21.00" height="1.00" fill="#e611e6"/>
<rect x="1457.2" y="463.10" width="21.00" height="1.00" fill="#ec0eec"/>
<rect x="1457.2" y="464.10" width="21.00" height="1.00" fill="#f30af2"/>
<rect x="1457.2" y="465.10" width="21.00" height="1.00" fill="#f905f9"/>
<rect x="1457.2" y="466.10" width="21.00" height="1.00" fill="#ff00ff"/>
<rect x="1457.2" y="467.10" width="21.00" height="1.00" fill="#ff00ff"/>
<rect x="1457.2" y="468.10" width="21.00" height="1.00" fill="#ff00ff"/>
<rect x="1457.2" y="469.10" width="21.00" height="0.80" fill="#ff00ff"/>
</g>
<g stroke="#fff" stroke-width="1.25">
<line x1="1457.2" x2="1461.40" y1="375.40" y2="375.40"/><line x1="1474.00" x2="1478.2" y1="375.40" y2="375.40"/>
<line x1="1457.2" x2="1461.40" y1="398.20" y2="398.20"/><line x1="1474.00" x2="1478.2" y1="398.20" y2="398.20"/>
<line x1="1457.2" x2="1461.40" y1="421.00" y2="421.00"/><line x1="1474.00" x2="1478.2" y1="421.00" y2="421.00"/>
<line x1="1457.2" x2="1461.40" y1="443.80" y2="443.80"/><line x1="1474.00" x2="1478.2" y1="443.80" y2="443.80"/>
<line x1="1457.2" x2="1461.40" y1="466.60" y2="466.60"/><line x1="1474.00" x2="1478.2" y1="466.60" y2="466.60"/>
</g>
<g font-family="Liberation Sans, sans-serif" font-size="16.2" fill="#000" stroke="#000" stroke-width="0.45">
<text x="1481.4" y="381.23">4</text>
<text x="1481.4" y="404.03">2</text>
<text x="1481.4" y="426.83">0</text>
<text x="1481.4" y="449.63">−2</text>
<text x="1481.4" y="472.43">−4</text>
</g>
<text font-family="Liberation Sans, sans-serif" font-size="20.2" fill="#000" stroke="#000" stroke-width="0.45" text-anchor="middle" transform="translate(1450.0,421.10) rotate(-90)">Expression z−score</text>
<g shape-rendering="crispEdges">
<rect x="1443.8" y="1530.00" width="20.00" height="1.00" fill="#ffff00"/>
<rect x="1443.8" y="1531.00" width="20.00" height="1.00" fill="#ffff00"/>
<rect x="1443.8" y="1532.00" width="20.00" height="1.00" fill="#ffff00"/>
<rect x="1443.8" y="1533.00" width="20.00" height="1.00" fill="#ffff00"/>
<rect x="1443.8" y="1534.00" width="20.00" height="1.00" fill="#ffff00"/>
<rect x="1443.8" y="1535.00" width="20.00" height="1.00" fill="#ffff00"/>
<rect x="1443.8" y="1536.00" width="20.00" height="1.00" fill="#ffff00"/>
<rect x="1443.8" y="1537.00" width="20.00" height="1.00" fill="#ffff00"/>
<rect x="1443.8" y="1538.00" width="20.00" height="1.00" fill="#ffff00"/>
<rect x="1443.8" y="1539.00" width="20.00" height="1.00" fill="#ffff00"/>
<rect x="1443.8" y="1540.00" width="20.00" height="1.00" fill="#ffff00"/>
<rect x="1443.8" y="1541.00" width="20.00" height="1.00" fill="#ffff00"/>
<rect x="1443.8" y="1542.00" width="20.00" height="1.00" fill="#ffff00"/>
<rect x="1443.8" y="1543.00" width="20.00" height="1.00" fill="#fafa03"/>
<rect x="1443.8" y="1544.00" width="20.00" height="1.00" fill="#f1f109"/>
<rect x="1443.8" y="1545.00" width="20.00" height="1.00" fill="#e9e80d"/>
<rect x="1443.8" y="1546.00" width="20.00" height="1.00" fill="#e0e010"/>
<rect x="1443.8" y="1547.00" width="20.00" height="1.00" fill="#d8d713"/>
<rect x="1443.8" y="1548.00" width="20.00" height="1.00" fill="#cfcf15"/>
<rect x="1443.8" y="1549.00" width="20.00" height="1.00" fill="#c7c617"/>
<rect x="1443.8" y="1550.00" width="20.00" height="1.00" fill="#bfbe18"/>
<rect x="1443.8" y="1551.00" width="20.00" height="1.00" fill="#b7b619"/>
<rect x="1443.8" y="1552.00" width="20.00" height="1.00" fill="#aead1a"/>
<rect x="1443.8" y="1553.00" width="20.00" height="1.00" fill="#a6a51a"/>
<rect x="1443.8" y="1554.00" width="20.00" height="1.00" fill="#9e9d1b"/>
<rect x="1443.8" y="1555.00" width="20.00" height="1.00" fill="#96951b"/>
<rect x="1443.8" y="1556.00" width="20.00" height="1.00" fill="#8f8d1b"/>
<rect x="1443.8" y="1557.00" width="20.00" height="1.00" fill="#87851b"/>
<rect x="1443.8" y="1558.00" width="20.00" height="1.00" fill="#7f7e1b"/>
<rect x="1443.8" y="1559.00" width="20.00" height="1.00" fill="#78761b"/>
<rect x="1443.8" y="1560.00" width="20.00" height="1.00" fill="#706e1a"/>
<rect x="1443.8" y="1561.00" width="20.00" height="1.00" fill="#69671a"/>
<rect x="1443.8" y="1562.00" width="20.00" height="1.00" fill="#616019"/>
<rect x="1443.8" y="1563.00" width="20.00" height="1.00" fill="#5a5819"/>
<rect x="1443.8" y="1564.00" width="20.00" height="1.00" fill="#535118"/>
<rect x="1443.8" y="1565.00" width="20.00" height="1.00" fill="#4c4a17"/>
<rect x="1443.8" y="1566.00" width="20.00" height="1.00" fill="#454316"/>
<rect x="1443.8" y="1567.00" width="20.00" height="1.00" fill="#3e3c15"/>
<rect x="1443.8" y="1568.00" width="20.00" height="1.00" fill="#373514"/>
<rect x="1443.8" y="1569.00" width="20.00" height="1.00" fill="#302f12"/>
<rect x="1443.8" y="1570.00" width="20.00" height="1.00" fill="#2a2811"/>
<rect x="1443.8" y="1571.00" width="20.00" height="1.00" fill="#24220f"/>
<rect x="1443.8" y="1572.00" width="20.00" height="1.00" fill="#1e1c0c"/>
<rect x="1443.8" y="1573.00" width="20.00" height="1.00" fill="#181609"/>
<rect x="1443.8" y="1574.00" width="20.00" height="1.00" fill="#100f05"/>
<rect x="1443.8" y="1575.00" width="20.00" height="1.00" fill="#050401"/>
<rect x="1443.8" y="1576.00" width="20.00" height="1.00" fill="#070307"/>
<rect x="1443.8" y="1577.00" width="20.00" height="1.00" fill="#120711"/>
<rect x="1443.8" y="1578.00" width="20.00" height="1.00" fill="#190c18"/>
<rect x="1443.8" y="1579.00" width="20.00" height="1.00" fill="#1f0f1e"/>
<rect x="1443.8" y="1580.00" width="20.00" height="1.00" fill="#251124"/>
<rect x="1443.8" y="1581.00" width="20.00" height="1.00" fill="#2b132a"/>
<rect x="1443.8" y="1582.00" width="20.00" height="1.00" fill="#321531"/>
<rect x="1443.8" y="1583.00" width="20.00" height="1.00" fill="#381637"/>
<rect x="1443.8" y="1584.00" width="20.00" height="1.00" fill="#3f173e"/>
<rect x="1443.8" y="1585.00" width="20.00" height="1.00" fill="#461945"/>
<rect x="1443.8" y="1586.00" width="20.00" height="1.00" fill="#4d1a4c"/>
<rect x="1443.8" y="1587.00" width="20.00" height="1.00" fill="#541b53"/>
<rect x="1443.8" y="1588.00" width="20.00" height="1.00" fill="#5b1c5a"/>
<rect x="1443.8" y="1589.00" width="20.00" height="1.00" fill="#631d61"/>
<rect x="1443.8" y="1590.00" width="20.00" height="1.00" fill="#6a1d69"/>
<rect x="1443.8" y="1591.00" width="20.00" height="1.00" fill="#721e70"/>
<rect x="1443.8" y="1592.00" width="20.00" height="1.00" fill="#791e78"/>
<rect x="1443.8" y="1593.00" width="20.00" height="1.00" fill="#811f80"/>
<rect x="1443.8" y="1594.00" width="20.00" height="1.00" fill="#881f87"/>
<rect x="1443.8" y="1595.00" width="20.00" height="1.00" fill="#901f8f"/>
<rect x="1443.8" y="1596.00" width="20.00" height="1.00" fill="#981f97"/>
<rect x="1443.8" y="1597.00" width="20.00" height="1.00" fill="#a01f9f"/>
<rect x="1443.8" y="1598.00" width="20.00" height="1.00" fill="#a81ea7"/>
<rect x="1443.8" y="1599.00" width="20.00" height="1.00" fill="#b01daf"/>
<rect x="1443.8" y="1600.00" width="20.00" height="1.00" fill="#b81db8"/>
<rect x="1443.8" y="1601.00" width="20.00" height="1.00" fill="#c01bc0"/>
<rect x="1443.8" y="1602.00" width="20.00" height="1.00" fill="#c91ac8"/>
<rect x="1443.8" y="1603.00" width="20.00" height="1.00" fill="#d118d1"/>
<rect x="1443.8" y="1604.00" width="20.00" height="1.00" fill="#d916d9"/>
<rect x="1443.8" y="1605.00" width="20.00" height="1.00" fill="#e213e2"/>
<rect x="1443.8" y="1606.00" width="20.00" height="1.00" fill="#ea0fea"/>
<rect x="1443.8" y="1607.00" width="20.00" height="1.00" fill="#f30af3"/>
<rect x="1443.8" y="1608.00" width="20.00" height="1.00" fill="#fc03fb"/>
<rect x="1443.8" y="1609.00" width="20.00" height="1.00" fill="#ff00ff"/>
<rect x="1443.8" y="1610.00" width="20.00" height="1.00" fill="#ff00ff"/>
<rect x="1443.8" y="1611.00" width="20.00" height="1.00" fill="#ff00ff"/>
<rect x="1443.8" y="1612.00" width="20.00" height="1.00" fill="#ff00ff"/>
<rect x="1443.8" y="1613.00" width="20.00" height="1.00" fill="#ff00ff"/>
<rect x="1443.8" y="1614.00" width="20.00" height="1.00" fill="#ff00ff"/>
<rect x="1443.8" y="1615.00" width="20.00" height="1.00" fill="#ff00ff"/>
<rect x="1443.8" y="1616.00" width="20.00" height="1.00" fill="#ff00ff"/>
<rect x="1443.8" y="1617.00" width="20.00" height="1.00" fill="#ff00ff"/>
<rect x="1443.8" y="1618.00" width="20.00" height="1.00" fill="#ff00ff"/>
<rect x="1443.8" y="1619.00" width="20.00" height="1.00" fill="#ff00ff"/>
<rect x="1443.8" y="1620.00" width="20.00" height="1.00" fill="#ff00ff"/>
<rect x="1443.8" y="1621.00" width="20.00" height="1.00" fill="#ff00ff"/>
<rect x="1443.8" y="1622.00" width="20.00" height="0.80" fill="#ff00ff"/>
</g>
<g stroke="#fff" stroke-width="1.25">
<line x1="1443.8" x2="1447.80" y1="1531.90" y2="1531.90"/><line x1="1459.80" x2="1463.8" y1="1531.90" y2="1531.90"/>
<line x1="1443.8" x2="1447.80" y1="1553.90" y2="1553.90"/><line x1="1459.80" x2="1463.8" y1="1553.90" y2="1553.90"/>
<line x1="1443.8" x2="1447.80" y1="1575.90" y2="1575.90"/><line x1="1459.80" x2="1463.8" y1="1575.90" y2="1575.90"/>
<line x1="1443.8" x2="1447.80" y1="1597.90" y2="1597.90"/><line x1="1459.80" x2="1463.8" y1="1597.90" y2="1597.90"/>
<line x1="1443.8" x2="1447.80" y1="1619.90" y2="1619.90"/><line x1="1459.80" x2="1463.8" y1="1619.90" y2="1619.90"/>
</g>
<g font-family="Liberation Sans, sans-serif" font-size="15.3" fill="#000" stroke="#000" stroke-width="0.45">
<text x="1467.2" y="1537.41">4</text>
<text x="1467.2" y="1559.41">2</text>
<text x="1467.2" y="1581.41">0</text>
<text x="1467.2" y="1603.41">−2</text>
<text x="1467.2" y="1625.41">−4</text>
</g>
<text font-family="Liberation Sans, sans-serif" font-size="19.5" fill="#000" stroke="#000" stroke-width="0.45" text-anchor="middle" transform="translate(1437.7,1575.00) rotate(-90)">Expression z−score</text>
</g>
</svg>
</body></html>
